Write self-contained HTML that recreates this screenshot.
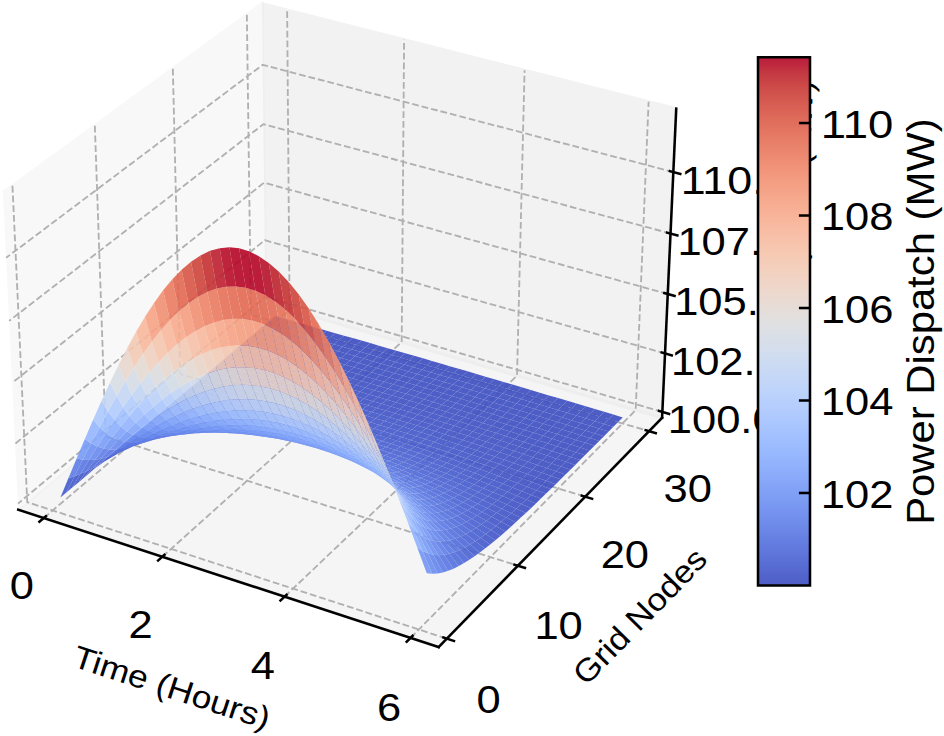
<!DOCTYPE html>
<html><head><meta charset="utf-8"><title>Power Dispatch Surface</title>
<style>html,body{margin:0;padding:0;background:#fff;overflow:hidden}svg{display:block}
text{font-family:"Liberation Sans",sans-serif;fill:#000}</style></head>
<body>
<svg width="944" height="736" viewBox="0.000 0.000 297.792 232.177">
<defs><linearGradient id="cbg" x1="0" y1="0" x2="0" y2="1"><stop offset="0.000" stop-color="#3b4cc0"/><stop offset="0.016" stop-color="#3f53c6"/><stop offset="0.031" stop-color="#445acc"/><stop offset="0.047" stop-color="#4961d2"/><stop offset="0.062" stop-color="#4e68d8"/><stop offset="0.078" stop-color="#536edd"/><stop offset="0.094" stop-color="#5875e1"/><stop offset="0.109" stop-color="#5d7ce6"/><stop offset="0.125" stop-color="#6282ea"/><stop offset="0.141" stop-color="#6788ee"/><stop offset="0.156" stop-color="#6c8ff1"/><stop offset="0.172" stop-color="#7295f4"/><stop offset="0.188" stop-color="#779af7"/><stop offset="0.203" stop-color="#7da0f9"/><stop offset="0.219" stop-color="#82a6fb"/><stop offset="0.234" stop-color="#88abfd"/><stop offset="0.250" stop-color="#8db0fe"/><stop offset="0.266" stop-color="#93b5fe"/><stop offset="0.281" stop-color="#98b9ff"/><stop offset="0.297" stop-color="#9ebeff"/><stop offset="0.312" stop-color="#a3c2fe"/><stop offset="0.328" stop-color="#a9c6fd"/><stop offset="0.344" stop-color="#aec9fc"/><stop offset="0.359" stop-color="#b3cdfb"/><stop offset="0.375" stop-color="#b9d0f9"/><stop offset="0.391" stop-color="#bed2f6"/><stop offset="0.406" stop-color="#c3d5f4"/><stop offset="0.422" stop-color="#c7d7f0"/><stop offset="0.438" stop-color="#ccd9ed"/><stop offset="0.453" stop-color="#d1dae9"/><stop offset="0.469" stop-color="#d5dbe5"/><stop offset="0.484" stop-color="#d9dce1"/><stop offset="0.500" stop-color="#dddcdc"/><stop offset="0.516" stop-color="#e1dad6"/><stop offset="0.531" stop-color="#e5d8d1"/><stop offset="0.547" stop-color="#e9d5cb"/><stop offset="0.562" stop-color="#ecd3c5"/><stop offset="0.578" stop-color="#efcfbf"/><stop offset="0.594" stop-color="#f1ccb8"/><stop offset="0.609" stop-color="#f3c8b2"/><stop offset="0.625" stop-color="#f5c4ac"/><stop offset="0.641" stop-color="#f6bfa6"/><stop offset="0.656" stop-color="#f7ba9f"/><stop offset="0.672" stop-color="#f7b599"/><stop offset="0.688" stop-color="#f7b093"/><stop offset="0.703" stop-color="#f7aa8c"/><stop offset="0.719" stop-color="#f6a586"/><stop offset="0.734" stop-color="#f59f80"/><stop offset="0.750" stop-color="#f4987a"/><stop offset="0.766" stop-color="#f29274"/><stop offset="0.781" stop-color="#f08b6e"/><stop offset="0.797" stop-color="#ee8468"/><stop offset="0.812" stop-color="#eb7d62"/><stop offset="0.828" stop-color="#e8765c"/><stop offset="0.844" stop-color="#e46e56"/><stop offset="0.859" stop-color="#e16751"/><stop offset="0.875" stop-color="#dd5f4b"/><stop offset="0.891" stop-color="#d85646"/><stop offset="0.906" stop-color="#d44e41"/><stop offset="0.922" stop-color="#cf453c"/><stop offset="0.938" stop-color="#ca3b37"/><stop offset="0.953" stop-color="#c43032"/><stop offset="0.969" stop-color="#be242e"/><stop offset="0.984" stop-color="#b8122a"/><stop offset="1.000" stop-color="#b40426"/></linearGradient>
<style type="text/css">*{stroke-linejoin: round; stroke-linecap: butt}</style>
</defs>
<g>
<g>
<path d="M 0 232.18 L 297.79 232.18 L 297.79 0 L 0 0 z" style="fill:#ffffff"/>
</g>
<g>
<path d="M -12.07 219.01 L 224.05 219.01 L 224.05 -17.11 L -12.07 -17.11 z" style="fill:#ffffff"/>
</g>
<g>
<g>
<path d="M 5.76 160.79 L 83.74 95.43 L 82.65 1.17 L 0.95 60.79" style="fill:#f2f2f2; opacity: 0.5; stroke: #f2f2f2; stroke-linejoin: miter"/>
</g>
</g>
<g>
<g>
<path d="M 83.74 95.43 L 208.86 131.79 L 213.32 34.29 L 82.65 1.17" style="fill:#e6e6e6; opacity: 0.5; stroke: #e6e6e6; stroke-linejoin: miter"/>
</g>
</g>
<g>
<g>
<path d="M 5.76 160.79 L 138.4 204.11 L 208.86 131.79 L 83.74 95.43" style="fill:#ececec; opacity: 0.5; stroke: #ececec; stroke-linejoin: miter"/>
</g>
</g>
<g>
<g>
<path d="M 13.8 163.41 L 91.35 97.64 L 90.58 3.18" style="fill:none; stroke-dasharray: 2.146,0.928; stroke-dashoffset: 0; stroke: #b0b0b0; stroke-width: 0.58"/>
<path d="M 51.2 175.63 L 126.72 107.92 L 127.48 12.53" style="fill:none; stroke-dasharray: 2.146,0.928; stroke-dashoffset: 0; stroke: #b0b0b0; stroke-width: 0.58"/>
<path d="M 89.76 188.22 L 163.1 118.5 L 165.48 22.16" style="fill:none; stroke-dasharray: 2.146,0.928; stroke-dashoffset: 0; stroke: #b0b0b0; stroke-width: 0.58"/>
<path d="M 129.53 201.21 L 200.53 129.37 L 204.61 32.08" style="fill:none; stroke-dasharray: 2.146,0.928; stroke-dashoffset: 0; stroke: #b0b0b0; stroke-width: 0.58"/>
</g>
</g>
<g>
<g>
<path d="M 3.93 58.61 L 8.6 158.41 L 140.97 201.46" style="fill:none; stroke-dasharray: 2.146,0.928; stroke-dashoffset: 0; stroke: #b0b0b0; stroke-width: 0.58"/>
<path d="M 29.92 39.65 L 33.34 137.67 L 163.39 178.45" style="fill:none; stroke-dasharray: 2.146,0.928; stroke-dashoffset: 0; stroke: #b0b0b0; stroke-width: 0.58"/>
<path d="M 54.53 21.69 L 56.83 117.98 L 184.61 156.67" style="fill:none; stroke-dasharray: 2.146,0.928; stroke-dashoffset: 0; stroke: #b0b0b0; stroke-width: 0.58"/>
<path d="M 77.87 4.66 L 79.16 99.27 L 204.74 136.02" style="fill:none; stroke-dasharray: 2.146,0.928; stroke-dashoffset: 0; stroke: #b0b0b0; stroke-width: 0.58"/>
</g>
</g>
<g>
<g>
<path d="M 208.94 129.93 L 83.72 93.62 L 5.67 158.87" style="fill:none; stroke-dasharray: 2.146,0.928; stroke-dashoffset: 0; stroke: #b0b0b0; stroke-width: 0.58"/>
<path d="M 209.79 111.49 L 83.51 75.77 L 4.76 139.99" style="fill:none; stroke-dasharray: 2.146,0.928; stroke-dashoffset: 0; stroke: #b0b0b0; stroke-width: 0.58"/>
<path d="M 210.65 92.74 L 83.3 57.63 L 3.84 120.78" style="fill:none; stroke-dasharray: 2.146,0.928; stroke-dashoffset: 0; stroke: #b0b0b0; stroke-width: 0.58"/>
<path d="M 211.52 73.67 L 83.09 39.19 L 2.89 101.22" style="fill:none; stroke-dasharray: 2.146,0.928; stroke-dashoffset: 0; stroke: #b0b0b0; stroke-width: 0.58"/>
<path d="M 212.41 54.27 L 82.87 20.45 L 1.94 81.31" style="fill:none; stroke-dasharray: 2.146,0.928; stroke-dashoffset: 0; stroke: #b0b0b0; stroke-width: 0.58"/>
</g>
</g>
<g>
<g>
<path d="M 5.76 160.79 L 138.4 204.11" style="fill:none; stroke: #000000; stroke-width: 0.8; stroke-linecap: square"/>
</g>
<g>
<g>
<path d="M 14.47 162.84 L 12.44 164.56" style="fill:none; stroke: #000000; stroke-width: 0.8; stroke-linecap: square"/>
</g>
<g>
<text x="6.89" y="188.88" font-size="12" text-anchor="middle" textLength="7.63" lengthAdjust="spacingAndGlyphs">0</text>
</g>
</g>
<g>
<g>
<path d="M 51.86 175.04 L 49.88 176.81" style="fill:none; stroke: #000000; stroke-width: 0.8; stroke-linecap: square"/>
</g>
<g>
<text x="44.34" y="201.39" font-size="12" text-anchor="middle" textLength="7.63" lengthAdjust="spacingAndGlyphs">2</text>
</g>
</g>
<g>
<g>
<path d="M 90.4 187.61 L 88.48 189.44" style="fill:none; stroke: #000000; stroke-width: 0.8; stroke-linecap: square"/>
</g>
<g>
<text x="82.95" y="214.28" font-size="12" text-anchor="middle" textLength="7.63" lengthAdjust="spacingAndGlyphs">4</text>
</g>
</g>
<g>
<g>
<path d="M 130.15 200.58 L 128.29 202.47" style="fill:none; stroke: #000000; stroke-width: 0.8; stroke-linecap: square"/>
</g>
<g>
<text x="122.78" y="227.59" font-size="12" text-anchor="middle" textLength="7.63" lengthAdjust="spacingAndGlyphs">6</text>
</g>
</g>
<g>
<text x="53.17" y="220.12" font-size="10" text-anchor="middle" textLength="64.75" lengthAdjust="spacingAndGlyphs" transform="rotate(-341.913 53.17 220.12)">Time (Hours)</text>
</g>
</g>
<g>
<g>
<path d="M 208.86 131.79 L 138.4 204.11" style="fill:none; stroke: #000000; stroke-width: 0.8; stroke-linecap: square"/>
</g>
<g>
<g>
<path d="M 139.86 201.1 L 143.21 202.19" style="fill:none; stroke: #000000; stroke-width: 0.8; stroke-linecap: square"/>
</g>
<g>
<text x="154.14" y="224.83" font-size="12" text-anchor="middle" textLength="7.63" lengthAdjust="spacingAndGlyphs">0</text>
</g>
</g>
<g>
<g>
<path d="M 162.3 178.11 L 165.58 179.14" style="fill:none; stroke: #000000; stroke-width: 0.8; stroke-linecap: square"/>
</g>
<g>
<text x="176.22" y="201.44" font-size="12" text-anchor="middle" textLength="15.27" lengthAdjust="spacingAndGlyphs">10</text>
</g>
</g>
<g>
<g>
<path d="M 183.54 156.35 L 186.77 157.33" style="fill:none; stroke: #000000; stroke-width: 0.8; stroke-linecap: square"/>
</g>
<g>
<text x="197.12" y="179.30" font-size="12" text-anchor="middle" textLength="15.27" lengthAdjust="spacingAndGlyphs">20</text>
</g>
</g>
<g>
<g>
<path d="M 203.68 135.72 L 206.85 136.64" style="fill:none; stroke: #000000; stroke-width: 0.8; stroke-linecap: square"/>
</g>
<g>
<text x="216.94" y="158.31" font-size="12" text-anchor="middle" textLength="15.27" lengthAdjust="spacingAndGlyphs">30</text>
</g>
</g>
<g>
<text x="204.31" y="196.75" font-size="10" text-anchor="middle" textLength="55.47" lengthAdjust="spacingAndGlyphs" transform="rotate(-45.742 204.31 196.75)">Grid Nodes</text>
</g>
</g>
<g>
<g>
<path d="M 208.86 131.79 L 213.32 34.29" style="fill:none; stroke: #000000; stroke-width: 0.8; stroke-linecap: square"/>
</g>
<g>
<g>
<path d="M 207.89 129.62 L 211.05 130.54" style="fill:none; stroke: #000000; stroke-width: 0.8; stroke-linecap: square"/>
</g>
<g>
<text x="227.83" y="136.60" font-size="12" text-anchor="middle" textLength="34.35" lengthAdjust="spacingAndGlyphs">100.0</text>
</g>
</g>
<g>
<g>
<path d="M 208.73 111.19 L 211.91 112.09" style="fill:none; stroke: #000000; stroke-width: 0.8; stroke-linecap: square"/>
</g>
<g>
<text x="228.83" y="118.21" font-size="12" text-anchor="middle" textLength="34.35" lengthAdjust="spacingAndGlyphs">102.5</text>
</g>
</g>
<g>
<g>
<path d="M 209.58 92.45 L 212.79 93.34" style="fill:none; stroke: #000000; stroke-width: 0.8; stroke-linecap: square"/>
</g>
<g>
<text x="229.84" y="99.50" font-size="12" text-anchor="middle" textLength="34.35" lengthAdjust="spacingAndGlyphs">105.0</text>
</g>
</g>
<g>
<g>
<path d="M 210.44 73.38 L 213.68 74.25" style="fill:none; stroke: #000000; stroke-width: 0.8; stroke-linecap: square"/>
</g>
<g>
<text x="230.87" y="80.48" font-size="12" text-anchor="middle" textLength="34.35" lengthAdjust="spacingAndGlyphs">107.5</text>
</g>
</g>
<g>
<g>
<path d="M 211.32 53.99 L 214.59 54.84" style="fill:none; stroke: #000000; stroke-width: 0.8; stroke-linecap: square"/>
</g>
<g>
<text x="231.92" y="61.12" font-size="12" text-anchor="middle" textLength="34.35" lengthAdjust="spacingAndGlyphs">110.0</text>
</g>
</g>
<g>
<text x="254.14" y="78.83" font-size="10" text-anchor="middle" textLength="106.83" lengthAdjust="spacingAndGlyphs" transform="rotate(-87.378 254.14 78.83)">Power Dispatch (MW)</text>
</g>
</g>
<g>
<g>
<path d="M 85.16 101.05 L 87.86 101.81 L 89.47 100.45 L 86.77 99.68 z" style="fill:#3b4cc0;fill-opacity:0.9"/>
<path d="M 87.86 101.81 L 90.57 102.58 L 92.18 101.22 L 89.47 100.45 z" style="fill:#3b4cc0;fill-opacity:0.9"/>
<path d="M 83.54 102.42 L 86.24 103.18 L 87.86 101.81 L 85.16 101.05 z" style="fill:#3b4cc0;fill-opacity:0.9"/>
<path d="M 90.57 102.58 L 93.28 103.35 L 94.89 101.99 L 92.18 101.22 z" style="fill:#3b4cc0;fill-opacity:0.9"/>
<path d="M 86.24 103.18 L 88.95 103.95 L 90.57 102.58 L 87.86 101.81 z" style="fill:#3b4cc0;fill-opacity:0.9"/>
<path d="M 93.28 103.35 L 96 104.13 L 97.6 102.76 L 94.89 101.99 z" style="fill:#3b4cc0;fill-opacity:0.9"/>
<path d="M 81.91 103.79 L 84.62 104.56 L 86.24 103.18 L 83.54 102.42 z" style="fill:#3b4cc0;fill-opacity:0.9"/>
<path d="M 88.95 103.95 L 91.67 104.72 L 93.28 103.35 L 90.57 102.58 z" style="fill:#3b4cc0;fill-opacity:0.9"/>
<path d="M 96 104.13 L 98.72 104.9 L 100.32 103.54 L 97.6 102.76 z" style="fill:#3b4cc0;fill-opacity:0.9"/>
<path d="M 84.62 104.56 L 87.33 105.33 L 88.95 103.95 L 86.24 103.18 z" style="fill:#3b4cc0;fill-opacity:0.9"/>
<path d="M 91.67 104.72 L 94.39 105.49 L 96 104.13 L 93.28 103.35 z" style="fill:#3b4cc0;fill-opacity:0.9"/>
<path d="M 98.72 104.9 L 101.45 105.68 L 103.05 104.32 L 100.32 103.54 z" style="fill:#3b4cc0;fill-opacity:0.9"/>
<path d="M 80.28 105.17 L 82.99 105.94 L 84.62 104.56 L 81.91 103.79 z" style="fill:#3b4cc0;fill-opacity:0.9"/>
<path d="M 87.33 105.33 L 90.05 106.09 L 91.67 104.72 L 88.95 103.95 z" style="fill:#3b4cc0;fill-opacity:0.9"/>
<path d="M 94.39 105.49 L 97.12 106.27 L 98.72 104.9 L 96 104.13 z" style="fill:#3b4cc0;fill-opacity:0.9"/>
<path d="M 101.45 105.68 L 104.19 106.46 L 105.78 105.1 L 103.05 104.32 z" style="fill:#3b4cc0;fill-opacity:0.9"/>
<path d="M 82.99 105.94 L 85.71 106.7 L 87.33 105.33 L 84.62 104.56 z" style="fill:#3b4cc0;fill-opacity:0.9"/>
<path d="M 90.05 106.09 L 92.78 106.86 L 94.39 105.49 L 91.67 104.72 z" style="fill:#3b4cc0;fill-opacity:0.9"/>
<path d="M 97.12 106.27 L 99.85 107.05 L 101.45 105.68 L 98.72 104.9 z" style="fill:#3b4cc0;fill-opacity:0.9"/>
<path d="M 78.64 106.56 L 81.36 107.32 L 82.99 105.94 L 80.28 105.17 z" style="fill:#3b4cc0;fill-opacity:0.9"/>
<path d="M 104.19 106.46 L 106.93 107.24 L 108.52 105.88 L 105.78 105.1 z" style="fill:#3b4cc0;fill-opacity:0.9"/>
<path d="M 85.71 106.7 L 88.43 107.47 L 90.05 106.09 L 87.33 105.33 z" style="fill:#3b4cc0;fill-opacity:0.9"/>
<path d="M 92.78 106.86 L 95.51 107.64 L 97.12 106.27 L 94.39 105.49 z" style="fill:#3b4cc0;fill-opacity:0.9"/>
<path d="M 99.85 107.05 L 102.59 107.83 L 104.19 106.46 L 101.45 105.68 z" style="fill:#3b4cc0;fill-opacity:0.9"/>
<path d="M 81.36 107.32 L 84.08 108.08 L 85.71 106.7 L 82.99 105.94 z" style="fill:#3b4cc0;fill-opacity:0.9"/>
<path d="M 106.93 107.24 L 109.68 108.03 L 111.27 106.66 L 108.52 105.88 z" style="fill:#3b4cc0;fill-opacity:0.9"/>
<path d="M 88.43 107.47 L 91.16 108.24 L 92.78 106.86 L 90.05 106.09 z" style="fill:#3b4cc0;fill-opacity:0.9"/>
<path d="M 95.51 107.64 L 98.25 108.41 L 99.85 107.05 L 97.12 106.27 z" style="fill:#3b4cc0;fill-opacity:0.9"/>
<path d="M 77 107.95 L 79.71 108.71 L 81.36 107.32 L 78.64 106.56 z" style="fill:#3b4cc0;fill-opacity:0.9"/>
<path d="M 102.59 107.83 L 105.34 108.61 L 106.93 107.24 L 104.19 106.46 z" style="fill:#3b4cc0;fill-opacity:0.9"/>
<path d="M 84.08 108.08 L 86.8 108.85 L 88.43 107.47 L 85.71 106.7 z" style="fill:#3b4cc0;fill-opacity:0.9"/>
<path d="M 109.68 108.03 L 112.44 108.82 L 114.02 107.45 L 111.27 106.66 z" style="fill:#3b4cc0;fill-opacity:0.9"/>
<path d="M 91.16 108.24 L 93.89 109.01 L 95.51 107.64 L 92.78 106.86 z" style="fill:#3b4cc0;fill-opacity:0.9"/>
<path d="M 98.25 108.41 L 100.99 109.19 L 102.59 107.83 L 99.85 107.05 z" style="fill:#3b4cc0;fill-opacity:0.9"/>
<path d="M 79.71 108.71 L 82.44 109.47 L 84.08 108.08 L 81.36 107.32 z" style="fill:#3b4cc0;fill-opacity:0.9"/>
<path d="M 105.34 108.61 L 108.09 109.39 L 109.68 108.03 L 106.93 107.24 z" style="fill:#3b4cc0;fill-opacity:0.9"/>
<path d="M 86.8 108.85 L 89.53 109.61 L 91.16 108.24 L 88.43 107.47 z" style="fill:#3b4cc0;fill-opacity:0.9"/>
<path d="M 112.44 108.82 L 115.2 109.61 L 116.77 108.24 L 114.02 107.45 z" style="fill:#3b4cc0;fill-opacity:0.9"/>
<path d="M 93.89 109.01 L 96.64 109.78 L 98.25 108.41 L 95.51 107.64 z" style="fill:#3b4cc0;fill-opacity:0.9"/>
<path d="M 75.35 109.35 L 78.07 110.1 L 79.71 108.71 L 77 107.95 z" style="fill:#3b4cc0;fill-opacity:0.9"/>
<path d="M 100.99 109.19 L 103.74 109.97 L 105.34 108.61 L 102.59 107.83 z" style="fill:#3b4cc0;fill-opacity:0.9"/>
<path d="M 82.44 109.47 L 85.17 110.23 L 86.8 108.85 L 84.08 108.08 z" style="fill:#3b4cc0;fill-opacity:0.9"/>
<path d="M 108.09 109.39 L 110.85 110.18 L 112.44 108.82 L 109.68 108.03 z" style="fill:#3b4cc0;fill-opacity:0.9"/>
<path d="M 89.53 109.61 L 92.27 110.38 L 93.89 109.01 L 91.16 108.24 z" style="fill:#3b4cc0;fill-opacity:0.9"/>
<path d="M 115.2 109.61 L 117.96 110.4 L 119.54 109.04 L 116.77 108.24 z" style="fill:#3b4cc0;fill-opacity:0.9"/>
<path d="M 96.64 109.78 L 99.38 110.56 L 100.99 109.19 L 98.25 108.41 z" style="fill:#3b4cc0;fill-opacity:0.9"/>
<path d="M 78.07 110.1 L 80.79 110.85 L 82.44 109.47 L 79.71 108.71 z" style="fill:#3b4cc0;fill-opacity:0.9"/>
<path d="M 103.74 109.97 L 106.5 110.76 L 108.09 109.39 L 105.34 108.61 z" style="fill:#3b4cc0;fill-opacity:0.9"/>
<path d="M 85.17 110.23 L 87.9 110.99 L 89.53 109.61 L 86.8 108.85 z" style="fill:#3b4cc0;fill-opacity:0.9"/>
<path d="M 110.85 110.18 L 113.61 110.97 L 115.2 109.61 L 112.44 108.82 z" style="fill:#3b4cc0;fill-opacity:0.9"/>
<path d="M 92.27 110.38 L 95.02 111.15 L 96.64 109.78 L 93.89 109.01 z" style="fill:#3b4cc0;fill-opacity:0.9"/>
<path d="M 117.96 110.4 L 120.74 111.2 L 122.31 109.83 L 119.54 109.04 z" style="fill:#3b4cc0;fill-opacity:0.9"/>
<path d="M 73.69 110.75 L 76.41 111.49 L 78.07 110.1 L 75.35 109.35 z" style="fill:#3b4cc0;fill-opacity:0.9"/>
<path d="M 99.38 110.56 L 102.13 111.34 L 103.74 109.97 L 100.99 109.19 z" style="fill:#3b4cc0;fill-opacity:0.9"/>
<path d="M 80.79 110.85 L 83.53 111.61 L 85.17 110.23 L 82.44 109.47 z" style="fill:#3b4cc0;fill-opacity:0.9"/>
<path d="M 106.5 110.76 L 109.26 111.55 L 110.85 110.18 L 108.09 109.39 z" style="fill:#3b4cc0;fill-opacity:0.9"/>
<path d="M 87.9 110.99 L 90.64 111.75 L 92.27 110.38 L 89.53 109.61 z" style="fill:#3b4cc0;fill-opacity:0.9"/>
<path d="M 113.61 110.97 L 116.38 111.77 L 117.96 110.4 L 115.2 109.61 z" style="fill:#3b4cc0;fill-opacity:0.9"/>
<path d="M 95.02 111.15 L 97.77 111.93 L 99.38 110.56 L 96.64 109.78 z" style="fill:#3b4cc0;fill-opacity:0.9"/>
<path d="M 120.74 111.2 L 123.51 112 L 125.08 110.63 L 122.31 109.83 z" style="fill:#3b4cc0;fill-opacity:0.9"/>
<path d="M 76.41 111.49 L 79.14 112.24 L 80.79 110.85 L 78.07 110.1 z" style="fill:#3b4cc0;fill-opacity:0.9"/>
<path d="M 102.13 111.34 L 104.89 112.12 L 106.5 110.76 L 103.74 109.97 z" style="fill:#3b4cc0;fill-opacity:0.9"/>
<path d="M 83.53 111.61 L 86.26 112.36 L 87.9 110.99 L 85.17 110.23 z" style="fill:#3b4cc0;fill-opacity:0.9"/>
<path d="M 109.26 111.55 L 112.02 112.34 L 113.61 110.97 L 110.85 110.18 z" style="fill:#3b4cc0;fill-opacity:0.9"/>
<path d="M 90.64 111.75 L 93.39 112.52 L 95.02 111.15 L 92.27 110.38 z" style="fill:#3b4cc0;fill-opacity:0.9"/>
<path d="M 116.38 111.77 L 119.16 112.57 L 120.74 111.2 L 117.96 110.4 z" style="fill:#3b4cc0;fill-opacity:0.9"/>
<path d="M 72.03 112.16 L 74.75 112.89 L 76.41 111.49 L 73.69 110.75 z" style="fill:#3b4cc0;fill-opacity:0.9"/>
<path d="M 97.77 111.93 L 100.52 112.71 L 102.13 111.34 L 99.38 110.56 z" style="fill:#3b4cc0;fill-opacity:0.9"/>
<path d="M 123.51 112 L 126.3 112.8 L 127.86 111.43 L 125.08 110.63 z" style="fill:#3b4cc0;fill-opacity:0.9"/>
<path d="M 79.14 112.24 L 81.88 112.99 L 83.53 111.61 L 80.79 110.85 z" style="fill:#3b4cc0;fill-opacity:0.9"/>
<path d="M 104.89 112.12 L 107.66 112.91 L 109.26 111.55 L 106.5 110.76 z" style="fill:#3b4cc0;fill-opacity:0.9"/>
<path d="M 86.26 112.36 L 89.01 113.12 L 90.64 111.75 L 87.9 110.99 z" style="fill:#3b4cc0;fill-opacity:0.9"/>
<path d="M 112.02 112.34 L 114.8 113.13 L 116.38 111.77 L 113.61 110.97 z" style="fill:#3b4cc0;fill-opacity:0.9"/>
<path d="M 93.39 112.52 L 96.14 113.29 L 97.77 111.93 L 95.02 111.15 z" style="fill:#3b4cc0;fill-opacity:0.9"/>
<path d="M 119.16 112.57 L 121.94 113.37 L 123.51 112 L 120.74 111.2 z" style="fill:#3b4cc0;fill-opacity:0.9"/>
<path d="M 74.75 112.89 L 77.49 113.63 L 79.14 112.24 L 76.41 111.49 z" style="fill:#3b4cc0;fill-opacity:0.9"/>
<path d="M 100.52 112.71 L 103.28 113.49 L 104.89 112.12 L 102.13 111.34 z" style="fill:#3b4cc0;fill-opacity:0.9"/>
<path d="M 126.3 112.8 L 129.09 113.61 L 130.65 112.24 L 127.86 111.43 z" style="fill:#3b4cc0;fill-opacity:0.9"/>
<path d="M 81.88 112.99 L 84.62 113.74 L 86.26 112.36 L 83.53 111.61 z" style="fill:#3b4cc0;fill-opacity:0.9"/>
<path d="M 107.66 112.91 L 110.43 113.7 L 112.02 112.34 L 109.26 111.55 z" style="fill:#3b4cc0;fill-opacity:0.9"/>
<path d="M 89.01 113.12 L 91.76 113.89 L 93.39 112.52 L 90.64 111.75 z" style="fill:#3b4cc0;fill-opacity:0.9"/>
<path d="M 114.8 113.13 L 117.58 113.93 L 119.16 112.57 L 116.38 111.77 z" style="fill:#3b4cc0;fill-opacity:0.9"/>
<path d="M 70.36 113.57 L 73.09 114.3 L 74.75 112.89 L 72.03 112.16 z" style="fill:#3b4cc0;fill-opacity:0.9"/>
<path d="M 96.14 113.29 L 98.9 114.07 L 100.52 112.71 L 97.77 111.93 z" style="fill:#3b4cc0;fill-opacity:0.9"/>
<path d="M 121.94 113.37 L 124.73 114.17 L 126.3 112.8 L 123.51 112 z" style="fill:#3b4cc0;fill-opacity:0.9"/>
<path d="M 77.49 113.63 L 80.23 114.37 L 81.88 112.99 L 79.14 112.24 z" style="fill:#3b4cc0;fill-opacity:0.9"/>
<path d="M 103.28 113.49 L 106.05 114.27 L 107.66 112.91 L 104.89 112.12 z" style="fill:#3c4ec2;fill-opacity:0.9"/>
<path d="M 129.09 113.61 L 131.89 114.42 L 133.44 113.05 L 130.65 112.24 z" style="fill:#3b4cc0;fill-opacity:0.9"/>
<path d="M 84.62 113.74 L 87.37 114.5 L 89.01 113.12 L 86.26 112.36 z" style="fill:#3b4cc0;fill-opacity:0.9"/>
<path d="M 110.43 113.7 L 113.21 114.5 L 114.8 113.13 L 112.02 112.34 z" style="fill:#3c4ec2;fill-opacity:0.9"/>
<path d="M 91.76 113.89 L 94.52 114.66 L 96.14 113.29 L 93.39 112.52 z" style="fill:#3c4ec2;fill-opacity:0.9"/>
<path d="M 117.58 113.93 L 120.36 114.74 L 121.94 113.37 L 119.16 112.57 z" style="fill:#3c4ec2;fill-opacity:0.9"/>
<path d="M 73.09 114.3 L 75.82 115.02 L 77.49 113.63 L 74.75 112.89 z" style="fill:#3b4cc0;fill-opacity:0.9"/>
<path d="M 98.9 114.07 L 101.67 114.85 L 103.28 113.49 L 100.52 112.71 z" style="fill:#3c4ec2;fill-opacity:0.9"/>
<path d="M 124.73 114.17 L 127.52 114.98 L 129.09 113.61 L 126.3 112.8 z" style="fill:#3b4cc0;fill-opacity:0.9"/>
<path d="M 80.23 114.37 L 82.97 115.12 L 84.62 113.74 L 81.88 112.99 z" style="fill:#3b4cc0;fill-opacity:0.9"/>
<path d="M 106.05 114.27 L 108.83 115.06 L 110.43 113.7 L 107.66 112.91 z" style="fill:#3c4ec2;fill-opacity:0.9"/>
<path d="M 131.89 114.42 L 134.69 115.24 L 136.24 113.86 L 133.44 113.05 z" style="fill:#3b4cc0;fill-opacity:0.9"/>
<path d="M 87.37 114.5 L 90.12 115.25 L 91.76 113.89 L 89.01 113.12 z" style="fill:#3c4ec2;fill-opacity:0.9"/>
<path d="M 68.68 114.99 L 71.41 115.7 L 73.09 114.3 L 70.36 113.57 z" style="fill:#3b4cc0;fill-opacity:0.9"/>
<path d="M 113.21 114.5 L 115.99 115.3 L 117.58 113.93 L 114.8 113.13 z" style="fill:#3c4ec2;fill-opacity:0.9"/>
<path d="M 94.52 114.66 L 97.28 115.43 L 98.9 114.07 L 96.14 113.29 z" style="fill:#3c4ec2;fill-opacity:0.9"/>
<path d="M 120.36 114.74 L 123.16 115.54 L 124.73 114.17 L 121.94 113.37 z" style="fill:#3c4ec2;fill-opacity:0.9"/>
<path d="M 75.82 115.02 L 78.57 115.76 L 80.23 114.37 L 77.49 113.63 z" style="fill:#3b4cc0;fill-opacity:0.9"/>
<path d="M 101.67 114.85 L 104.44 115.63 L 106.05 114.27 L 103.28 113.49 z" style="fill:#3c4ec2;fill-opacity:0.9"/>
<path d="M 127.52 114.98 L 130.32 115.8 L 131.89 114.42 L 129.09 113.61 z" style="fill:#3b4cc0;fill-opacity:0.9"/>
<path d="M 82.97 115.12 L 85.72 115.86 L 87.37 114.5 L 84.62 113.74 z" style="fill:#3b4cc0;fill-opacity:0.9"/>
<path d="M 108.83 115.06 L 111.61 115.86 L 113.21 114.5 L 110.43 113.7 z" style="fill:#3c4ec2;fill-opacity:0.9"/>
<path d="M 134.69 115.24 L 137.5 116.06 L 139.05 114.68 L 136.24 113.86 z" style="fill:#3b4cc0;fill-opacity:0.9"/>
<path d="M 90.12 115.25 L 92.88 116.02 L 94.52 114.66 L 91.76 113.89 z" style="fill:#3c4ec2;fill-opacity:0.9"/>
<path d="M 115.99 115.3 L 118.78 116.1 L 120.36 114.74 L 117.58 113.93 z" style="fill:#3c4ec2;fill-opacity:0.9"/>
<path d="M 71.41 115.7 L 74.15 116.42 L 75.82 115.02 L 73.09 114.3 z" style="fill:#3b4cc0;fill-opacity:0.9"/>
<path d="M 97.28 115.43 L 100.05 116.2 L 101.67 114.85 L 98.9 114.07 z" style="fill:#3c4ec2;fill-opacity:0.9"/>
<path d="M 123.16 115.54 L 125.95 116.35 L 127.52 114.98 L 124.73 114.17 z" style="fill:#3c4ec2;fill-opacity:0.9"/>
<path d="M 78.57 115.76 L 81.31 116.49 L 82.97 115.12 L 80.23 114.37 z" style="fill:#3b4cc0;fill-opacity:0.9"/>
<path d="M 104.44 115.63 L 107.22 116.42 L 108.83 115.06 L 106.05 114.27 z" style="fill:#3c4ec2;fill-opacity:0.9"/>
<path d="M 130.32 115.8 L 133.13 116.61 L 134.69 115.24 L 131.89 114.42 z" style="fill:#3b4cc0;fill-opacity:0.9"/>
<path d="M 85.72 115.86 L 88.48 116.62 L 90.12 115.25 L 87.37 114.5 z" style="fill:#3c4ec2;fill-opacity:0.9"/>
<path d="M 67 116.41 L 69.74 117.11 L 71.41 115.7 L 68.68 114.99 z" style="fill:#3b4cc0;fill-opacity:0.9"/>
<path d="M 111.61 115.86 L 114.4 116.66 L 115.99 115.3 L 113.21 114.5 z" style="fill:#3c4ec2;fill-opacity:0.9"/>
<path d="M 137.5 116.06 L 140.31 116.88 L 141.86 115.5 L 139.05 114.68 z" style="fill:#3b4cc0;fill-opacity:0.9"/>
<path d="M 92.88 116.02 L 95.65 116.78 L 97.28 115.43 L 94.52 114.66 z" style="fill:#3c4ec2;fill-opacity:0.9"/>
<path d="M 118.78 116.1 L 121.57 116.91 L 123.16 115.54 L 120.36 114.74 z" style="fill:#3c4ec2;fill-opacity:0.9"/>
<path d="M 74.15 116.42 L 76.9 117.14 L 78.57 115.76 L 75.82 115.02 z" style="fill:#3b4cc0;fill-opacity:0.9"/>
<path d="M 100.05 116.2 L 102.82 116.98 L 104.44 115.63 L 101.67 114.85 z" style="fill:#3c4ec2;fill-opacity:0.9"/>
<path d="M 125.95 116.35 L 128.76 117.17 L 130.32 115.8 L 127.52 114.98 z" style="fill:#3c4ec2;fill-opacity:0.9"/>
<path d="M 81.31 116.49 L 84.07 117.23 L 85.72 115.86 L 82.97 115.12 z" style="fill:#3c4ec2;fill-opacity:0.9"/>
<path d="M 107.22 116.42 L 110 117.21 L 111.61 115.86 L 108.83 115.06 z" style="fill:#3c4ec2;fill-opacity:0.9"/>
<path d="M 133.13 116.61 L 135.94 117.43 L 137.5 116.06 L 134.69 115.24 z" style="fill:#3b4cc0;fill-opacity:0.9"/>
<path d="M 88.48 116.62 L 91.24 117.37 L 92.88 116.02 L 90.12 115.25 z" style="fill:#3c4ec2;fill-opacity:0.9"/>
<path d="M 114.4 116.66 L 117.19 117.46 L 118.78 116.1 L 115.99 115.3 z" style="fill:#3c4ec2;fill-opacity:0.9"/>
<path d="M 140.31 116.88 L 143.13 117.7 L 144.68 116.32 L 141.86 115.5 z" style="fill:#3b4cc0;fill-opacity:0.9"/>
<path d="M 69.74 117.11 L 72.48 117.81 L 74.15 116.42 L 71.41 115.7 z" style="fill:#3b4cc0;fill-opacity:0.9"/>
<path d="M 95.65 116.78 L 98.42 117.55 L 100.05 116.2 L 97.28 115.43 z" style="fill:#3c4ec2;fill-opacity:0.9"/>
<path d="M 121.57 116.91 L 124.38 117.72 L 125.95 116.35 L 123.16 115.54 z" style="fill:#3c4ec2;fill-opacity:0.9"/>
<path d="M 76.9 117.14 L 79.65 117.86 L 81.31 116.49 L 78.57 115.76 z" style="fill:#3c4ec2;fill-opacity:0.9"/>
<path d="M 102.82 116.98 L 105.61 117.77 L 107.22 116.42 L 104.44 115.63 z" style="fill:#3c4ec2;fill-opacity:0.9"/>
<path d="M 128.76 117.17 L 131.57 117.99 L 133.13 116.61 L 130.32 115.8 z" style="fill:#3c4ec2;fill-opacity:0.9"/>
<path d="M 84.07 117.23 L 86.83 117.97 L 88.48 116.62 L 85.72 115.86 z" style="fill:#3c4ec2;fill-opacity:0.9"/>
<path d="M 65.31 117.84 L 68.05 118.52 L 69.74 117.11 L 67 116.41 z" style="fill:#3b4cc0;fill-opacity:0.9"/>
<path d="M 110 117.21 L 112.79 118.01 L 114.4 116.66 L 111.61 115.86 z" style="fill:#3c4ec2;fill-opacity:0.9"/>
<path d="M 135.94 117.43 L 138.76 118.26 L 140.31 116.88 L 137.5 116.06 z" style="fill:#3c4ec2;fill-opacity:0.9"/>
<path d="M 91.24 117.37 L 94.01 118.13 L 95.65 116.78 L 92.88 116.02 z" style="fill:#3c4ec2;fill-opacity:0.9"/>
<path d="M 143.13 117.7 L 145.96 118.53 L 147.5 117.14 L 144.68 116.32 z" style="fill:#3b4cc0;fill-opacity:0.9"/>
<path d="M 117.19 117.46 L 119.99 118.27 L 121.57 116.91 L 118.78 116.1 z" style="fill:#3c4ec2;fill-opacity:0.9"/>
<path d="M 72.48 117.81 L 75.23 118.52 L 76.9 117.14 L 74.15 116.42 z" style="fill:#3b4cc0;fill-opacity:0.9"/>
<path d="M 98.42 117.55 L 101.2 118.33 L 102.82 116.98 L 100.05 116.2 z" style="fill:#3c4ec2;fill-opacity:0.9"/>
<path d="M 124.38 117.72 L 127.18 118.53 L 128.76 117.17 L 125.95 116.35 z" style="fill:#3c4ec2;fill-opacity:0.9"/>
<path d="M 79.65 117.86 L 82.41 118.59 L 84.07 117.23 L 81.31 116.49 z" style="fill:#3c4ec2;fill-opacity:0.9"/>
<path d="M 105.61 117.77 L 108.39 118.56 L 110 117.21 L 107.22 116.42 z" style="fill:#3c4ec2;fill-opacity:0.9"/>
<path d="M 131.57 117.99 L 134.38 118.81 L 135.94 117.43 L 133.13 116.61 z" style="fill:#3c4ec2;fill-opacity:0.9"/>
<path d="M 86.83 117.97 L 89.6 118.72 L 91.24 117.37 L 88.48 116.62 z" style="fill:#3c4ec2;fill-opacity:0.9"/>
<path d="M 68.05 118.52 L 70.8 119.21 L 72.48 117.81 L 69.74 117.11 z" style="fill:#3b4cc0;fill-opacity:0.9"/>
<path d="M 138.76 118.26 L 141.59 119.09 L 143.13 117.7 L 140.31 116.88 z" style="fill:#3c4ec2;fill-opacity:0.9"/>
<path d="M 112.79 118.01 L 115.59 118.81 L 117.19 117.46 L 114.4 116.66 z" style="fill:#3c4ec2;fill-opacity:0.9"/>
<path d="M 94.01 118.13 L 96.79 118.9 L 98.42 117.55 L 95.65 116.78 z" style="fill:#3c4ec2;fill-opacity:0.9"/>
<path d="M 145.96 118.53 L 148.79 119.37 L 150.33 117.97 L 147.5 117.14 z" style="fill:#3b4cc0;fill-opacity:0.9"/>
<path d="M 119.99 118.27 L 122.79 119.08 L 124.38 117.72 L 121.57 116.91 z" style="fill:#3c4ec2;fill-opacity:0.9"/>
<path d="M 75.23 118.52 L 77.98 119.23 L 79.65 117.86 L 76.9 117.14 z" style="fill:#3c4ec2;fill-opacity:0.9"/>
<path d="M 101.2 118.33 L 103.99 119.11 L 105.61 117.77 L 102.82 116.98 z" style="fill:#3c4ec2;fill-opacity:0.9"/>
<path d="M 127.18 118.53 L 130 119.36 L 131.57 117.99 L 128.76 117.17 z" style="fill:#3c4ec2;fill-opacity:0.9"/>
<path d="M 82.41 118.59 L 85.17 119.32 L 86.83 117.97 L 84.07 117.23 z" style="fill:#3c4ec2;fill-opacity:0.9"/>
<path d="M 63.62 119.27 L 66.36 119.94 L 68.05 118.52 L 65.31 117.84 z" style="fill:#3b4cc0;fill-opacity:0.9"/>
<path d="M 134.38 118.81 L 137.21 119.64 L 138.76 118.26 L 135.94 117.43 z" style="fill:#3c4ec2;fill-opacity:0.9"/>
<path d="M 108.39 118.56 L 111.19 119.36 L 112.79 118.01 L 110 117.21 z" style="fill:#3c4ec2;fill-opacity:0.9"/>
<path d="M 89.6 118.72 L 92.37 119.47 L 94.01 118.13 L 91.24 117.37 z" style="fill:#3c4ec2;fill-opacity:0.9"/>
<path d="M 141.59 119.09 L 144.42 119.92 L 145.96 118.53 L 143.13 117.7 z" style="fill:#3c4ec2;fill-opacity:0.9"/>
<path d="M 115.59 118.81 L 118.39 119.62 L 119.99 118.27 L 117.19 117.46 z" style="fill:#3c4ec2;fill-opacity:0.9"/>
<path d="M 70.8 119.21 L 73.55 119.9 L 75.23 118.52 L 72.48 117.81 z" style="fill:#3b4cc0;fill-opacity:0.9"/>
<path d="M 148.79 119.37 L 151.63 120.2 L 153.16 118.81 L 150.33 117.97 z" style="fill:#3b4cc0;fill-opacity:0.9"/>
<path d="M 96.79 118.9 L 99.57 119.67 L 101.2 118.33 L 98.42 117.55 z" style="fill:#3c4ec2;fill-opacity:0.9"/>
<path d="M 122.79 119.08 L 125.6 119.9 L 127.18 118.53 L 124.38 117.72 z" style="fill:#3c4ec2;fill-opacity:0.9"/>
<path d="M 77.98 119.23 L 80.74 119.94 L 82.41 118.59 L 79.65 117.86 z" style="fill:#3c4ec2;fill-opacity:0.9"/>
<path d="M 130 119.36 L 132.82 120.18 L 134.38 118.81 L 131.57 117.99 z" style="fill:#3c4ec2;fill-opacity:0.9"/>
<path d="M 103.99 119.11 L 106.78 119.9 L 108.39 118.56 L 105.61 117.77 z" style="fill:#3c4ec2;fill-opacity:0.9"/>
<path d="M 85.17 119.32 L 87.94 120.06 L 89.6 118.72 L 86.83 117.97 z" style="fill:#3c4ec2;fill-opacity:0.9"/>
<path d="M 66.36 119.94 L 69.11 120.6 L 70.8 119.21 L 68.05 118.52 z" style="fill:#3b4cc0;fill-opacity:0.9"/>
<path d="M 137.21 119.64 L 140.03 120.47 L 141.59 119.09 L 138.76 118.26 z" style="fill:#3c4ec2;fill-opacity:0.9"/>
<path d="M 111.19 119.36 L 113.99 120.16 L 115.59 118.81 L 112.79 118.01 z" style="fill:#3c4ec2;fill-opacity:0.9"/>
<path d="M 92.37 119.47 L 95.15 120.23 L 96.79 118.9 L 94.01 118.13 z" style="fill:#3d50c3;fill-opacity:0.9"/>
<path d="M 144.42 119.92 L 147.26 120.76 L 148.79 119.37 L 145.96 118.53 z" style="fill:#3b4cc0;fill-opacity:0.9"/>
<path d="M 118.39 119.62 L 121.2 120.43 L 122.79 119.08 L 119.99 118.27 z" style="fill:#3c4ec2;fill-opacity:0.9"/>
<path d="M 73.55 119.9 L 76.3 120.59 L 77.98 119.23 L 75.23 118.52 z" style="fill:#3c4ec2;fill-opacity:0.9"/>
<path d="M 151.63 120.2 L 154.48 121.04 L 156.01 119.64 L 153.16 118.81 z" style="fill:#3b4cc0;fill-opacity:0.9"/>
<path d="M 125.6 119.9 L 128.42 120.72 L 130 119.36 L 127.18 118.53 z" style="fill:#3c4ec2;fill-opacity:0.9"/>
<path d="M 99.57 119.67 L 102.36 120.45 L 103.99 119.11 L 101.2 118.33 z" style="fill:#3d50c3;fill-opacity:0.9"/>
<path d="M 61.92 120.71 L 64.66 121.35 L 66.36 119.94 L 63.62 119.27 z" style="fill:#3b4cc0;fill-opacity:0.9"/>
<path d="M 80.74 119.94 L 83.51 120.66 L 85.17 119.32 L 82.41 118.59 z" style="fill:#3c4ec2;fill-opacity:0.9"/>
<path d="M 132.82 120.18 L 135.64 121.01 L 137.21 119.64 L 134.38 118.81 z" style="fill:#3c4ec2;fill-opacity:0.9"/>
<path d="M 106.78 119.9 L 109.58 120.69 L 111.19 119.36 L 108.39 118.56 z" style="fill:#3d50c3;fill-opacity:0.9"/>
<path d="M 87.94 120.06 L 90.72 120.8 L 92.37 119.47 L 89.6 118.72 z" style="fill:#3d50c3;fill-opacity:0.9"/>
<path d="M 140.03 120.47 L 142.87 121.31 L 144.42 119.92 L 141.59 119.09 z" style="fill:#3c4ec2;fill-opacity:0.9"/>
<path d="M 113.99 120.16 L 116.79 120.97 L 118.39 119.62 L 115.59 118.81 z" style="fill:#3c4ec2;fill-opacity:0.9"/>
<path d="M 69.11 120.6 L 71.86 121.27 L 73.55 119.9 L 70.8 119.21 z" style="fill:#3c4ec2;fill-opacity:0.9"/>
<path d="M 147.26 120.76 L 150.1 121.6 L 151.63 120.2 L 148.79 119.37 z" style="fill:#3b4cc0;fill-opacity:0.9"/>
<path d="M 95.15 120.23 L 97.93 121 L 99.57 119.67 L 96.79 118.9 z" style="fill:#3d50c3;fill-opacity:0.9"/>
<path d="M 121.2 120.43 L 124.02 121.25 L 125.6 119.9 L 122.79 119.08 z" style="fill:#3c4ec2;fill-opacity:0.9"/>
<path d="M 76.3 120.59 L 79.07 121.29 L 80.74 119.94 L 77.98 119.23 z" style="fill:#3c4ec2;fill-opacity:0.9"/>
<path d="M 154.48 121.04 L 157.33 121.89 L 158.85 120.48 L 156.01 119.64 z" style="fill:#3b4cc0;fill-opacity:0.9"/>
<path d="M 128.42 120.72 L 131.24 121.55 L 132.82 120.18 L 130 119.36 z" style="fill:#3c4ec2;fill-opacity:0.9"/>
<path d="M 102.36 120.45 L 105.15 121.23 L 106.78 119.9 L 103.99 119.11 z" style="fill:#3d50c3;fill-opacity:0.9"/>
<path d="M 83.51 120.66 L 86.28 121.39 L 87.94 120.06 L 85.17 119.32 z" style="fill:#3d50c3;fill-opacity:0.9"/>
<path d="M 64.66 121.35 L 67.41 121.99 L 69.11 120.6 L 66.36 119.94 z" style="fill:#3b4cc0;fill-opacity:0.9"/>
<path d="M 135.64 121.01 L 138.48 121.85 L 140.03 120.47 L 137.21 119.64 z" style="fill:#3c4ec2;fill-opacity:0.9"/>
<path d="M 109.58 120.69 L 112.38 121.49 L 113.99 120.16 L 111.19 119.36 z" style="fill:#3d50c3;fill-opacity:0.9"/>
<path d="M 142.87 121.31 L 145.71 122.15 L 147.26 120.76 L 144.42 119.92 z" style="fill:#3c4ec2;fill-opacity:0.9"/>
<path d="M 90.72 120.8 L 93.5 121.55 L 95.15 120.23 L 92.37 119.47 z" style="fill:#3d50c3;fill-opacity:0.9"/>
<path d="M 116.79 120.97 L 119.61 121.78 L 121.2 120.43 L 118.39 119.62 z" style="fill:#3d50c3;fill-opacity:0.9"/>
<path d="M 71.86 121.27 L 74.62 121.95 L 76.3 120.59 L 73.55 119.9 z" style="fill:#3c4ec2;fill-opacity:0.9"/>
<path d="M 150.1 121.6 L 152.95 122.44 L 154.48 121.04 L 151.63 120.2 z" style="fill:#3b4cc0;fill-opacity:0.9"/>
<path d="M 124.02 121.25 L 126.84 122.08 L 128.42 120.72 L 125.6 119.9 z" style="fill:#3c4ec2;fill-opacity:0.9"/>
<path d="M 97.93 121 L 100.73 121.77 L 102.36 120.45 L 99.57 119.67 z" style="fill:#3d50c3;fill-opacity:0.9"/>
<path d="M 60.21 122.16 L 62.96 122.77 L 64.66 121.35 L 61.92 120.71 z" style="fill:#3b4cc0;fill-opacity:0.9"/>
<path d="M 79.07 121.29 L 81.84 122 L 83.51 120.66 L 80.74 119.94 z" style="fill:#3d50c3;fill-opacity:0.9"/>
<path d="M 157.33 121.89 L 160.19 122.73 L 161.71 121.32 L 158.85 120.48 z" style="fill:#3b4cc0;fill-opacity:0.9"/>
<path d="M 131.24 121.55 L 134.07 122.38 L 135.64 121.01 L 132.82 120.18 z" style="fill:#3c4ec2;fill-opacity:0.9"/>
<path d="M 105.15 121.23 L 107.96 122.02 L 109.58 120.69 L 106.78 119.9 z" style="fill:#3d50c3;fill-opacity:0.9"/>
<path d="M 138.48 121.85 L 141.31 122.69 L 142.87 121.31 L 140.03 120.47 z" style="fill:#3c4ec2;fill-opacity:0.9"/>
<path d="M 86.28 121.39 L 89.06 122.12 L 90.72 120.8 L 87.94 120.06 z" style="fill:#3d50c3;fill-opacity:0.9"/>
<path d="M 112.38 121.49 L 115.19 122.3 L 116.79 120.97 L 113.99 120.16 z" style="fill:#3d50c3;fill-opacity:0.9"/>
<path d="M 67.41 121.99 L 70.17 122.64 L 71.86 121.27 L 69.11 120.6 z" style="fill:#3c4ec2;fill-opacity:0.9"/>
<path d="M 145.71 122.15 L 148.56 122.99 L 150.1 121.6 L 147.26 120.76 z" style="fill:#3c4ec2;fill-opacity:0.9"/>
<path d="M 119.61 121.78 L 122.43 122.6 L 124.02 121.25 L 121.2 120.43 z" style="fill:#3d50c3;fill-opacity:0.9"/>
<path d="M 93.5 121.55 L 96.29 122.31 L 97.93 121 L 95.15 120.23 z" style="fill:#3d50c3;fill-opacity:0.9"/>
<path d="M 74.62 121.95 L 77.39 122.63 L 79.07 121.29 L 76.3 120.59 z" style="fill:#3d50c3;fill-opacity:0.9"/>
<path d="M 152.95 122.44 L 155.8 123.29 L 157.33 121.89 L 154.48 121.04 z" style="fill:#3b4cc0;fill-opacity:0.9"/>
<path d="M 126.84 122.08 L 129.67 122.91 L 131.24 121.55 L 128.42 120.72 z" style="fill:#3c4ec2;fill-opacity:0.9"/>
<path d="M 100.73 121.77 L 103.53 122.55 L 105.15 121.23 L 102.36 120.45 z" style="fill:#3d50c3;fill-opacity:0.9"/>
<path d="M 160.19 122.73 L 163.05 123.58 L 164.57 122.17 L 161.71 121.32 z" style="fill:#3b4cc0;fill-opacity:0.9"/>
<path d="M 62.96 122.77 L 65.71 123.38 L 67.41 121.99 L 64.66 121.35 z" style="fill:#3b4cc0;fill-opacity:0.9"/>
<path d="M 81.84 122 L 84.62 122.71 L 86.28 121.39 L 83.51 120.66 z" style="fill:#3d50c3;fill-opacity:0.9"/>
<path d="M 134.07 122.38 L 136.91 123.22 L 138.48 121.85 L 135.64 121.01 z" style="fill:#3c4ec2;fill-opacity:0.9"/>
<path d="M 107.96 122.02 L 110.76 122.82 L 112.38 121.49 L 109.58 120.69 z" style="fill:#3d50c3;fill-opacity:0.9"/>
<path d="M 141.31 122.69 L 144.16 123.53 L 145.71 122.15 L 142.87 121.31 z" style="fill:#3c4ec2;fill-opacity:0.9"/>
<path d="M 89.06 122.12 L 91.85 122.86 L 93.5 121.55 L 90.72 120.8 z" style="fill:#3d50c3;fill-opacity:0.9"/>
<path d="M 115.19 122.3 L 118.01 123.11 L 119.61 121.78 L 116.79 120.97 z" style="fill:#3d50c3;fill-opacity:0.9"/>
<path d="M 70.17 122.64 L 72.93 123.29 L 74.62 121.95 L 71.86 121.27 z" style="fill:#3c4ec2;fill-opacity:0.9"/>
<path d="M 148.56 122.99 L 151.41 123.84 L 152.95 122.44 L 150.1 121.6 z" style="fill:#3c4ec2;fill-opacity:0.9"/>
<path d="M 122.43 122.6 L 125.25 123.42 L 126.84 122.08 L 124.02 121.25 z" style="fill:#3d50c3;fill-opacity:0.9"/>
<path d="M 96.29 122.31 L 99.09 123.08 L 100.73 121.77 L 97.93 121 z" style="fill:#3d50c3;fill-opacity:0.9"/>
<path d="M 58.49 123.61 L 61.24 124.19 L 62.96 122.77 L 60.21 122.16 z" style="fill:#3b4cc0;fill-opacity:0.9"/>
<path d="M 155.8 123.29 L 158.67 124.14 L 160.19 122.73 L 157.33 121.89 z" style="fill:#3b4cc0;fill-opacity:0.9"/>
<path d="M 77.39 122.63 L 80.16 123.31 L 81.84 122 L 79.07 121.29 z" style="fill:#3d50c3;fill-opacity:0.9"/>
<path d="M 129.67 122.91 L 132.5 123.74 L 134.07 122.38 L 131.24 121.55 z" style="fill:#3c4ec2;fill-opacity:0.9"/>
<path d="M 103.53 122.55 L 106.33 123.33 L 107.96 122.02 L 105.15 121.23 z" style="fill:#3d50c3;fill-opacity:0.9"/>
<path d="M 163.05 123.58 L 165.92 124.44 L 167.44 123.02 L 164.57 122.17 z" style="fill:#3b4cc0;fill-opacity:0.9"/>
<path d="M 136.91 123.22 L 139.75 124.06 L 141.31 122.69 L 138.48 121.85 z" style="fill:#3c4ec2;fill-opacity:0.9"/>
<path d="M 84.62 122.71 L 87.4 123.43 L 89.06 122.12 L 86.28 121.39 z" style="fill:#3d50c3;fill-opacity:0.9"/>
<path d="M 65.71 123.38 L 68.47 124 L 70.17 122.64 L 67.41 121.99 z" style="fill:#3c4ec2;fill-opacity:0.9"/>
<path d="M 110.76 122.82 L 113.58 123.62 L 115.19 122.3 L 112.38 121.49 z" style="fill:#3d50c3;fill-opacity:0.9"/>
<path d="M 144.16 123.53 L 147.01 124.38 L 148.56 122.99 L 145.71 122.15 z" style="fill:#3c4ec2;fill-opacity:0.9"/>
<path d="M 118.01 123.11 L 120.83 123.93 L 122.43 122.6 L 119.61 121.78 z" style="fill:#3d50c3;fill-opacity:0.9"/>
<path d="M 91.85 122.86 L 94.64 123.61 L 96.29 122.31 L 93.5 121.55 z" style="fill:#3e51c5;fill-opacity:0.9"/>
<path d="M 72.93 123.29 L 75.7 123.95 L 77.39 122.63 L 74.62 121.95 z" style="fill:#3d50c3;fill-opacity:0.9"/>
<path d="M 151.41 123.84 L 154.27 124.69 L 155.8 123.29 L 152.95 122.44 z" style="fill:#3c4ec2;fill-opacity:0.9"/>
<path d="M 125.25 123.42 L 128.08 124.25 L 129.67 122.91 L 126.84 122.08 z" style="fill:#3d50c3;fill-opacity:0.9"/>
<path d="M 99.09 123.08 L 101.89 123.85 L 103.53 122.55 L 100.73 121.77 z" style="fill:#3e51c5;fill-opacity:0.9"/>
<path d="M 158.67 124.14 L 161.53 125 L 163.05 123.58 L 160.19 122.73 z" style="fill:#3b4cc0;fill-opacity:0.9"/>
<path d="M 61.24 124.19 L 64 124.77 L 65.71 123.38 L 62.96 122.77 z" style="fill:#3c4ec2;fill-opacity:0.9"/>
<path d="M 132.5 123.74 L 135.34 124.58 L 136.91 123.22 L 134.07 122.38 z" style="fill:#3c4ec2;fill-opacity:0.9"/>
<path d="M 80.16 123.31 L 82.94 124.01 L 84.62 122.71 L 81.84 122 z" style="fill:#3d50c3;fill-opacity:0.9"/>
<path d="M 106.33 123.33 L 109.14 124.13 L 110.76 122.82 L 107.96 122.02 z" style="fill:#3d50c3;fill-opacity:0.9"/>
<path d="M 165.92 124.44 L 168.8 125.3 L 170.31 123.87 L 167.44 123.02 z" style="fill:#3b4cc0;fill-opacity:0.9"/>
<path d="M 139.75 124.06 L 142.6 124.91 L 144.16 123.53 L 141.31 122.69 z" style="fill:#3c4ec2;fill-opacity:0.9"/>
<path d="M 87.4 123.43 L 90.19 124.15 L 91.85 122.86 L 89.06 122.12 z" style="fill:#3e51c5;fill-opacity:0.9"/>
<path d="M 113.58 123.62 L 116.4 124.43 L 118.01 123.11 L 115.19 122.3 z" style="fill:#3d50c3;fill-opacity:0.9"/>
<path d="M 68.47 124 L 71.23 124.63 L 72.93 123.29 L 70.17 122.64 z" style="fill:#3d50c3;fill-opacity:0.9"/>
<path d="M 147.01 124.38 L 149.87 125.23 L 151.41 123.84 L 148.56 122.99 z" style="fill:#3c4ec2;fill-opacity:0.9"/>
<path d="M 120.83 123.93 L 123.66 124.76 L 125.25 123.42 L 122.43 122.6 z" style="fill:#3d50c3;fill-opacity:0.9"/>
<path d="M 94.64 123.61 L 97.44 124.36 L 99.09 123.08 L 96.29 122.31 z" style="fill:#3e51c5;fill-opacity:0.9"/>
<path d="M 56.77 125.06 L 59.53 125.6 L 61.24 124.19 L 58.49 123.61 z" style="fill:#3b4cc0;fill-opacity:0.9"/>
<path d="M 154.27 124.69 L 157.14 125.55 L 158.67 124.14 L 155.8 123.29 z" style="fill:#3c4ec2;fill-opacity:0.9"/>
<path d="M 75.7 123.95 L 78.48 124.62 L 80.16 123.31 L 77.39 122.63 z" style="fill:#3d50c3;fill-opacity:0.9"/>
<path d="M 128.08 124.25 L 130.92 125.09 L 132.5 123.74 L 129.67 122.91 z" style="fill:#3d50c3;fill-opacity:0.9"/>
<path d="M 101.89 123.85 L 104.7 124.63 L 106.33 123.33 L 103.53 122.55 z" style="fill:#3e51c5;fill-opacity:0.9"/>
<path d="M 161.53 125 L 164.41 125.86 L 165.92 124.44 L 163.05 123.58 z" style="fill:#3b4cc0;fill-opacity:0.9"/>
<path d="M 135.34 124.58 L 138.19 125.43 L 139.75 124.06 L 136.91 123.22 z" style="fill:#3c4ec2;fill-opacity:0.9"/>
<path d="M 64 124.77 L 66.76 125.35 L 68.47 124 L 65.71 123.38 z" style="fill:#3c4ec2;fill-opacity:0.9"/>
<path d="M 82.94 124.01 L 85.73 124.71 L 87.4 123.43 L 84.62 122.71 z" style="fill:#3e51c5;fill-opacity:0.9"/>
<path d="M 109.14 124.13 L 111.96 124.93 L 113.58 123.62 L 110.76 122.82 z" style="fill:#3e51c5;fill-opacity:0.9"/>
<path d="M 168.8 125.3 L 171.68 126.16 L 173.19 124.73 L 170.31 123.87 z" style="fill:#3b4cc0;fill-opacity:0.9"/>
<path d="M 142.6 124.91 L 145.46 125.76 L 147.01 124.38 L 144.16 123.53 z" style="fill:#3c4ec2;fill-opacity:0.9"/>
<path d="M 116.4 124.43 L 119.22 125.25 L 120.83 123.93 L 118.01 123.11 z" style="fill:#3d50c3;fill-opacity:0.9"/>
<path d="M 90.19 124.15 L 92.99 124.89 L 94.64 123.61 L 91.85 122.86 z" style="fill:#3e51c5;fill-opacity:0.9"/>
<path d="M 71.23 124.63 L 74.01 125.26 L 75.7 123.95 L 72.93 123.29 z" style="fill:#3d50c3;fill-opacity:0.9"/>
<path d="M 149.87 125.23 L 152.73 126.09 L 154.27 124.69 L 151.41 123.84 z" style="fill:#3c4ec2;fill-opacity:0.9"/>
<path d="M 123.66 124.76 L 126.49 125.59 L 128.08 124.25 L 125.25 123.42 z" style="fill:#3d50c3;fill-opacity:0.9"/>
<path d="M 97.44 124.36 L 100.25 125.13 L 101.89 123.85 L 99.09 123.08 z" style="fill:#3e51c5;fill-opacity:0.9"/>
<path d="M 157.14 125.55 L 160.01 126.41 L 161.53 125 L 158.67 124.14 z" style="fill:#3c4ec2;fill-opacity:0.9"/>
<path d="M 59.53 125.6 L 62.28 126.15 L 64 124.77 L 61.24 124.19 z" style="fill:#3c4ec2;fill-opacity:0.9"/>
<path d="M 130.92 125.09 L 133.76 125.94 L 135.34 124.58 L 132.5 123.74 z" style="fill:#3d50c3;fill-opacity:0.9"/>
<path d="M 78.48 124.62 L 81.26 125.29 L 82.94 124.01 L 80.16 123.31 z" style="fill:#3e51c5;fill-opacity:0.9"/>
<path d="M 104.7 124.63 L 107.51 125.42 L 109.14 124.13 L 106.33 123.33 z" style="fill:#3e51c5;fill-opacity:0.9"/>
<path d="M 164.41 125.86 L 167.29 126.72 L 168.8 125.3 L 165.92 124.44 z" style="fill:#3b4cc0;fill-opacity:0.9"/>
<path d="M 138.19 125.43 L 141.04 126.28 L 142.6 124.91 L 139.75 124.06 z" style="fill:#3c4ec2;fill-opacity:0.9"/>
<path d="M 111.96 124.93 L 114.78 125.74 L 116.4 124.43 L 113.58 123.62 z" style="fill:#3e51c5;fill-opacity:0.9"/>
<path d="M 85.73 124.71 L 88.52 125.42 L 90.19 124.15 L 87.4 123.43 z" style="fill:#3e51c5;fill-opacity:0.9"/>
<path d="M 66.76 125.35 L 69.53 125.95 L 71.23 124.63 L 68.47 124 z" style="fill:#3d50c3;fill-opacity:0.9"/>
<path d="M 171.68 126.16 L 174.57 127.02 L 176.07 125.58 L 173.19 124.73 z" style="fill:#3b4cc0;fill-opacity:0.9"/>
<path d="M 145.46 125.76 L 148.32 126.62 L 149.87 125.23 L 147.01 124.38 z" style="fill:#3c4ec2;fill-opacity:0.9"/>
<path d="M 55.05 126.52 L 57.8 127.02 L 59.53 125.6 L 56.77 125.06 z" style="fill:#3b4cc0;fill-opacity:0.9"/>
<path d="M 119.22 125.25 L 122.06 126.08 L 123.66 124.76 L 120.83 123.93 z" style="fill:#3d50c3;fill-opacity:0.9"/>
<path d="M 92.99 124.89 L 95.79 125.63 L 97.44 124.36 L 94.64 123.61 z" style="fill:#3e51c5;fill-opacity:0.9"/>
<path d="M 152.73 126.09 L 155.6 126.96 L 157.14 125.55 L 154.27 124.69 z" style="fill:#3c4ec2;fill-opacity:0.9"/>
<path d="M 74.01 125.26 L 76.79 125.9 L 78.48 124.62 L 75.7 123.95 z" style="fill:#3e51c5;fill-opacity:0.9"/>
<path d="M 126.49 125.59 L 129.33 126.43 L 130.92 125.09 L 128.08 124.25 z" style="fill:#3d50c3;fill-opacity:0.9"/>
<path d="M 100.25 125.13 L 103.06 125.9 L 104.7 124.63 L 101.89 123.85 z" style="fill:#3e51c5;fill-opacity:0.9"/>
<path d="M 160.01 126.41 L 162.89 127.28 L 164.41 125.86 L 161.53 125 z" style="fill:#3b4cc0;fill-opacity:0.9"/>
<path d="M 133.76 125.94 L 136.61 126.79 L 138.19 125.43 L 135.34 124.58 z" style="fill:#3d50c3;fill-opacity:0.9"/>
<path d="M 62.28 126.15 L 65.05 126.69 L 66.76 125.35 L 64 124.77 z" style="fill:#3d50c3;fill-opacity:0.9"/>
<path d="M 81.26 125.29 L 84.05 125.97 L 85.73 124.71 L 82.94 124.01 z" style="fill:#3e51c5;fill-opacity:0.9"/>
<path d="M 107.51 125.42 L 110.33 126.22 L 111.96 124.93 L 109.14 124.13 z" style="fill:#3e51c5;fill-opacity:0.9"/>
<path d="M 167.29 126.72 L 170.18 127.59 L 171.68 126.16 L 168.8 125.3 z" style="fill:#3b4cc0;fill-opacity:0.9"/>
<path d="M 141.04 126.28 L 143.9 127.14 L 145.46 125.76 L 142.6 124.91 z" style="fill:#3c4ec2;fill-opacity:0.9"/>
<path d="M 114.78 125.74 L 117.61 126.56 L 119.22 125.25 L 116.4 124.43 z" style="fill:#3e51c5;fill-opacity:0.9"/>
<path d="M 174.57 127.02 L 177.47 127.89 L 178.97 126.45 L 176.07 125.58 z" style="fill:#3b4cc0;fill-opacity:0.9"/>
<path d="M 88.52 125.42 L 91.32 126.14 L 92.99 124.89 L 90.19 124.15 z" style="fill:#3f53c6;fill-opacity:0.9"/>
<path d="M 148.32 126.62 L 151.18 127.49 L 152.73 126.09 L 149.87 125.23 z" style="fill:#3c4ec2;fill-opacity:0.9"/>
<path d="M 69.53 125.95 L 72.31 126.55 L 74.01 125.26 L 71.23 124.63 z" style="fill:#3e51c5;fill-opacity:0.9"/>
<path d="M 122.06 126.08 L 124.9 126.92 L 126.49 125.59 L 123.66 124.76 z" style="fill:#3d50c3;fill-opacity:0.9"/>
<path d="M 95.79 125.63 L 98.6 126.39 L 100.25 125.13 L 97.44 124.36 z" style="fill:#3f53c6;fill-opacity:0.9"/>
<path d="M 155.6 126.96 L 158.47 127.82 L 160.01 126.41 L 157.14 125.55 z" style="fill:#3c4ec2;fill-opacity:0.9"/>
<path d="M 57.8 127.02 L 60.56 127.51 L 62.28 126.15 L 59.53 125.6 z" style="fill:#3c4ec2;fill-opacity:0.9"/>
<path d="M 129.33 126.43 L 132.18 127.28 L 133.76 125.94 L 130.92 125.09 z" style="fill:#3d50c3;fill-opacity:0.9"/>
<path d="M 76.79 125.9 L 79.57 126.55 L 81.26 125.29 L 78.48 124.62 z" style="fill:#3e51c5;fill-opacity:0.9"/>
<path d="M 162.89 127.28 L 165.77 128.15 L 167.29 126.72 L 164.41 125.86 z" style="fill:#3b4cc0;fill-opacity:0.9"/>
<path d="M 103.06 125.9 L 105.88 126.69 L 107.51 125.42 L 104.7 124.63 z" style="fill:#3e51c5;fill-opacity:0.9"/>
<path d="M 136.61 126.79 L 139.47 127.65 L 141.04 126.28 L 138.19 125.43 z" style="fill:#3d50c3;fill-opacity:0.9"/>
<path d="M 110.33 126.22 L 113.16 127.02 L 114.78 125.74 L 111.96 124.93 z" style="fill:#3e51c5;fill-opacity:0.9"/>
<path d="M 170.18 127.59 L 173.07 128.46 L 174.57 127.02 L 171.68 126.16 z" style="fill:#3b4cc0;fill-opacity:0.9"/>
<path d="M 84.05 125.97 L 86.85 126.66 L 88.52 125.42 L 85.73 124.71 z" style="fill:#3f53c6;fill-opacity:0.9"/>
<path d="M 65.05 126.69 L 67.82 127.25 L 69.53 125.95 L 66.76 125.35 z" style="fill:#3d50c3;fill-opacity:0.9"/>
<path d="M 143.9 127.14 L 146.76 128.01 L 148.32 126.62 L 145.46 125.76 z" style="fill:#3c4ec2;fill-opacity:0.9"/>
<path d="M 53.31 127.99 L 56.07 128.43 L 57.8 127.02 L 55.05 126.52 z" style="fill:#3b4cc0;fill-opacity:0.9"/>
<path d="M 117.61 126.56 L 120.45 127.39 L 122.06 126.08 L 119.22 125.25 z" style="fill:#3e51c5;fill-opacity:0.9"/>
<path d="M 177.47 127.89 L 180.37 128.76 L 181.86 127.31 L 178.97 126.45 z" style="fill:#3b4cc0;fill-opacity:0.9"/>
<path d="M 91.32 126.14 L 94.13 126.87 L 95.79 125.63 L 92.99 124.89 z" style="fill:#3f53c6;fill-opacity:0.9"/>
<path d="M 151.18 127.49 L 154.06 128.36 L 155.6 126.96 L 152.73 126.09 z" style="fill:#3c4ec2;fill-opacity:0.9"/>
<path d="M 72.31 126.55 L 75.09 127.16 L 76.79 125.9 L 74.01 125.26 z" style="fill:#3e51c5;fill-opacity:0.9"/>
<path d="M 124.9 126.92 L 127.74 127.76 L 129.33 126.43 L 126.49 125.59 z" style="fill:#3d50c3;fill-opacity:0.9"/>
<path d="M 158.47 127.82 L 161.36 128.69 L 162.89 127.28 L 160.01 126.41 z" style="fill:#3c4ec2;fill-opacity:0.9"/>
<path d="M 98.6 126.39 L 101.41 127.15 L 103.06 125.9 L 100.25 125.13 z" style="fill:#3f53c6;fill-opacity:0.9"/>
<path d="M 132.18 127.28 L 135.03 128.14 L 136.61 126.79 L 133.76 125.94 z" style="fill:#3d50c3;fill-opacity:0.9"/>
<path d="M 60.56 127.51 L 63.33 128.02 L 65.05 126.69 L 62.28 126.15 z" style="fill:#3d50c3;fill-opacity:0.9"/>
<path d="M 165.77 128.15 L 168.66 129.02 L 170.18 127.59 L 167.29 126.72 z" style="fill:#3b4cc0;fill-opacity:0.9"/>
<path d="M 79.57 126.55 L 82.37 127.21 L 84.05 125.97 L 81.26 125.29 z" style="fill:#3f53c6;fill-opacity:0.9"/>
<path d="M 105.88 126.69 L 108.7 127.48 L 110.33 126.22 L 107.51 125.42 z" style="fill:#3f53c6;fill-opacity:0.9"/>
<path d="M 139.47 127.65 L 142.33 128.51 L 143.9 127.14 L 141.04 126.28 z" style="fill:#3d50c3;fill-opacity:0.9"/>
<path d="M 173.07 128.46 L 175.97 129.33 L 177.47 127.89 L 174.57 127.02 z" style="fill:#3b4cc0;fill-opacity:0.9"/>
<path d="M 113.16 127.02 L 116 127.84 L 117.61 126.56 L 114.78 125.74 z" style="fill:#3e51c5;fill-opacity:0.9"/>
<path d="M 146.76 128.01 L 149.63 128.88 L 151.18 127.49 L 148.32 126.62 z" style="fill:#3c4ec2;fill-opacity:0.9"/>
<path d="M 86.85 126.66 L 89.65 127.37 L 91.32 126.14 L 88.52 125.42 z" style="fill:#3f53c6;fill-opacity:0.9"/>
<path d="M 67.82 127.25 L 70.6 127.81 L 72.31 126.55 L 69.53 125.95 z" style="fill:#3e51c5;fill-opacity:0.9"/>
<path d="M 120.45 127.39 L 123.29 128.22 L 124.9 126.92 L 122.06 126.08 z" style="fill:#3e51c5;fill-opacity:0.9"/>
<path d="M 180.37 128.76 L 183.28 129.63 L 184.77 128.18 L 181.86 127.31 z" style="fill:#3b4cc0;fill-opacity:0.9"/>
<path d="M 154.06 128.36 L 156.94 129.23 L 158.47 127.82 L 155.6 126.96 z" style="fill:#3c4ec2;fill-opacity:0.9"/>
<path d="M 56.07 128.43 L 58.83 128.87 L 60.56 127.51 L 57.8 127.02 z" style="fill:#3c4ec2;fill-opacity:0.9"/>
<path d="M 94.13 126.87 L 96.94 127.62 L 98.6 126.39 L 95.79 125.63 z" style="fill:#3f53c6;fill-opacity:0.9"/>
<path d="M 127.74 127.76 L 130.59 128.61 L 132.18 127.28 L 129.33 126.43 z" style="fill:#3d50c3;fill-opacity:0.9"/>
<path d="M 161.36 128.69 L 164.25 129.57 L 165.77 128.15 L 162.89 127.28 z" style="fill:#3c4ec2;fill-opacity:0.9"/>
<path d="M 75.09 127.16 L 77.88 127.78 L 79.57 126.55 L 76.79 125.9 z" style="fill:#3f53c6;fill-opacity:0.9"/>
<path d="M 101.41 127.15 L 104.24 127.93 L 105.88 126.69 L 103.06 125.9 z" style="fill:#3f53c6;fill-opacity:0.9"/>
<path d="M 135.03 128.14 L 137.89 129 L 139.47 127.65 L 136.61 126.79 z" style="fill:#3d50c3;fill-opacity:0.9"/>
<path d="M 168.66 129.02 L 171.56 129.9 L 173.07 128.46 L 170.18 127.59 z" style="fill:#3b4cc0;fill-opacity:0.9"/>
<path d="M 108.7 127.48 L 111.54 128.28 L 113.16 127.02 L 110.33 126.22 z" style="fill:#3f53c6;fill-opacity:0.9"/>
<path d="M 63.33 128.02 L 66.1 128.53 L 67.82 127.25 L 65.05 126.69 z" style="fill:#3e51c5;fill-opacity:0.9"/>
<path d="M 82.37 127.21 L 85.17 127.88 L 86.85 126.66 L 84.05 125.97 z" style="fill:#4055c8;fill-opacity:0.9"/>
<path d="M 142.33 128.51 L 145.2 129.38 L 146.76 128.01 L 143.9 127.14 z" style="fill:#3d50c3;fill-opacity:0.9"/>
<path d="M 51.57 129.46 L 54.33 129.84 L 56.07 128.43 L 53.31 127.99 z" style="fill:#3b4cc0;fill-opacity:0.9"/>
<path d="M 175.97 129.33 L 178.87 130.21 L 180.37 128.76 L 177.47 127.89 z" style="fill:#3b4cc0;fill-opacity:0.9"/>
<path d="M 116 127.84 L 118.84 128.67 L 120.45 127.39 L 117.61 126.56 z" style="fill:#3e51c5;fill-opacity:0.9"/>
<path d="M 149.63 128.88 L 152.51 129.75 L 154.06 128.36 L 151.18 127.49 z" style="fill:#3c4ec2;fill-opacity:0.9"/>
<path d="M 89.65 127.37 L 92.46 128.08 L 94.13 126.87 L 91.32 126.14 z" style="fill:#4055c8;fill-opacity:0.9"/>
<path d="M 183.28 129.63 L 186.19 130.51 L 187.68 129.05 L 184.77 128.18 z" style="fill:#3b4cc0;fill-opacity:0.9"/>
<path d="M 123.29 128.22 L 126.14 129.07 L 127.74 127.76 L 124.9 126.92 z" style="fill:#3e51c5;fill-opacity:0.9"/>
<path d="M 70.6 127.81 L 73.38 128.39 L 75.09 127.16 L 72.31 126.55 z" style="fill:#3f53c6;fill-opacity:0.9"/>
<path d="M 156.94 129.23 L 159.82 130.11 L 161.36 128.69 L 158.47 127.82 z" style="fill:#3c4ec2;fill-opacity:0.9"/>
<path d="M 96.94 127.62 L 99.76 128.37 L 101.41 127.15 L 98.6 126.39 z" style="fill:#4055c8;fill-opacity:0.9"/>
<path d="M 130.59 128.61 L 133.45 129.47 L 135.03 128.14 L 132.18 127.28 z" style="fill:#3d50c3;fill-opacity:0.9"/>
<path d="M 58.83 128.87 L 61.6 129.32 L 63.33 128.02 L 60.56 127.51 z" style="fill:#3d50c3;fill-opacity:0.9"/>
<path d="M 164.25 129.57 L 167.14 130.45 L 168.66 129.02 L 165.77 128.15 z" style="fill:#3b4cc0;fill-opacity:0.9"/>
<path d="M 77.88 127.78 L 80.68 128.41 L 82.37 127.21 L 79.57 126.55 z" style="fill:#4055c8;fill-opacity:0.9"/>
<path d="M 104.24 127.93 L 107.07 128.72 L 108.7 127.48 L 105.88 126.69 z" style="fill:#3f53c6;fill-opacity:0.9"/>
<path d="M 137.89 129 L 140.76 129.87 L 142.33 128.51 L 139.47 127.65 z" style="fill:#3d50c3;fill-opacity:0.9"/>
<path d="M 171.56 129.9 L 174.46 130.78 L 175.97 129.33 L 173.07 128.46 z" style="fill:#3b4cc0;fill-opacity:0.9"/>
<path d="M 111.54 128.28 L 114.37 129.1 L 116 127.84 L 113.16 127.02 z" style="fill:#3f53c6;fill-opacity:0.9"/>
<path d="M 145.2 129.38 L 148.08 130.26 L 149.63 128.88 L 146.76 128.01 z" style="fill:#3c4ec2;fill-opacity:0.9"/>
<path d="M 85.17 127.88 L 87.98 128.56 L 89.65 127.37 L 86.85 126.66 z" style="fill:#4055c8;fill-opacity:0.9"/>
<path d="M 66.1 128.53 L 68.88 129.05 L 70.6 127.81 L 67.82 127.25 z" style="fill:#3f53c6;fill-opacity:0.9"/>
<path d="M 178.87 130.21 L 181.79 131.09 L 183.28 129.63 L 180.37 128.76 z" style="fill:#3b4cc0;fill-opacity:0.9"/>
<path d="M 118.84 128.67 L 121.68 129.51 L 123.29 128.22 L 120.45 127.39 z" style="fill:#3e51c5;fill-opacity:0.9"/>
<path d="M 152.51 129.75 L 155.39 130.63 L 156.94 129.23 L 154.06 128.36 z" style="fill:#3c4ec2;fill-opacity:0.9"/>
<path d="M 54.33 129.84 L 57.09 130.22 L 58.83 128.87 L 56.07 128.43 z" style="fill:#3c4ec2;fill-opacity:0.9"/>
<path d="M 92.46 128.08 L 95.28 128.81 L 96.94 127.62 L 94.13 126.87 z" style="fill:#4055c8;fill-opacity:0.9"/>
<path d="M 186.19 130.51 L 189.12 131.38 L 190.6 129.92 L 187.68 129.05 z" style="fill:#3b4cc0;fill-opacity:0.9"/>
<path d="M 126.14 129.07 L 129 129.92 L 130.59 128.61 L 127.74 127.76 z" style="fill:#3e51c5;fill-opacity:0.9"/>
<path d="M 159.82 130.11 L 162.72 130.99 L 164.25 129.57 L 161.36 128.69 z" style="fill:#3c4ec2;fill-opacity:0.9"/>
<path d="M 73.38 128.39 L 76.18 128.97 L 77.88 127.78 L 75.09 127.16 z" style="fill:#4055c8;fill-opacity:0.9"/>
<path d="M 99.76 128.37 L 102.59 129.14 L 104.24 127.93 L 101.41 127.15 z" style="fill:#4055c8;fill-opacity:0.9"/>
<path d="M 133.45 129.47 L 136.31 130.34 L 137.89 129 L 135.03 128.14 z" style="fill:#3d50c3;fill-opacity:0.9"/>
<path d="M 167.14 130.45 L 170.04 131.33 L 171.56 129.9 L 168.66 129.02 z" style="fill:#3b4cc0;fill-opacity:0.9"/>
<path d="M 140.76 129.87 L 143.63 130.74 L 145.2 129.38 L 142.33 128.51 z" style="fill:#3d50c3;fill-opacity:0.9"/>
<path d="M 61.6 129.32 L 64.38 129.78 L 66.1 128.53 L 63.33 128.02 z" style="fill:#3f53c6;fill-opacity:0.9"/>
<path d="M 107.07 128.72 L 109.9 129.52 L 111.54 128.28 L 108.7 127.48 z" style="fill:#3f53c6;fill-opacity:0.9"/>
<path d="M 49.83 130.94 L 52.58 131.24 L 54.33 129.84 L 51.57 129.46 z" style="fill:#3b4cc0;fill-opacity:0.9"/>
<path d="M 80.68 128.41 L 83.48 129.05 L 85.17 127.88 L 82.37 127.21 z" style="fill:#4055c8;fill-opacity:0.9"/>
<path d="M 174.46 130.78 L 177.37 131.66 L 178.87 130.21 L 175.97 129.33 z" style="fill:#3b4cc0;fill-opacity:0.9"/>
<path d="M 148.08 130.26 L 150.96 131.14 L 152.51 129.75 L 149.63 128.88 z" style="fill:#3c4ec2;fill-opacity:0.9"/>
<path d="M 114.37 129.1 L 117.22 129.93 L 118.84 128.67 L 116 127.84 z" style="fill:#3f53c6;fill-opacity:0.9"/>
<path d="M 181.79 131.09 L 184.7 131.97 L 186.19 130.51 L 183.28 129.63 z" style="fill:#3b4cc0;fill-opacity:0.9"/>
<path d="M 87.98 128.56 L 90.79 129.26 L 92.46 128.08 L 89.65 127.37 z" style="fill:#4257c9;fill-opacity:0.9"/>
<path d="M 121.68 129.51 L 124.54 130.35 L 126.14 129.07 L 123.29 128.22 z" style="fill:#3e51c5;fill-opacity:0.9"/>
<path d="M 155.39 130.63 L 158.28 131.52 L 159.82 130.11 L 156.94 129.23 z" style="fill:#3c4ec2;fill-opacity:0.9"/>
<path d="M 68.88 129.05 L 71.67 129.58 L 73.38 128.39 L 70.6 127.81 z" style="fill:#4055c8;fill-opacity:0.9"/>
<path d="M 189.12 131.38 L 192.04 132.27 L 193.52 130.79 L 190.6 129.92 z" style="fill:#3b4cc0;fill-opacity:0.9"/>
<path d="M 95.28 128.81 L 98.1 129.56 L 99.76 128.37 L 96.94 127.62 z" style="fill:#4055c8;fill-opacity:0.9"/>
<path d="M 129 129.92 L 131.86 130.78 L 133.45 129.47 L 130.59 128.61 z" style="fill:#3e51c5;fill-opacity:0.9"/>
<path d="M 162.72 130.99 L 165.61 131.88 L 167.14 130.45 L 164.25 129.57 z" style="fill:#3c4ec2;fill-opacity:0.9"/>
<path d="M 57.09 130.22 L 59.86 130.61 L 61.6 129.32 L 58.83 128.87 z" style="fill:#3e51c5;fill-opacity:0.9"/>
<path d="M 136.31 130.34 L 139.18 131.21 L 140.76 129.87 L 137.89 129 z" style="fill:#3d50c3;fill-opacity:0.9"/>
<path d="M 102.59 129.14 L 105.42 129.92 L 107.07 128.72 L 104.24 127.93 z" style="fill:#4055c8;fill-opacity:0.9"/>
<path d="M 76.18 128.97 L 78.98 129.57 L 80.68 128.41 L 77.88 127.78 z" style="fill:#4257c9;fill-opacity:0.9"/>
<path d="M 170.04 131.33 L 172.95 132.22 L 174.46 130.78 L 171.56 129.9 z" style="fill:#3b4cc0;fill-opacity:0.9"/>
<path d="M 143.63 130.74 L 146.51 131.63 L 148.08 130.26 L 145.2 129.38 z" style="fill:#3d50c3;fill-opacity:0.9"/>
<path d="M 109.9 129.52 L 112.74 130.33 L 114.37 129.1 L 111.54 128.28 z" style="fill:#4055c8;fill-opacity:0.9"/>
<path d="M 177.37 131.66 L 180.29 132.55 L 181.79 131.09 L 178.87 130.21 z" style="fill:#3b4cc0;fill-opacity:0.9"/>
<path d="M 83.48 129.05 L 86.29 129.71 L 87.98 128.56 L 85.17 127.88 z" style="fill:#4257c9;fill-opacity:0.9"/>
<path d="M 64.38 129.78 L 67.16 130.25 L 68.88 129.05 L 66.1 128.53 z" style="fill:#4055c8;fill-opacity:0.9"/>
<path d="M 150.96 131.14 L 153.84 132.03 L 155.39 130.63 L 152.51 129.75 z" style="fill:#3c4ec2;fill-opacity:0.9"/>
<path d="M 117.22 129.93 L 120.07 130.76 L 121.68 129.51 L 118.84 128.67 z" style="fill:#3f53c6;fill-opacity:0.9"/>
<path d="M 52.58 131.24 L 55.35 131.55 L 57.09 130.22 L 54.33 129.84 z" style="fill:#3d50c3;fill-opacity:0.9"/>
<path d="M 184.7 131.97 L 187.63 132.86 L 189.12 131.38 L 186.19 130.51 z" style="fill:#3b4cc0;fill-opacity:0.9"/>
<path d="M 90.79 129.26 L 93.61 129.97 L 95.28 128.81 L 92.46 128.08 z" style="fill:#4257c9;fill-opacity:0.9"/>
<path d="M 158.28 131.52 L 161.18 132.41 L 162.72 130.99 L 159.82 130.11 z" style="fill:#3c4ec2;fill-opacity:0.9"/>
<path d="M 124.54 130.35 L 127.4 131.21 L 129 129.92 L 126.14 129.07 z" style="fill:#3e51c5;fill-opacity:0.9"/>
<path d="M 192.04 132.27 L 194.98 133.15 L 196.45 131.67 L 193.52 130.79 z" style="fill:#3b4cc0;fill-opacity:0.9"/>
<path d="M 71.67 129.58 L 74.47 130.13 L 76.18 128.97 L 73.38 128.39 z" style="fill:#4257c9;fill-opacity:0.9"/>
<path d="M 131.86 130.78 L 134.73 131.66 L 136.31 130.34 L 133.45 129.47 z" style="fill:#3e51c5;fill-opacity:0.9"/>
<path d="M 165.61 131.88 L 168.52 132.77 L 170.04 131.33 L 167.14 130.45 z" style="fill:#3c4ec2;fill-opacity:0.9"/>
<path d="M 98.1 129.56 L 100.93 130.31 L 102.59 129.14 L 99.76 128.37 z" style="fill:#4257c9;fill-opacity:0.9"/>
<path d="M 48.07 132.42 L 50.83 132.64 L 52.58 131.24 L 49.83 130.94 z" style="fill:#3b4cc0;fill-opacity:0.9"/>
<path d="M 139.18 131.21 L 142.06 132.09 L 143.63 130.74 L 140.76 129.87 z" style="fill:#3d50c3;fill-opacity:0.9"/>
<path d="M 59.86 130.61 L 62.64 131.01 L 64.38 129.78 L 61.6 129.32 z" style="fill:#3f53c6;fill-opacity:0.9"/>
<path d="M 105.42 129.92 L 108.26 130.71 L 109.9 129.52 L 107.07 128.72 z" style="fill:#4055c8;fill-opacity:0.9"/>
<path d="M 172.95 132.22 L 175.86 133.11 L 177.37 131.66 L 174.46 130.78 z" style="fill:#3b4cc0;fill-opacity:0.9"/>
<path d="M 78.98 129.57 L 81.78 130.18 L 83.48 129.05 L 80.68 128.41 z" style="fill:#4257c9;fill-opacity:0.9"/>
<path d="M 146.51 131.63 L 149.4 132.52 L 150.96 131.14 L 148.08 130.26 z" style="fill:#3d50c3;fill-opacity:0.9"/>
<path d="M 112.74 130.33 L 115.59 131.15 L 117.22 129.93 L 114.37 129.1 z" style="fill:#4055c8;fill-opacity:0.9"/>
<path d="M 180.29 132.55 L 183.21 133.44 L 184.7 131.97 L 181.79 131.09 z" style="fill:#3b4cc0;fill-opacity:0.9"/>
<path d="M 153.84 132.03 L 156.74 132.92 L 158.28 131.52 L 155.39 130.63 z" style="fill:#3c4ec2;fill-opacity:0.9"/>
<path d="M 86.29 129.71 L 89.11 130.39 L 90.79 129.26 L 87.98 128.56 z" style="fill:#4257c9;fill-opacity:0.9"/>
<path d="M 120.07 130.76 L 122.93 131.61 L 124.54 130.35 L 121.68 129.51 z" style="fill:#3f53c6;fill-opacity:0.9"/>
<path d="M 67.16 130.25 L 69.95 130.74 L 71.67 129.58 L 68.88 129.05 z" style="fill:#4257c9;fill-opacity:0.9"/>
<path d="M 187.63 132.86 L 190.56 133.74 L 192.04 132.27 L 189.12 131.38 z" style="fill:#3b4cc0;fill-opacity:0.9"/>
<path d="M 161.18 132.41 L 164.08 133.3 L 165.61 131.88 L 162.72 130.99 z" style="fill:#3c4ec2;fill-opacity:0.9"/>
<path d="M 127.4 131.21 L 130.26 132.08 L 131.86 130.78 L 129 129.92 z" style="fill:#3e51c5;fill-opacity:0.9"/>
<path d="M 55.35 131.55 L 58.12 131.87 L 59.86 130.61 L 57.09 130.22 z" style="fill:#3e51c5;fill-opacity:0.9"/>
<path d="M 93.61 129.97 L 96.44 130.7 L 98.1 129.56 L 95.28 128.81 z" style="fill:#4257c9;fill-opacity:0.9"/>
<path d="M 134.73 131.66 L 137.6 132.54 L 139.18 131.21 L 136.31 130.34 z" style="fill:#3e51c5;fill-opacity:0.9"/>
<path d="M 168.52 132.77 L 171.43 133.67 L 172.95 132.22 L 170.04 131.33 z" style="fill:#3b4cc0;fill-opacity:0.9"/>
<path d="M 100.93 130.31 L 103.77 131.08 L 105.42 129.92 L 102.59 129.14 z" style="fill:#4257c9;fill-opacity:0.9"/>
<path d="M 74.47 130.13 L 77.27 130.69 L 78.98 129.57 L 76.18 128.97 z" style="fill:#4358cb;fill-opacity:0.9"/>
<path d="M 142.06 132.09 L 144.94 132.98 L 146.51 131.63 L 143.63 130.74 z" style="fill:#3d50c3;fill-opacity:0.9"/>
<path d="M 175.86 133.11 L 178.78 134.01 L 180.29 132.55 L 177.37 131.66 z" style="fill:#3b4cc0;fill-opacity:0.9"/>
<path d="M 108.26 130.71 L 111.11 131.52 L 112.74 130.33 L 109.9 129.52 z" style="fill:#4055c8;fill-opacity:0.9"/>
<path d="M 149.4 132.52 L 152.29 133.41 L 153.84 132.03 L 150.96 131.14 z" style="fill:#3d50c3;fill-opacity:0.9"/>
<path d="M 62.64 131.01 L 65.43 131.42 L 67.16 130.25 L 64.38 129.78 z" style="fill:#4055c8;fill-opacity:0.9"/>
<path d="M 81.78 130.18 L 84.6 130.81 L 86.29 129.71 L 83.48 129.05 z" style="fill:#4358cb;fill-opacity:0.9"/>
<path d="M 50.83 132.64 L 53.59 132.86 L 55.35 131.55 L 52.58 131.24 z" style="fill:#3d50c3;fill-opacity:0.9"/>
<path d="M 115.59 131.15 L 118.45 131.99 L 120.07 130.76 L 117.22 129.93 z" style="fill:#4055c8;fill-opacity:0.9"/>
<path d="M 183.21 133.44 L 186.14 134.33 L 187.63 132.86 L 184.7 131.97 z" style="fill:#3b4cc0;fill-opacity:0.9"/>
<path d="M 156.74 132.92 L 159.64 133.82 L 161.18 132.41 L 158.28 131.52 z" style="fill:#3c4ec2;fill-opacity:0.9"/>
<path d="M 122.93 131.61 L 125.79 132.47 L 127.4 131.21 L 124.54 130.35 z" style="fill:#3f53c6;fill-opacity:0.9"/>
<path d="M 89.11 130.39 L 91.93 131.08 L 93.61 129.97 L 90.79 129.26 z" style="fill:#4358cb;fill-opacity:0.9"/>
<path d="M 190.56 133.74 L 193.5 134.63 L 194.98 133.15 L 192.04 132.27 z" style="fill:#3b4cc0;fill-opacity:0.9"/>
<path d="M 164.08 133.3 L 166.99 134.2 L 168.52 132.77 L 165.61 131.88 z" style="fill:#3c4ec2;fill-opacity:0.9"/>
<path d="M 130.26 132.08 L 133.13 132.96 L 134.73 131.66 L 131.86 130.78 z" style="fill:#3e51c5;fill-opacity:0.9"/>
<path d="M 69.95 130.74 L 72.75 131.23 L 74.47 130.13 L 71.67 129.58 z" style="fill:#4358cb;fill-opacity:0.9"/>
<path d="M 96.44 130.7 L 99.27 131.44 L 100.93 130.31 L 98.1 129.56 z" style="fill:#4358cb;fill-opacity:0.9"/>
<path d="M 46.31 133.91 L 49.07 134.03 L 50.83 132.64 L 48.07 132.42 z" style="fill:#3c4ec2;fill-opacity:0.9"/>
<path d="M 137.6 132.54 L 140.48 133.43 L 142.06 132.09 L 139.18 131.21 z" style="fill:#3e51c5;fill-opacity:0.9"/>
<path d="M 171.43 133.67 L 174.35 134.57 L 175.86 133.11 L 172.95 132.22 z" style="fill:#3b4cc0;fill-opacity:0.9"/>
<path d="M 58.12 131.87 L 60.9 132.19 L 62.64 131.01 L 59.86 130.61 z" style="fill:#4055c8;fill-opacity:0.9"/>
<path d="M 103.77 131.08 L 106.61 131.87 L 108.26 130.71 L 105.42 129.92 z" style="fill:#4257c9;fill-opacity:0.9"/>
<path d="M 144.94 132.98 L 147.83 133.88 L 149.4 132.52 L 146.51 131.63 z" style="fill:#3d50c3;fill-opacity:0.9"/>
<path d="M 77.27 130.69 L 80.08 131.26 L 81.78 130.18 L 78.98 129.57 z" style="fill:#4358cb;fill-opacity:0.9"/>
<path d="M 178.78 134.01 L 181.71 134.91 L 183.21 133.44 L 180.29 132.55 z" style="fill:#3b4cc0;fill-opacity:0.9"/>
<path d="M 111.11 131.52 L 113.96 132.35 L 115.59 131.15 L 112.74 130.33 z" style="fill:#4257c9;fill-opacity:0.9"/>
<path d="M 152.29 133.41 L 155.19 134.32 L 156.74 132.92 L 153.84 132.03 z" style="fill:#3d50c3;fill-opacity:0.9"/>
<path d="M 186.14 134.33 L 189.07 135.23 L 190.56 133.74 L 187.63 132.86 z" style="fill:#3b4cc0;fill-opacity:0.9"/>
<path d="M 118.45 131.99 L 121.31 132.84 L 122.93 131.61 L 120.07 130.76 z" style="fill:#4055c8;fill-opacity:0.9"/>
<path d="M 84.6 130.81 L 87.42 131.46 L 89.11 130.39 L 86.29 129.71 z" style="fill:#445acc;fill-opacity:0.9"/>
<path d="M 159.64 133.82 L 162.54 134.72 L 164.08 133.3 L 161.18 132.41 z" style="fill:#3c4ec2;fill-opacity:0.9"/>
<path d="M 65.43 131.42 L 68.22 131.84 L 69.95 130.74 L 67.16 130.25 z" style="fill:#4358cb;fill-opacity:0.9"/>
<path d="M 125.79 132.47 L 128.66 133.35 L 130.26 132.08 L 127.4 131.21 z" style="fill:#3f53c6;fill-opacity:0.9"/>
<path d="M 53.59 132.86 L 56.37 133.1 L 58.12 131.87 L 55.35 131.55 z" style="fill:#3f53c6;fill-opacity:0.9"/>
<path d="M 91.93 131.08 L 94.76 131.79 L 96.44 130.7 L 93.61 129.97 z" style="fill:#4358cb;fill-opacity:0.9"/>
<path d="M 166.99 134.2 L 169.9 135.11 L 171.43 133.67 L 168.52 132.77 z" style="fill:#3c4ec2;fill-opacity:0.9"/>
<path d="M 133.13 132.96 L 136.01 133.84 L 137.6 132.54 L 134.73 131.66 z" style="fill:#3e51c5;fill-opacity:0.9"/>
<path d="M 99.27 131.44 L 102.11 132.2 L 103.77 131.08 L 100.93 130.31 z" style="fill:#4358cb;fill-opacity:0.9"/>
<path d="M 140.48 133.43 L 143.37 134.33 L 144.94 132.98 L 142.06 132.09 z" style="fill:#3e51c5;fill-opacity:0.9"/>
<path d="M 72.75 131.23 L 75.56 131.75 L 77.27 130.69 L 74.47 130.13 z" style="fill:#445acc;fill-opacity:0.9"/>
<path d="M 174.35 134.57 L 177.27 135.47 L 178.78 134.01 L 175.86 133.11 z" style="fill:#3b4cc0;fill-opacity:0.9"/>
<path d="M 106.61 131.87 L 109.46 132.68 L 111.11 131.52 L 108.26 130.71 z" style="fill:#4257c9;fill-opacity:0.9"/>
<path d="M 147.83 133.88 L 150.73 134.79 L 152.29 133.41 L 149.4 132.52 z" style="fill:#3d50c3;fill-opacity:0.9"/>
<path d="M 181.71 134.91 L 184.64 135.81 L 186.14 134.33 L 183.21 133.44 z" style="fill:#3b4cc0;fill-opacity:0.9"/>
<path d="M 49.07 134.03 L 51.83 134.15 L 53.59 132.86 L 50.83 132.64 z" style="fill:#3e51c5;fill-opacity:0.9"/>
<path d="M 60.9 132.19 L 63.69 132.54 L 65.43 131.42 L 62.64 131.01 z" style="fill:#4257c9;fill-opacity:0.9"/>
<path d="M 113.96 132.35 L 116.82 133.18 L 118.45 131.99 L 115.59 131.15 z" style="fill:#4257c9;fill-opacity:0.9"/>
<path d="M 80.08 131.26 L 82.9 131.86 L 84.6 130.81 L 81.78 130.18 z" style="fill:#445acc;fill-opacity:0.9"/>
<path d="M 155.19 134.32 L 158.09 135.22 L 159.64 133.82 L 156.74 132.92 z" style="fill:#3c4ec2;fill-opacity:0.9"/>
<path d="M 189.07 135.23 L 192.02 136.12 L 193.5 134.63 L 190.56 133.74 z" style="fill:#3b4cc0;fill-opacity:0.9"/>
<path d="M 121.31 132.84 L 124.18 133.71 L 125.79 132.47 L 122.93 131.61 z" style="fill:#4055c8;fill-opacity:0.9"/>
<path d="M 162.54 134.72 L 165.46 135.63 L 166.99 134.2 L 164.08 133.3 z" style="fill:#3c4ec2;fill-opacity:0.9"/>
<path d="M 87.42 131.46 L 90.25 132.13 L 91.93 131.08 L 89.11 130.39 z" style="fill:#445acc;fill-opacity:0.9"/>
<path d="M 128.66 133.35 L 131.53 134.23 L 133.13 132.96 L 130.26 132.08 z" style="fill:#3f53c6;fill-opacity:0.9"/>
<path d="M 44.54 135.41 L 47.3 135.41 L 49.07 134.03 L 46.31 133.91 z" style="fill:#3c4ec2;fill-opacity:0.9"/>
<path d="M 68.22 131.84 L 71.02 132.28 L 72.75 131.23 L 69.95 130.74 z" style="fill:#445acc;fill-opacity:0.9"/>
<path d="M 169.9 135.11 L 172.83 136.02 L 174.35 134.57 L 171.43 133.67 z" style="fill:#3b4cc0;fill-opacity:0.9"/>
<path d="M 136.01 133.84 L 138.9 134.74 L 140.48 133.43 L 137.6 132.54 z" style="fill:#3e51c5;fill-opacity:0.9"/>
<path d="M 94.76 131.79 L 97.6 132.52 L 99.27 131.44 L 96.44 130.7 z" style="fill:#445acc;fill-opacity:0.9"/>
<path d="M 56.37 133.1 L 59.15 133.34 L 60.9 132.19 L 58.12 131.87 z" style="fill:#4257c9;fill-opacity:0.9"/>
<path d="M 143.37 134.33 L 146.26 135.23 L 147.83 133.88 L 144.94 132.98 z" style="fill:#3e51c5;fill-opacity:0.9"/>
<path d="M 177.27 135.47 L 180.2 136.38 L 181.71 134.91 L 178.78 134.01 z" style="fill:#3b4cc0;fill-opacity:0.9"/>
<path d="M 102.11 132.2 L 104.96 132.98 L 106.61 131.87 L 103.77 131.08 z" style="fill:#4358cb;fill-opacity:0.9"/>
<path d="M 75.56 131.75 L 78.37 132.28 L 80.08 131.26 L 77.27 130.69 z" style="fill:#455cce;fill-opacity:0.9"/>
<path d="M 150.73 134.79 L 153.63 135.7 L 155.19 134.32 L 152.29 133.41 z" style="fill:#3d50c3;fill-opacity:0.9"/>
<path d="M 109.46 132.68 L 112.32 133.49 L 113.96 132.35 L 111.11 131.52 z" style="fill:#4257c9;fill-opacity:0.9"/>
<path d="M 184.64 135.81 L 187.58 136.71 L 189.07 135.23 L 186.14 134.33 z" style="fill:#3b4cc0;fill-opacity:0.9"/>
<path d="M 116.82 133.18 L 119.68 134.04 L 121.31 132.84 L 118.45 131.99 z" style="fill:#4257c9;fill-opacity:0.9"/>
<path d="M 158.09 135.22 L 161 136.14 L 162.54 134.72 L 159.64 133.82 z" style="fill:#3c4ec2;fill-opacity:0.9"/>
<path d="M 82.9 131.86 L 85.72 132.48 L 87.42 131.46 L 84.6 130.81 z" style="fill:#455cce;fill-opacity:0.9"/>
<path d="M 124.18 133.71 L 127.05 134.58 L 128.66 133.35 L 125.79 132.47 z" style="fill:#4055c8;fill-opacity:0.9"/>
<path d="M 63.69 132.54 L 66.48 132.89 L 68.22 131.84 L 65.43 131.42 z" style="fill:#445acc;fill-opacity:0.9"/>
<path d="M 51.83 134.15 L 54.61 134.29 L 56.37 133.1 L 53.59 132.86 z" style="fill:#4055c8;fill-opacity:0.9"/>
<path d="M 165.46 135.63 L 168.37 136.55 L 169.9 135.11 L 166.99 134.2 z" style="fill:#3c4ec2;fill-opacity:0.9"/>
<path d="M 131.53 134.23 L 134.42 135.13 L 136.01 133.84 L 133.13 132.96 z" style="fill:#3f53c6;fill-opacity:0.9"/>
<path d="M 90.25 132.13 L 93.08 132.82 L 94.76 131.79 L 91.93 131.08 z" style="fill:#455cce;fill-opacity:0.9"/>
<path d="M 172.83 136.02 L 175.75 136.93 L 177.27 135.47 L 174.35 134.57 z" style="fill:#3b4cc0;fill-opacity:0.9"/>
<path d="M 138.9 134.74 L 141.79 135.65 L 143.37 134.33 L 140.48 133.43 z" style="fill:#3e51c5;fill-opacity:0.9"/>
<path d="M 97.6 132.52 L 100.45 133.26 L 102.11 132.2 L 99.27 131.44 z" style="fill:#445acc;fill-opacity:0.9"/>
<path d="M 71.02 132.28 L 73.83 132.75 L 75.56 131.75 L 72.75 131.23 z" style="fill:#455cce;fill-opacity:0.9"/>
<path d="M 146.26 135.23 L 149.16 136.15 L 150.73 134.79 L 147.83 133.88 z" style="fill:#3d50c3;fill-opacity:0.9"/>
<path d="M 180.2 136.38 L 183.14 137.29 L 184.64 135.81 L 181.71 134.91 z" style="fill:#3b4cc0;fill-opacity:0.9"/>
<path d="M 104.96 132.98 L 107.81 133.78 L 109.46 132.68 L 106.61 131.87 z" style="fill:#4358cb;fill-opacity:0.9"/>
<path d="M 47.3 135.41 L 50.07 135.42 L 51.83 134.15 L 49.07 134.03 z" style="fill:#3e51c5;fill-opacity:0.9"/>
<path d="M 153.63 135.7 L 156.54 136.62 L 158.09 135.22 L 155.19 134.32 z" style="fill:#3d50c3;fill-opacity:0.9"/>
<path d="M 59.15 133.34 L 61.94 133.6 L 63.69 132.54 L 60.9 132.19 z" style="fill:#445acc;fill-opacity:0.9"/>
<path d="M 112.32 133.49 L 115.18 134.33 L 116.82 133.18 L 113.96 132.35 z" style="fill:#4358cb;fill-opacity:0.9"/>
<path d="M 187.58 136.71 L 190.53 137.62 L 192.02 136.12 L 189.07 135.23 z" style="fill:#3b4cc0;fill-opacity:0.9"/>
<path d="M 78.37 132.28 L 81.19 132.84 L 82.9 131.86 L 80.08 131.26 z" style="fill:#465ecf;fill-opacity:0.9"/>
<path d="M 161 136.14 L 163.92 137.06 L 165.46 135.63 L 162.54 134.72 z" style="fill:#3c4ec2;fill-opacity:0.9"/>
<path d="M 119.68 134.04 L 122.56 134.9 L 124.18 133.71 L 121.31 132.84 z" style="fill:#4257c9;fill-opacity:0.9"/>
<path d="M 42.77 136.91 L 45.52 136.77 L 47.3 135.41 L 44.54 135.41 z" style="fill:#3c4ec2;fill-opacity:0.9"/>
<path d="M 127.05 134.58 L 129.93 135.47 L 131.53 134.23 L 128.66 133.35 z" style="fill:#4055c8;fill-opacity:0.9"/>
<path d="M 85.72 132.48 L 88.56 133.12 L 90.25 132.13 L 87.42 131.46 z" style="fill:#465ecf;fill-opacity:0.9"/>
<path d="M 168.37 136.55 L 171.3 137.47 L 172.83 136.02 L 169.9 135.11 z" style="fill:#3c4ec2;fill-opacity:0.9"/>
<path d="M 134.42 135.13 L 137.31 136.03 L 138.9 134.74 L 136.01 133.84 z" style="fill:#3f53c6;fill-opacity:0.9"/>
<path d="M 66.48 132.89 L 69.29 133.27 L 71.02 132.28 L 68.22 131.84 z" style="fill:#455cce;fill-opacity:0.9"/>
<path d="M 93.08 132.82 L 95.93 133.53 L 97.6 132.52 L 94.76 131.79 z" style="fill:#455cce;fill-opacity:0.9"/>
<path d="M 175.75 136.93 L 178.69 137.85 L 180.2 136.38 L 177.27 135.47 z" style="fill:#3b4cc0;fill-opacity:0.9"/>
<path d="M 141.79 135.65 L 144.68 136.57 L 146.26 135.23 L 143.37 134.33 z" style="fill:#3e51c5;fill-opacity:0.9"/>
<path d="M 54.61 134.29 L 57.39 134.43 L 59.15 133.34 L 56.37 133.1 z" style="fill:#4358cb;fill-opacity:0.9"/>
<path d="M 100.45 133.26 L 103.3 134.03 L 104.96 132.98 L 102.11 132.2 z" style="fill:#445acc;fill-opacity:0.9"/>
<path d="M 149.16 136.15 L 152.07 137.07 L 153.63 135.7 L 150.73 134.79 z" style="fill:#3d50c3;fill-opacity:0.9"/>
<path d="M 183.14 137.29 L 186.08 138.2 L 187.58 136.71 L 184.64 135.81 z" style="fill:#3b4cc0;fill-opacity:0.9"/>
<path d="M 107.81 133.78 L 110.67 134.59 L 112.32 133.49 L 109.46 132.68 z" style="fill:#445acc;fill-opacity:0.9"/>
<path d="M 73.83 132.75 L 76.65 133.23 L 78.37 132.28 L 75.56 131.75 z" style="fill:#465ecf;fill-opacity:0.9"/>
<path d="M 156.54 136.62 L 159.45 137.55 L 161 136.14 L 158.09 135.22 z" style="fill:#3d50c3;fill-opacity:0.9"/>
<path d="M 115.18 134.33 L 118.05 135.19 L 119.68 134.04 L 116.82 133.18 z" style="fill:#4358cb;fill-opacity:0.9"/>
<path d="M 163.92 137.06 L 166.84 137.99 L 168.37 136.55 L 165.46 135.63 z" style="fill:#3c4ec2;fill-opacity:0.9"/>
<path d="M 122.56 134.9 L 125.43 135.79 L 127.05 134.58 L 124.18 133.71 z" style="fill:#4257c9;fill-opacity:0.9"/>
<path d="M 81.19 132.84 L 84.02 133.42 L 85.72 132.48 L 82.9 131.86 z" style="fill:#465ecf;fill-opacity:0.9"/>
<path d="M 50.07 135.42 L 52.84 135.43 L 54.61 134.29 L 51.83 134.15 z" style="fill:#4257c9;fill-opacity:0.9"/>
<path d="M 61.94 133.6 L 64.74 133.88 L 66.48 132.89 L 63.69 132.54 z" style="fill:#455cce;fill-opacity:0.9"/>
<path d="M 129.93 135.47 L 132.82 136.38 L 134.42 135.13 L 131.53 134.23 z" style="fill:#4055c8;fill-opacity:0.9"/>
<path d="M 171.3 137.47 L 174.23 138.39 L 175.75 136.93 L 172.83 136.02 z" style="fill:#3b4cc0;fill-opacity:0.9"/>
<path d="M 88.56 133.12 L 91.39 133.78 L 93.08 132.82 L 90.25 132.13 z" style="fill:#465ecf;fill-opacity:0.9"/>
<path d="M 137.31 136.03 L 140.2 136.95 L 141.79 135.65 L 138.9 134.74 z" style="fill:#3f53c6;fill-opacity:0.9"/>
<path d="M 178.69 137.85 L 181.63 138.77 L 183.14 137.29 L 180.2 136.38 z" style="fill:#3b4cc0;fill-opacity:0.9"/>
<path d="M 144.68 136.57 L 147.59 137.49 L 149.16 136.15 L 146.26 135.23 z" style="fill:#3e51c5;fill-opacity:0.9"/>
<path d="M 95.93 133.53 L 98.77 134.26 L 100.45 133.26 L 97.6 132.52 z" style="fill:#465ecf;fill-opacity:0.9"/>
<path d="M 45.52 136.77 L 48.29 136.64 L 50.07 135.42 L 47.3 135.41 z" style="fill:#3f53c6;fill-opacity:0.9"/>
<path d="M 69.29 133.27 L 72.1 133.67 L 73.83 132.75 L 71.02 132.28 z" style="fill:#485fd1;fill-opacity:0.9"/>
<path d="M 152.07 137.07 L 154.98 138 L 156.54 136.62 L 153.63 135.7 z" style="fill:#3d50c3;fill-opacity:0.9"/>
<path d="M 103.3 134.03 L 106.16 134.82 L 107.81 133.78 L 104.96 132.98 z" style="fill:#455cce;fill-opacity:0.9"/>
<path d="M 186.08 138.2 L 189.03 139.12 L 190.53 137.62 L 187.58 136.71 z" style="fill:#3b4cc0;fill-opacity:0.9"/>
<path d="M 57.39 134.43 L 60.18 134.59 L 61.94 133.6 L 59.15 133.34 z" style="fill:#455cce;fill-opacity:0.9"/>
<path d="M 110.67 134.59 L 113.54 135.43 L 115.18 134.33 L 112.32 133.49 z" style="fill:#445acc;fill-opacity:0.9"/>
<path d="M 159.45 137.55 L 162.37 138.48 L 163.92 137.06 L 161 136.14 z" style="fill:#3c4ec2;fill-opacity:0.9"/>
<path d="M 118.05 135.19 L 120.93 136.06 L 122.56 134.9 L 119.68 134.04 z" style="fill:#4358cb;fill-opacity:0.9"/>
<path d="M 76.65 133.23 L 79.47 133.74 L 81.19 132.84 L 78.37 132.28 z" style="fill:#485fd1;fill-opacity:0.9"/>
<path d="M 40.99 138.42 L 43.74 138.12 L 45.52 136.77 L 42.77 136.91 z" style="fill:#3c4ec2;fill-opacity:0.9"/>
<path d="M 166.84 137.99 L 169.77 138.92 L 171.3 137.47 L 168.37 136.55 z" style="fill:#3c4ec2;fill-opacity:0.9"/>
<path d="M 125.43 135.79 L 128.32 136.68 L 129.93 135.47 L 127.05 134.58 z" style="fill:#4257c9;fill-opacity:0.9"/>
<path d="M 132.82 136.38 L 135.71 137.29 L 137.31 136.03 L 134.42 135.13 z" style="fill:#4055c8;fill-opacity:0.9"/>
<path d="M 84.02 133.42 L 86.85 134.03 L 88.56 133.12 L 85.72 132.48 z" style="fill:#485fd1;fill-opacity:0.9"/>
<path d="M 174.23 138.39 L 177.17 139.32 L 178.69 137.85 L 175.75 136.93 z" style="fill:#3b4cc0;fill-opacity:0.9"/>
<path d="M 140.2 136.95 L 143.1 137.88 L 144.68 136.57 L 141.79 135.65 z" style="fill:#3f53c6;fill-opacity:0.9"/>
<path d="M 64.74 133.88 L 67.54 134.18 L 69.29 133.27 L 66.48 132.89 z" style="fill:#485fd1;fill-opacity:0.9"/>
<path d="M 91.39 133.78 L 94.24 134.47 L 95.93 133.53 L 93.08 132.82 z" style="fill:#485fd1;fill-opacity:0.9"/>
<path d="M 52.84 135.43 L 55.62 135.46 L 57.39 134.43 L 54.61 134.29 z" style="fill:#445acc;fill-opacity:0.9"/>
<path d="M 181.63 138.77 L 184.58 139.69 L 186.08 138.2 L 183.14 137.29 z" style="fill:#3b4cc0;fill-opacity:0.9"/>
<path d="M 147.59 137.49 L 150.5 138.43 L 152.07 137.07 L 149.16 136.15 z" style="fill:#3e51c5;fill-opacity:0.9"/>
<path d="M 98.77 134.26 L 101.63 135.02 L 103.3 134.03 L 100.45 133.26 z" style="fill:#465ecf;fill-opacity:0.9"/>
<path d="M 154.98 138 L 157.9 138.94 L 159.45 137.55 L 156.54 136.62 z" style="fill:#3d50c3;fill-opacity:0.9"/>
<path d="M 106.16 134.82 L 109.02 135.63 L 110.67 134.59 L 107.81 133.78 z" style="fill:#455cce;fill-opacity:0.9"/>
<path d="M 72.1 133.67 L 74.92 134.1 L 76.65 133.23 L 73.83 132.75 z" style="fill:#4961d2;fill-opacity:0.9"/>
<path d="M 162.37 138.48 L 165.3 139.42 L 166.84 137.99 L 163.92 137.06 z" style="fill:#3c4ec2;fill-opacity:0.9"/>
<path d="M 113.54 135.43 L 116.42 136.28 L 118.05 135.19 L 115.18 134.33 z" style="fill:#445acc;fill-opacity:0.9"/>
<path d="M 120.93 136.06 L 123.81 136.94 L 125.43 135.79 L 122.56 134.9 z" style="fill:#4358cb;fill-opacity:0.9"/>
<path d="M 48.29 136.64 L 51.06 136.52 L 52.84 135.43 L 50.07 135.42 z" style="fill:#4358cb;fill-opacity:0.9"/>
<path d="M 169.77 138.92 L 172.7 139.85 L 174.23 138.39 L 171.3 137.47 z" style="fill:#3c4ec2;fill-opacity:0.9"/>
<path d="M 128.32 136.68 L 131.21 137.59 L 132.82 136.38 L 129.93 135.47 z" style="fill:#4257c9;fill-opacity:0.9"/>
<path d="M 79.47 133.74 L 82.3 134.28 L 84.02 133.42 L 81.19 132.84 z" style="fill:#4961d2;fill-opacity:0.9"/>
<path d="M 60.18 134.59 L 62.98 134.78 L 64.74 133.88 L 61.94 133.6 z" style="fill:#485fd1;fill-opacity:0.9"/>
<path d="M 135.71 137.29 L 138.61 138.22 L 140.2 136.95 L 137.31 136.03 z" style="fill:#3f53c6;fill-opacity:0.9"/>
<path d="M 177.17 139.32 L 180.11 140.25 L 181.63 138.77 L 178.69 137.85 z" style="fill:#3b4cc0;fill-opacity:0.9"/>
<path d="M 143.1 137.88 L 146.01 138.82 L 147.59 137.49 L 144.68 136.57 z" style="fill:#3e51c5;fill-opacity:0.9"/>
<path d="M 86.85 134.03 L 89.7 134.66 L 91.39 133.78 L 88.56 133.12 z" style="fill:#4961d2;fill-opacity:0.9"/>
<path d="M 43.74 138.12 L 46.5 137.83 L 48.29 136.64 L 45.52 136.77 z" style="fill:#3f53c6;fill-opacity:0.9"/>
<path d="M 184.58 139.69 L 187.53 140.62 L 189.03 139.12 L 186.08 138.2 z" style="fill:#3b4cc0;fill-opacity:0.9"/>
<path d="M 150.5 138.43 L 153.41 139.37 L 154.98 138 L 152.07 137.07 z" style="fill:#3e51c5;fill-opacity:0.9"/>
<path d="M 94.24 134.47 L 97.09 135.18 L 98.77 134.26 L 95.93 133.53 z" style="fill:#485fd1;fill-opacity:0.9"/>
<path d="M 67.54 134.18 L 70.36 134.5 L 72.1 133.67 L 69.29 133.27 z" style="fill:#4961d2;fill-opacity:0.9"/>
<path d="M 157.9 138.94 L 160.82 139.89 L 162.37 138.48 L 159.45 137.55 z" style="fill:#3d50c3;fill-opacity:0.9"/>
<path d="M 101.63 135.02 L 104.49 135.79 L 106.16 134.82 L 103.3 134.03 z" style="fill:#465ecf;fill-opacity:0.9"/>
<path d="M 109.02 135.63 L 111.89 136.46 L 113.54 135.43 L 110.67 134.59 z" style="fill:#455cce;fill-opacity:0.9"/>
<path d="M 39.2 139.93 L 41.95 139.45 L 43.74 138.12 L 40.99 138.42 z" style="fill:#3c4ec2;fill-opacity:0.9"/>
<path d="M 55.62 135.46 L 58.41 135.51 L 60.18 134.59 L 57.39 134.43 z" style="fill:#465ecf;fill-opacity:0.9"/>
<path d="M 165.3 139.42 L 168.23 140.36 L 169.77 138.92 L 166.84 137.99 z" style="fill:#3c4ec2;fill-opacity:0.9"/>
<path d="M 116.42 136.28 L 119.3 137.16 L 120.93 136.06 L 118.05 135.19 z" style="fill:#445acc;fill-opacity:0.9"/>
<path d="M 123.81 136.94 L 126.7 137.85 L 128.32 136.68 L 125.43 135.79 z" style="fill:#4358cb;fill-opacity:0.9"/>
<path d="M 74.92 134.1 L 77.75 134.55 L 79.47 133.74 L 76.65 133.23 z" style="fill:#4a63d3;fill-opacity:0.9"/>
<path d="M 172.7 139.85 L 175.65 140.79 L 177.17 139.32 L 174.23 138.39 z" style="fill:#3b4cc0;fill-opacity:0.9"/>
<path d="M 131.21 137.59 L 134.1 138.52 L 135.71 137.29 L 132.82 136.38 z" style="fill:#4055c8;fill-opacity:0.9"/>
<path d="M 138.61 138.22 L 141.51 139.16 L 143.1 137.88 L 140.2 136.95 z" style="fill:#3f53c6;fill-opacity:0.9"/>
<path d="M 180.11 140.25 L 183.06 141.19 L 184.58 139.69 L 181.63 138.77 z" style="fill:#3b4cc0;fill-opacity:0.9"/>
<path d="M 82.3 134.28 L 85.14 134.84 L 86.85 134.03 L 84.02 133.42 z" style="fill:#4a63d3;fill-opacity:0.9"/>
<path d="M 146.01 138.82 L 148.92 139.77 L 150.5 138.43 L 147.59 137.49 z" style="fill:#3e51c5;fill-opacity:0.9"/>
<path d="M 62.98 134.78 L 65.79 134.99 L 67.54 134.18 L 64.74 133.88 z" style="fill:#4a63d3;fill-opacity:0.9"/>
<path d="M 51.06 136.52 L 53.85 136.42 L 55.62 135.46 L 52.84 135.43 z" style="fill:#455cce;fill-opacity:0.9"/>
<path d="M 89.7 134.66 L 92.55 135.32 L 94.24 134.47 L 91.39 133.78 z" style="fill:#4a63d3;fill-opacity:0.9"/>
<path d="M 153.41 139.37 L 156.33 140.32 L 157.9 138.94 L 154.98 138 z" style="fill:#3d50c3;fill-opacity:0.9"/>
<path d="M 97.09 135.18 L 99.95 135.92 L 101.63 135.02 L 98.77 134.26 z" style="fill:#4961d2;fill-opacity:0.9"/>
<path d="M 160.82 139.89 L 163.75 140.84 L 165.3 139.42 L 162.37 138.48 z" style="fill:#3d50c3;fill-opacity:0.9"/>
<path d="M 104.49 135.79 L 107.36 136.6 L 109.02 135.63 L 106.16 134.82 z" style="fill:#465ecf;fill-opacity:0.9"/>
<path d="M 111.89 136.46 L 114.77 137.32 L 116.42 136.28 L 113.54 135.43 z" style="fill:#455cce;fill-opacity:0.9"/>
<path d="M 168.23 140.36 L 171.17 141.31 L 172.7 139.85 L 169.77 138.92 z" style="fill:#3c4ec2;fill-opacity:0.9"/>
<path d="M 70.36 134.5 L 73.18 134.86 L 74.92 134.1 L 72.1 133.67 z" style="fill:#4b64d5;fill-opacity:0.9"/>
<path d="M 119.3 137.16 L 122.18 138.05 L 123.81 136.94 L 120.93 136.06 z" style="fill:#445acc;fill-opacity:0.9"/>
<path d="M 46.5 137.83 L 49.28 137.56 L 51.06 136.52 L 48.29 136.64 z" style="fill:#445acc;fill-opacity:0.9"/>
<path d="M 126.7 137.85 L 129.59 138.77 L 131.21 137.59 L 128.32 136.68 z" style="fill:#4257c9;fill-opacity:0.9"/>
<path d="M 175.65 140.79 L 178.59 141.74 L 180.11 140.25 L 177.17 139.32 z" style="fill:#3b4cc0;fill-opacity:0.9"/>
<path d="M 134.1 138.52 L 137.01 139.46 L 138.61 138.22 L 135.71 137.29 z" style="fill:#4055c8;fill-opacity:0.9"/>
<path d="M 58.41 135.51 L 61.22 135.59 L 62.98 134.78 L 60.18 134.59 z" style="fill:#4a63d3;fill-opacity:0.9"/>
<path d="M 77.75 134.55 L 80.58 135.04 L 82.3 134.28 L 79.47 133.74 z" style="fill:#4b64d5;fill-opacity:0.9"/>
<path d="M 141.51 139.16 L 144.42 140.12 L 146.01 138.82 L 143.1 137.88 z" style="fill:#3f53c6;fill-opacity:0.9"/>
<path d="M 183.06 141.19 L 186.02 142.13 L 187.53 140.62 L 184.58 139.69 z" style="fill:#3b4cc0;fill-opacity:0.9"/>
<path d="M 148.92 139.77 L 151.84 140.72 L 153.41 139.37 L 150.5 138.43 z" style="fill:#3e51c5;fill-opacity:0.9"/>
<path d="M 41.95 139.45 L 44.71 138.97 L 46.5 137.83 L 43.74 138.12 z" style="fill:#4055c8;fill-opacity:0.9"/>
<path d="M 85.14 134.84 L 87.99 135.44 L 89.7 134.66 L 86.85 134.03 z" style="fill:#4b64d5;fill-opacity:0.9"/>
<path d="M 156.33 140.32 L 159.26 141.28 L 160.82 139.89 L 157.9 138.94 z" style="fill:#3d50c3;fill-opacity:0.9"/>
<path d="M 92.55 135.32 L 95.4 136.01 L 97.09 135.18 L 94.24 134.47 z" style="fill:#4a63d3;fill-opacity:0.9"/>
<path d="M 37.4 141.45 L 40.15 140.75 L 41.95 139.45 L 39.2 139.93 z" style="fill:#3d50c3;fill-opacity:0.9"/>
<path d="M 163.75 140.84 L 166.69 141.8 L 168.23 140.36 L 165.3 139.42 z" style="fill:#3c4ec2;fill-opacity:0.9"/>
<path d="M 99.95 135.92 L 102.82 136.69 L 104.49 135.79 L 101.63 135.02 z" style="fill:#4961d2;fill-opacity:0.9"/>
<path d="M 65.79 134.99 L 68.61 135.23 L 70.36 134.5 L 67.54 134.18 z" style="fill:#4b64d5;fill-opacity:0.9"/>
<path d="M 107.36 136.6 L 110.24 137.43 L 111.89 136.46 L 109.02 135.63 z" style="fill:#485fd1;fill-opacity:0.9"/>
<path d="M 53.85 136.42 L 56.64 136.34 L 58.41 135.51 L 55.62 135.46 z" style="fill:#4961d2;fill-opacity:0.9"/>
<path d="M 171.17 141.31 L 174.12 142.26 L 175.65 140.79 L 172.7 139.85 z" style="fill:#3c4ec2;fill-opacity:0.9"/>
<path d="M 114.77 137.32 L 117.66 138.2 L 119.3 137.16 L 116.42 136.28 z" style="fill:#455cce;fill-opacity:0.9"/>
<path d="M 122.18 138.05 L 125.08 138.96 L 126.7 137.85 L 123.81 136.94 z" style="fill:#445acc;fill-opacity:0.9"/>
<path d="M 129.59 138.77 L 132.5 139.71 L 134.1 138.52 L 131.21 137.59 z" style="fill:#4257c9;fill-opacity:0.9"/>
<path d="M 178.59 141.74 L 181.55 142.68 L 183.06 141.19 L 180.11 140.25 z" style="fill:#3b4cc0;fill-opacity:0.9"/>
<path d="M 73.18 134.86 L 76.01 135.25 L 77.75 134.55 L 74.92 134.1 z" style="fill:#4c66d6;fill-opacity:0.9"/>
<path d="M 137.01 139.46 L 139.92 140.42 L 141.51 139.16 L 138.61 138.22 z" style="fill:#4055c8;fill-opacity:0.9"/>
<path d="M 144.42 140.12 L 147.34 141.08 L 148.92 139.77 L 146.01 138.82 z" style="fill:#3f53c6;fill-opacity:0.9"/>
<path d="M 151.84 140.72 L 154.77 141.69 L 156.33 140.32 L 153.41 139.37 z" style="fill:#3e51c5;fill-opacity:0.9"/>
<path d="M 80.58 135.04 L 83.43 135.55 L 85.14 134.84 L 82.3 134.28 z" style="fill:#4c66d6;fill-opacity:0.9"/>
<path d="M 49.28 137.56 L 52.06 137.3 L 53.85 136.42 L 51.06 136.52 z" style="fill:#485fd1;fill-opacity:0.9"/>
<path d="M 61.22 135.59 L 64.03 135.7 L 65.79 134.99 L 62.98 134.78 z" style="fill:#4c66d6;fill-opacity:0.9"/>
<path d="M 159.26 141.28 L 162.2 142.25 L 163.75 140.84 L 160.82 139.89 z" style="fill:#3d50c3;fill-opacity:0.9"/>
<path d="M 87.99 135.44 L 90.85 136.07 L 92.55 135.32 L 89.7 134.66 z" style="fill:#4c66d6;fill-opacity:0.9"/>
<path d="M 166.69 141.8 L 169.63 142.76 L 171.17 141.31 L 168.23 140.36 z" style="fill:#3c4ec2;fill-opacity:0.9"/>
<path d="M 95.4 136.01 L 98.27 136.73 L 99.95 135.92 L 97.09 135.18 z" style="fill:#4b64d5;fill-opacity:0.9"/>
<path d="M 102.82 136.69 L 105.69 137.48 L 107.36 136.6 L 104.49 135.79 z" style="fill:#4961d2;fill-opacity:0.9"/>
<path d="M 110.24 137.43 L 113.12 138.28 L 114.77 137.32 L 111.89 136.46 z" style="fill:#485fd1;fill-opacity:0.9"/>
<path d="M 174.12 142.26 L 177.07 143.22 L 178.59 141.74 L 175.65 140.79 z" style="fill:#3b4cc0;fill-opacity:0.9"/>
<path d="M 117.66 138.2 L 120.55 139.1 L 122.18 138.05 L 119.3 137.16 z" style="fill:#455cce;fill-opacity:0.9"/>
<path d="M 44.71 138.97 L 47.48 138.51 L 49.28 137.56 L 46.5 137.83 z" style="fill:#455cce;fill-opacity:0.9"/>
<path d="M 125.08 138.96 L 127.97 139.89 L 129.59 138.77 L 126.7 137.85 z" style="fill:#445acc;fill-opacity:0.9"/>
<path d="M 68.61 135.23 L 71.43 135.51 L 73.18 134.86 L 70.36 134.5 z" style="fill:#4e68d8;fill-opacity:0.9"/>
<path d="M 132.5 139.71 L 135.4 140.66 L 137.01 139.46 L 134.1 138.52 z" style="fill:#4257c9;fill-opacity:0.9"/>
<path d="M 181.55 142.68 L 184.51 143.64 L 186.02 142.13 L 183.06 141.19 z" style="fill:#3b4cc0;fill-opacity:0.9"/>
<path d="M 139.92 140.42 L 142.83 141.38 L 144.42 140.12 L 141.51 139.16 z" style="fill:#4055c8;fill-opacity:0.9"/>
<path d="M 147.34 141.08 L 150.26 142.05 L 151.84 140.72 L 148.92 139.77 z" style="fill:#3f53c6;fill-opacity:0.9"/>
<path d="M 56.64 136.34 L 59.44 136.3 L 61.22 135.59 L 58.41 135.51 z" style="fill:#4c66d6;fill-opacity:0.9"/>
<path d="M 40.15 140.75 L 42.91 140.06 L 44.71 138.97 L 41.95 139.45 z" style="fill:#4257c9;fill-opacity:0.9"/>
<path d="M 76.01 135.25 L 78.85 135.68 L 80.58 135.04 L 77.75 134.55 z" style="fill:#4f69d9;fill-opacity:0.9"/>
<path d="M 154.77 141.69 L 157.7 142.67 L 159.26 141.28 L 156.33 140.32 z" style="fill:#3e51c5;fill-opacity:0.9"/>
<path d="M 35.6 142.97 L 38.34 142.02 L 40.15 140.75 L 37.4 141.45 z" style="fill:#3d50c3;fill-opacity:0.9"/>
<path d="M 162.2 142.25 L 165.14 143.23 L 166.69 141.8 L 163.75 140.84 z" style="fill:#3d50c3;fill-opacity:0.9"/>
<path d="M 83.43 135.55 L 86.28 136.11 L 87.99 135.44 L 85.14 134.84 z" style="fill:#4e68d8;fill-opacity:0.9"/>
<path d="M 169.63 142.76 L 172.58 143.73 L 174.12 142.26 L 171.17 141.31 z" style="fill:#3c4ec2;fill-opacity:0.9"/>
<path d="M 90.85 136.07 L 93.71 136.73 L 95.4 136.01 L 92.55 135.32 z" style="fill:#4c66d6;fill-opacity:0.9"/>
<path d="M 98.27 136.73 L 101.14 137.48 L 102.82 136.69 L 99.95 135.92 z" style="fill:#4b64d5;fill-opacity:0.9"/>
<path d="M 64.03 135.7 L 66.84 135.84 L 68.61 135.23 L 65.79 134.99 z" style="fill:#4f69d9;fill-opacity:0.9"/>
<path d="M 105.69 137.48 L 108.57 138.31 L 110.24 137.43 L 107.36 136.6 z" style="fill:#4961d2;fill-opacity:0.9"/>
<path d="M 177.07 143.22 L 180.03 144.18 L 181.55 142.68 L 178.59 141.74 z" style="fill:#3b4cc0;fill-opacity:0.9"/>
<path d="M 113.12 138.28 L 116.01 139.16 L 117.66 138.2 L 114.77 137.32 z" style="fill:#485fd1;fill-opacity:0.9"/>
<path d="M 52.06 137.3 L 54.85 137.07 L 56.64 136.34 L 53.85 136.42 z" style="fill:#4b64d5;fill-opacity:0.9"/>
<path d="M 120.55 139.1 L 123.44 140.02 L 125.08 138.96 L 122.18 138.05 z" style="fill:#455cce;fill-opacity:0.9"/>
<path d="M 127.97 139.89 L 130.88 140.85 L 132.5 139.71 L 129.59 138.77 z" style="fill:#4358cb;fill-opacity:0.9"/>
<path d="M 135.4 140.66 L 138.32 141.63 L 139.92 140.42 L 137.01 139.46 z" style="fill:#4257c9;fill-opacity:0.9"/>
<path d="M 142.83 141.38 L 145.75 142.37 L 147.34 141.08 L 144.42 140.12 z" style="fill:#4055c8;fill-opacity:0.9"/>
<path d="M 150.26 142.05 L 153.19 143.04 L 154.77 141.69 L 151.84 140.72 z" style="fill:#3e51c5;fill-opacity:0.9"/>
<path d="M 71.43 135.51 L 74.27 135.82 L 76.01 135.25 L 73.18 134.86 z" style="fill:#506bda;fill-opacity:0.9"/>
<path d="M 157.7 142.67 L 160.64 143.65 L 162.2 142.25 L 159.26 141.28 z" style="fill:#3d50c3;fill-opacity:0.9"/>
<path d="M 47.48 138.51 L 50.26 138.08 L 52.06 137.3 L 49.28 137.56 z" style="fill:#4a63d3;fill-opacity:0.9"/>
<path d="M 165.14 143.23 L 168.08 144.21 L 169.63 142.76 L 166.69 141.8 z" style="fill:#3c4ec2;fill-opacity:0.9"/>
<path d="M 78.85 135.68 L 81.7 136.14 L 83.43 135.55 L 80.58 135.04 z" style="fill:#506bda;fill-opacity:0.9"/>
<path d="M 59.44 136.3 L 62.25 136.28 L 64.03 135.7 L 61.22 135.59 z" style="fill:#4f69d9;fill-opacity:0.9"/>
<path d="M 172.58 143.73 L 175.53 144.7 L 177.07 143.22 L 174.12 142.26 z" style="fill:#3c4ec2;fill-opacity:0.9"/>
<path d="M 86.28 136.11 L 89.14 136.7 L 90.85 136.07 L 87.99 135.44 z" style="fill:#4f69d9;fill-opacity:0.9"/>
<path d="M 93.71 136.73 L 96.58 137.43 L 98.27 136.73 L 95.4 136.01 z" style="fill:#4e68d8;fill-opacity:0.9"/>
<path d="M 101.14 137.48 L 104.02 138.27 L 105.69 137.48 L 102.82 136.69 z" style="fill:#4b64d5;fill-opacity:0.9"/>
<path d="M 180.03 144.18 L 182.99 145.15 L 184.51 143.64 L 181.55 142.68 z" style="fill:#3b4cc0;fill-opacity:0.9"/>
<path d="M 108.57 138.31 L 111.46 139.16 L 113.12 138.28 L 110.24 137.43 z" style="fill:#4a63d3;fill-opacity:0.9"/>
<path d="M 116.01 139.16 L 118.9 140.07 L 120.55 139.1 L 117.66 138.2 z" style="fill:#485fd1;fill-opacity:0.9"/>
<path d="M 123.44 140.02 L 126.35 140.96 L 127.97 139.89 L 125.08 138.96 z" style="fill:#455cce;fill-opacity:0.9"/>
<path d="M 42.91 140.06 L 45.67 139.39 L 47.48 138.51 L 44.71 138.97 z" style="fill:#485fd1;fill-opacity:0.9"/>
<path d="M 130.88 140.85 L 133.79 141.82 L 135.4 140.66 L 132.5 139.71 z" style="fill:#4358cb;fill-opacity:0.9"/>
<path d="M 138.32 141.63 L 141.24 142.62 L 142.83 141.38 L 139.92 140.42 z" style="fill:#4257c9;fill-opacity:0.9"/>
<path d="M 145.75 142.37 L 148.68 143.36 L 150.26 142.05 L 147.34 141.08 z" style="fill:#3f53c6;fill-opacity:0.9"/>
<path d="M 66.84 135.84 L 69.67 136.02 L 71.43 135.51 L 68.61 135.23 z" style="fill:#516ddb;fill-opacity:0.9"/>
<path d="M 153.19 143.04 L 156.13 144.04 L 157.7 142.67 L 154.77 141.69 z" style="fill:#3e51c5;fill-opacity:0.9"/>
<path d="M 38.34 142.02 L 41.09 141.08 L 42.91 140.06 L 40.15 140.75 z" style="fill:#4358cb;fill-opacity:0.9"/>
<path d="M 33.79 144.5 L 36.52 143.26 L 38.34 142.02 L 35.6 142.97 z" style="fill:#3d50c3;fill-opacity:0.9"/>
<path d="M 160.64 143.65 L 163.58 144.65 L 165.14 143.23 L 162.2 142.25 z" style="fill:#3d50c3;fill-opacity:0.9"/>
<path d="M 54.85 137.07 L 57.65 136.87 L 59.44 136.3 L 56.64 136.34 z" style="fill:#4f69d9;fill-opacity:0.9"/>
<path d="M 74.27 135.82 L 77.11 136.18 L 78.85 135.68 L 76.01 135.25 z" style="fill:#516ddb;fill-opacity:0.9"/>
<path d="M 168.08 144.21 L 171.04 145.19 L 172.58 143.73 L 169.63 142.76 z" style="fill:#3c4ec2;fill-opacity:0.9"/>
<path d="M 175.53 144.7 L 178.5 145.68 L 180.03 144.18 L 177.07 143.22 z" style="fill:#3b4cc0;fill-opacity:0.9"/>
<path d="M 81.7 136.14 L 84.55 136.65 L 86.28 136.11 L 83.43 135.55 z" style="fill:#516ddb;fill-opacity:0.9"/>
<path d="M 89.14 136.7 L 92 137.33 L 93.71 136.73 L 90.85 136.07 z" style="fill:#506bda;fill-opacity:0.9"/>
<path d="M 96.58 137.43 L 99.45 138.17 L 101.14 137.48 L 98.27 136.73 z" style="fill:#4e68d8;fill-opacity:0.9"/>
<path d="M 104.02 138.27 L 106.9 139.09 L 108.57 138.31 L 105.69 137.48 z" style="fill:#4b64d5;fill-opacity:0.9"/>
<path d="M 111.46 139.16 L 114.36 140.05 L 116.01 139.16 L 113.12 138.28 z" style="fill:#4a63d3;fill-opacity:0.9"/>
<path d="M 118.9 140.07 L 121.81 141 L 123.44 140.02 L 120.55 139.1 z" style="fill:#485fd1;fill-opacity:0.9"/>
<path d="M 126.35 140.96 L 129.26 141.93 L 130.88 140.85 L 127.97 139.89 z" style="fill:#455cce;fill-opacity:0.9"/>
<path d="M 133.79 141.82 L 136.71 142.8 L 138.32 141.63 L 135.4 140.66 z" style="fill:#4358cb;fill-opacity:0.9"/>
<path d="M 62.25 136.28 L 65.07 136.31 L 66.84 135.84 L 64.03 135.7 z" style="fill:#536edd;fill-opacity:0.9"/>
<path d="M 141.24 142.62 L 144.16 143.62 L 145.75 142.37 L 142.83 141.38 z" style="fill:#4055c8;fill-opacity:0.9"/>
<path d="M 50.26 138.08 L 53.05 137.67 L 54.85 137.07 L 52.06 137.3 z" style="fill:#4e68d8;fill-opacity:0.9"/>
<path d="M 148.68 143.36 L 151.62 144.36 L 153.19 143.04 L 150.26 142.05 z" style="fill:#3f53c6;fill-opacity:0.9"/>
<path d="M 156.13 144.04 L 159.07 145.04 L 160.64 143.65 L 157.7 142.67 z" style="fill:#3e51c5;fill-opacity:0.9"/>
<path d="M 163.58 144.65 L 166.53 145.65 L 168.08 144.21 L 165.14 143.23 z" style="fill:#3d50c3;fill-opacity:0.9"/>
<path d="M 69.67 136.02 L 72.51 136.25 L 74.27 135.82 L 71.43 135.51 z" style="fill:#5470de;fill-opacity:0.9"/>
<path d="M 171.04 145.19 L 174 146.19 L 175.53 144.7 L 172.58 143.73 z" style="fill:#3c4ec2;fill-opacity:0.9"/>
<path d="M 45.67 139.39 L 48.45 138.74 L 50.26 138.08 L 47.48 138.51 z" style="fill:#4c66d6;fill-opacity:0.9"/>
<path d="M 178.5 145.68 L 181.47 146.66 L 182.99 145.15 L 180.03 144.18 z" style="fill:#3b4cc0;fill-opacity:0.9"/>
<path d="M 77.11 136.18 L 79.96 136.58 L 81.7 136.14 L 78.85 135.68 z" style="fill:#5470de;fill-opacity:0.9"/>
<path d="M 57.65 136.87 L 60.46 136.71 L 62.25 136.28 L 59.44 136.3 z" style="fill:#536edd;fill-opacity:0.9"/>
<path d="M 84.55 136.65 L 87.42 137.19 L 89.14 136.7 L 86.28 136.11 z" style="fill:#536edd;fill-opacity:0.9"/>
<path d="M 121.81 141 L 124.71 141.96 L 126.35 140.96 L 123.44 140.02 z" style="fill:#465ecf;fill-opacity:0.9"/>
<path d="M 129.26 141.93 L 132.17 142.91 L 133.79 141.82 L 130.88 140.85 z" style="fill:#445acc;fill-opacity:0.9"/>
<path d="M 114.36 140.05 L 117.26 140.96 L 118.9 140.07 L 116.01 139.16 z" style="fill:#4961d2;fill-opacity:0.9"/>
<path d="M 92 137.33 L 94.88 138.01 L 96.58 137.43 L 93.71 136.73 z" style="fill:#506bda;fill-opacity:0.9"/>
<path d="M 136.71 142.8 L 139.63 143.81 L 141.24 142.62 L 138.32 141.63 z" style="fill:#4358cb;fill-opacity:0.9"/>
<path d="M 106.9 139.09 L 109.8 139.94 L 111.46 139.16 L 108.57 138.31 z" style="fill:#4c66d6;fill-opacity:0.9"/>
<path d="M 99.45 138.17 L 102.34 138.94 L 104.02 138.27 L 101.14 137.48 z" style="fill:#4f69d9;fill-opacity:0.9"/>
<path d="M 41.09 141.08 L 43.85 140.16 L 45.67 139.39 L 42.91 140.06 z" style="fill:#4961d2;fill-opacity:0.9"/>
<path d="M 144.16 143.62 L 147.09 144.63 L 148.68 143.36 L 145.75 142.37 z" style="fill:#4055c8;fill-opacity:0.9"/>
<path d="M 151.62 144.36 L 154.56 145.38 L 156.13 144.04 L 153.19 143.04 z" style="fill:#3f53c6;fill-opacity:0.9"/>
<path d="M 31.98 146.04 L 34.7 144.46 L 36.52 143.26 L 33.79 144.5 z" style="fill:#3e51c5;fill-opacity:0.9"/>
<path d="M 159.07 145.04 L 162.02 146.05 L 163.58 144.65 L 160.64 143.65 z" style="fill:#3d50c3;fill-opacity:0.9"/>
<path d="M 36.52 143.26 L 39.27 142.03 L 41.09 141.08 L 38.34 142.02 z" style="fill:#445acc;fill-opacity:0.9"/>
<path d="M 166.53 145.65 L 169.49 146.65 L 171.04 145.19 L 168.08 144.21 z" style="fill:#3c4ec2;fill-opacity:0.9"/>
<path d="M 65.07 136.31 L 67.9 136.38 L 69.67 136.02 L 66.84 135.84 z" style="fill:#5572df;fill-opacity:0.9"/>
<path d="M 174 146.19 L 176.96 147.18 L 178.5 145.68 L 175.53 144.7 z" style="fill:#3b4cc0;fill-opacity:0.9"/>
<path d="M 53.05 137.67 L 55.85 137.3 L 57.65 136.87 L 54.85 137.07 z" style="fill:#536edd;fill-opacity:0.9"/>
<path d="M 72.51 136.25 L 75.35 136.52 L 77.11 136.18 L 74.27 135.82 z" style="fill:#5673e0;fill-opacity:0.9"/>
<path d="M 132.17 142.91 L 135.1 143.92 L 136.71 142.8 L 133.79 141.82 z" style="fill:#445acc;fill-opacity:0.9"/>
<path d="M 79.96 136.58 L 82.82 137.03 L 84.55 136.65 L 81.7 136.14 z" style="fill:#5572df;fill-opacity:0.9"/>
<path d="M 124.71 141.96 L 127.63 142.94 L 129.26 141.93 L 126.35 140.96 z" style="fill:#465ecf;fill-opacity:0.9"/>
<path d="M 139.63 143.81 L 142.56 144.83 L 144.16 143.62 L 141.24 142.62 z" style="fill:#4257c9;fill-opacity:0.9"/>
<path d="M 117.26 140.96 L 120.16 141.9 L 121.81 141 L 118.9 140.07 z" style="fill:#4961d2;fill-opacity:0.9"/>
<path d="M 147.09 144.63 L 150.03 145.66 L 151.62 144.36 L 148.68 143.36 z" style="fill:#4055c8;fill-opacity:0.9"/>
<path d="M 109.8 139.94 L 112.69 140.83 L 114.36 140.05 L 111.46 139.16 z" style="fill:#4c66d6;fill-opacity:0.9"/>
<path d="M 87.42 137.19 L 90.29 137.79 L 92 137.33 L 89.14 136.7 z" style="fill:#5470de;fill-opacity:0.9"/>
<path d="M 102.34 138.94 L 105.23 139.75 L 106.9 139.09 L 104.02 138.27 z" style="fill:#4f69d9;fill-opacity:0.9"/>
<path d="M 94.88 138.01 L 97.76 138.72 L 99.45 138.17 L 96.58 137.43 z" style="fill:#516ddb;fill-opacity:0.9"/>
<path d="M 154.56 145.38 L 157.5 146.41 L 159.07 145.04 L 156.13 144.04 z" style="fill:#3e51c5;fill-opacity:0.9"/>
<path d="M 162.02 146.05 L 164.98 147.07 L 166.53 145.65 L 163.58 144.65 z" style="fill:#3d50c3;fill-opacity:0.9"/>
<path d="M 48.45 138.74 L 51.24 138.12 L 53.05 137.67 L 50.26 138.08 z" style="fill:#516ddb;fill-opacity:0.9"/>
<path d="M 60.46 136.71 L 63.29 136.6 L 65.07 136.31 L 62.25 136.28 z" style="fill:#5673e0;fill-opacity:0.9"/>
<path d="M 169.49 146.65 L 172.45 147.66 L 174 146.19 L 171.04 145.19 z" style="fill:#3c4ec2;fill-opacity:0.9"/>
<path d="M 176.96 147.18 L 179.94 148.18 L 181.47 146.66 L 178.5 145.68 z" style="fill:#3b4cc0;fill-opacity:0.9"/>
<path d="M 67.9 136.38 L 70.74 136.5 L 72.51 136.25 L 69.67 136.02 z" style="fill:#5875e1;fill-opacity:0.9"/>
<path d="M 43.85 140.16 L 46.63 139.26 L 48.45 138.74 L 45.67 139.39 z" style="fill:#4f69d9;fill-opacity:0.9"/>
<path d="M 135.1 143.92 L 138.02 144.95 L 139.63 143.81 L 136.71 142.8 z" style="fill:#445acc;fill-opacity:0.9"/>
<path d="M 142.56 144.83 L 145.5 145.87 L 147.09 144.63 L 144.16 143.62 z" style="fill:#4257c9;fill-opacity:0.9"/>
<path d="M 127.63 142.94 L 130.55 143.95 L 132.17 142.91 L 129.26 141.93 z" style="fill:#465ecf;fill-opacity:0.9"/>
<path d="M 150.03 145.66 L 152.97 146.7 L 154.56 145.38 L 151.62 144.36 z" style="fill:#3f53c6;fill-opacity:0.9"/>
<path d="M 120.16 141.9 L 123.08 142.87 L 124.71 141.96 L 121.81 141 z" style="fill:#4961d2;fill-opacity:0.9"/>
<path d="M 75.35 136.52 L 78.21 136.85 L 79.96 136.58 L 77.11 136.18 z" style="fill:#5875e1;fill-opacity:0.9"/>
<path d="M 112.69 140.83 L 115.6 141.75 L 117.26 140.96 L 114.36 140.05 z" style="fill:#4c66d6;fill-opacity:0.9"/>
<path d="M 157.5 146.41 L 160.45 147.44 L 162.02 146.05 L 159.07 145.04 z" style="fill:#3e51c5;fill-opacity:0.9"/>
<path d="M 30.15 147.58 L 32.86 145.6 L 34.7 144.46 L 31.98 146.04 z" style="fill:#3e51c5;fill-opacity:0.9"/>
<path d="M 39.27 142.03 L 42.02 140.81 L 43.85 140.16 L 41.09 141.08 z" style="fill:#4b64d5;fill-opacity:0.9"/>
<path d="M 55.85 137.3 L 58.66 136.98 L 60.46 136.71 L 57.65 136.87 z" style="fill:#5673e0;fill-opacity:0.9"/>
<path d="M 105.23 139.75 L 108.12 140.61 L 109.8 139.94 L 106.9 139.09 z" style="fill:#4f69d9;fill-opacity:0.9"/>
<path d="M 82.82 137.03 L 85.68 137.52 L 87.42 137.19 L 84.55 136.65 z" style="fill:#5673e0;fill-opacity:0.9"/>
<path d="M 97.76 138.72 L 100.64 139.48 L 102.34 138.94 L 99.45 138.17 z" style="fill:#516ddb;fill-opacity:0.9"/>
<path d="M 164.98 147.07 L 167.94 148.1 L 169.49 146.65 L 166.53 145.65 z" style="fill:#3d50c3;fill-opacity:0.9"/>
<path d="M 90.29 137.79 L 93.16 138.43 L 94.88 138.01 L 92 137.33 z" style="fill:#5470de;fill-opacity:0.9"/>
<path d="M 34.7 144.46 L 37.43 142.88 L 39.27 142.03 L 36.52 143.26 z" style="fill:#465ecf;fill-opacity:0.9"/>
<path d="M 172.45 147.66 L 175.42 148.68 L 176.96 147.18 L 174 146.19 z" style="fill:#3c4ec2;fill-opacity:0.9"/>
<path d="M 63.29 136.6 L 66.12 136.55 L 67.9 136.38 L 65.07 136.31 z" style="fill:#5a78e4;fill-opacity:0.9"/>
<path d="M 51.24 138.12 L 54.04 137.55 L 55.85 137.3 L 53.05 137.67 z" style="fill:#5673e0;fill-opacity:0.9"/>
<path d="M 138.02 144.95 L 140.96 146 L 142.56 144.83 L 139.63 143.81 z" style="fill:#4358cb;fill-opacity:0.9"/>
<path d="M 145.5 145.87 L 148.44 146.92 L 150.03 145.66 L 147.09 144.63 z" style="fill:#4055c8;fill-opacity:0.9"/>
<path d="M 130.55 143.95 L 133.48 144.98 L 135.1 143.92 L 132.17 142.91 z" style="fill:#465ecf;fill-opacity:0.9"/>
<path d="M 152.97 146.7 L 155.92 147.75 L 157.5 146.41 L 154.56 145.38 z" style="fill:#3f53c6;fill-opacity:0.9"/>
<path d="M 123.08 142.87 L 125.99 143.87 L 127.63 142.94 L 124.71 141.96 z" style="fill:#4961d2;fill-opacity:0.9"/>
<path d="M 160.45 147.44 L 163.41 148.49 L 164.98 147.07 L 162.02 146.05 z" style="fill:#3d50c3;fill-opacity:0.9"/>
<path d="M 70.74 136.5 L 73.59 136.67 L 75.35 136.52 L 72.51 136.25 z" style="fill:#5a78e4;fill-opacity:0.9"/>
<path d="M 115.6 141.75 L 118.51 142.71 L 120.16 141.9 L 117.26 140.96 z" style="fill:#4b64d5;fill-opacity:0.9"/>
<path d="M 108.12 140.61 L 111.03 141.5 L 112.69 140.83 L 109.8 139.94 z" style="fill:#4f69d9;fill-opacity:0.9"/>
<path d="M 167.94 148.1 L 170.9 149.14 L 172.45 147.66 L 169.49 146.65 z" style="fill:#3c4ec2;fill-opacity:0.9"/>
<path d="M 100.64 139.48 L 103.54 140.28 L 105.23 139.75 L 102.34 138.94 z" style="fill:#536edd;fill-opacity:0.9"/>
<path d="M 78.21 136.85 L 81.07 137.22 L 82.82 137.03 L 79.96 136.58 z" style="fill:#5a78e4;fill-opacity:0.9"/>
<path d="M 93.16 138.43 L 96.05 139.12 L 97.76 138.72 L 94.88 138.01 z" style="fill:#5572df;fill-opacity:0.9"/>
<path d="M 175.42 148.68 L 178.4 149.7 L 179.94 148.18 L 176.96 147.18 z" style="fill:#3b4cc0;fill-opacity:0.9"/>
<path d="M 85.68 137.52 L 88.56 138.07 L 90.29 137.79 L 87.42 137.19 z" style="fill:#5875e1;fill-opacity:0.9"/>
<path d="M 46.63 139.26 L 49.41 138.41 L 51.24 138.12 L 48.45 138.74 z" style="fill:#5572df;fill-opacity:0.9"/>
<path d="M 58.66 136.98 L 61.49 136.71 L 63.29 136.6 L 60.46 136.71 z" style="fill:#5b7ae5;fill-opacity:0.9"/>
<path d="M 140.96 146 L 143.9 147.06 L 145.5 145.87 L 142.56 144.83 z" style="fill:#4358cb;fill-opacity:0.9"/>
<path d="M 148.44 146.92 L 151.39 147.99 L 152.97 146.7 L 150.03 145.66 z" style="fill:#4055c8;fill-opacity:0.9"/>
<path d="M 133.48 144.98 L 136.41 146.03 L 138.02 144.95 L 135.1 143.92 z" style="fill:#455cce;fill-opacity:0.9"/>
<path d="M 42.02 140.81 L 44.79 139.63 L 46.63 139.26 L 43.85 140.16 z" style="fill:#536edd;fill-opacity:0.9"/>
<path d="M 155.92 147.75 L 158.88 148.82 L 160.45 147.44 L 157.5 146.41 z" style="fill:#3e51c5;fill-opacity:0.9"/>
<path d="M 28.32 149.13 L 31.01 146.69 L 32.86 145.6 L 30.15 147.58 z" style="fill:#3f53c6;fill-opacity:0.9"/>
<path d="M 125.99 143.87 L 128.92 144.9 L 130.55 143.95 L 127.63 142.94 z" style="fill:#4961d2;fill-opacity:0.9"/>
<path d="M 163.41 148.49 L 166.38 149.54 L 167.94 148.1 L 164.98 147.07 z" style="fill:#3d50c3;fill-opacity:0.9"/>
<path d="M 118.51 142.71 L 121.43 143.69 L 123.08 142.87 L 120.16 141.9 z" style="fill:#4b64d5;fill-opacity:0.9"/>
<path d="M 66.12 136.55 L 68.96 136.54 L 70.74 136.5 L 67.9 136.38 z" style="fill:#5d7ce6;fill-opacity:0.9"/>
<path d="M 170.9 149.14 L 173.88 150.18 L 175.42 148.68 L 172.45 147.66 z" style="fill:#3c4ec2;fill-opacity:0.9"/>
<path d="M 111.03 141.5 L 113.94 142.43 L 115.6 141.75 L 112.69 140.83 z" style="fill:#4f69d9;fill-opacity:0.9"/>
<path d="M 37.43 142.88 L 40.18 141.33 L 42.02 140.81 L 39.27 142.03 z" style="fill:#4f69d9;fill-opacity:0.9"/>
<path d="M 32.86 145.6 L 35.58 143.63 L 37.43 142.88 L 34.7 144.46 z" style="fill:#4961d2;fill-opacity:0.9"/>
<path d="M 103.54 140.28 L 106.44 141.13 L 108.12 140.61 L 105.23 139.75 z" style="fill:#536edd;fill-opacity:0.9"/>
<path d="M 73.59 136.67 L 76.45 136.91 L 78.21 136.85 L 75.35 136.52 z" style="fill:#5d7ce6;fill-opacity:0.9"/>
<path d="M 96.05 139.12 L 98.94 139.86 L 100.64 139.48 L 97.76 138.72 z" style="fill:#5673e0;fill-opacity:0.9"/>
<path d="M 54.04 137.55 L 56.85 137.03 L 58.66 136.98 L 55.85 137.3 z" style="fill:#5b7ae5;fill-opacity:0.9"/>
<path d="M 81.07 137.22 L 83.94 137.66 L 85.68 137.52 L 82.82 137.03 z" style="fill:#5b7ae5;fill-opacity:0.9"/>
<path d="M 88.56 138.07 L 91.44 138.68 L 93.16 138.43 L 90.29 137.79 z" style="fill:#5977e3;fill-opacity:0.9"/>
<path d="M 143.9 147.06 L 146.84 148.15 L 148.44 146.92 L 145.5 145.87 z" style="fill:#4257c9;fill-opacity:0.9"/>
<path d="M 151.39 147.99 L 154.34 149.07 L 155.92 147.75 L 152.97 146.7 z" style="fill:#3f53c6;fill-opacity:0.9"/>
<path d="M 136.41 146.03 L 139.35 147.11 L 140.96 146 L 138.02 144.95 z" style="fill:#455cce;fill-opacity:0.9"/>
<path d="M 158.88 148.82 L 161.84 149.89 L 163.41 148.49 L 160.45 147.44 z" style="fill:#3e51c5;fill-opacity:0.9"/>
<path d="M 128.92 144.9 L 131.85 145.96 L 133.48 144.98 L 130.55 143.95 z" style="fill:#485fd1;fill-opacity:0.9"/>
<path d="M 166.38 149.54 L 169.35 150.6 L 170.9 149.14 L 167.94 148.1 z" style="fill:#3d50c3;fill-opacity:0.9"/>
<path d="M 121.43 143.69 L 124.35 144.72 L 125.99 143.87 L 123.08 142.87 z" style="fill:#4b64d5;fill-opacity:0.9"/>
<path d="M 61.49 136.71 L 64.32 136.5 L 66.12 136.55 L 63.29 136.6 z" style="fill:#5f7fe8;fill-opacity:0.9"/>
<path d="M 173.88 150.18 L 176.86 151.22 L 178.4 149.7 L 175.42 148.68 z" style="fill:#3b4cc0;fill-opacity:0.9"/>
<path d="M 49.41 138.41 L 52.21 137.6 L 54.04 137.55 L 51.24 138.12 z" style="fill:#5b7ae5;fill-opacity:0.9"/>
<path d="M 113.94 142.43 L 116.85 143.39 L 118.51 142.71 L 115.6 141.75 z" style="fill:#4f69d9;fill-opacity:0.9"/>
<path d="M 106.44 141.13 L 109.35 142.03 L 111.03 141.5 L 108.12 140.61 z" style="fill:#536edd;fill-opacity:0.9"/>
<path d="M 68.96 136.54 L 71.81 136.61 L 73.59 136.67 L 70.74 136.5 z" style="fill:#6180e9;fill-opacity:0.9"/>
<path d="M 98.94 139.86 L 101.84 140.65 L 103.54 140.28 L 100.64 139.48 z" style="fill:#5673e0;fill-opacity:0.9"/>
<path d="M 91.44 138.68 L 94.33 139.34 L 96.05 139.12 L 93.16 138.43 z" style="fill:#5a78e4;fill-opacity:0.9"/>
<path d="M 76.45 136.91 L 79.31 137.21 L 81.07 137.22 L 78.21 136.85 z" style="fill:#5f7fe8;fill-opacity:0.9"/>
<path d="M 83.94 137.66 L 86.82 138.16 L 88.56 138.07 L 85.68 137.52 z" style="fill:#5d7ce6;fill-opacity:0.9"/>
<path d="M 44.79 139.63 L 47.57 138.49 L 49.41 138.41 L 46.63 139.26 z" style="fill:#5a78e4;fill-opacity:0.9"/>
<path d="M 146.84 148.15 L 149.8 149.24 L 151.39 147.99 L 148.44 146.92 z" style="fill:#4257c9;fill-opacity:0.9"/>
<path d="M 154.34 149.07 L 157.3 150.17 L 158.88 148.82 L 155.92 147.75 z" style="fill:#3f53c6;fill-opacity:0.9"/>
<path d="M 139.35 147.11 L 142.29 148.2 L 143.9 147.06 L 140.96 146 z" style="fill:#445acc;fill-opacity:0.9"/>
<path d="M 26.49 150.69 L 29.16 147.7 L 31.01 146.69 L 28.32 149.13 z" style="fill:#4055c8;fill-opacity:0.9"/>
<path d="M 161.84 149.89 L 164.81 150.97 L 166.38 149.54 L 163.41 148.49 z" style="fill:#3d50c3;fill-opacity:0.9"/>
<path d="M 131.85 145.96 L 134.79 147.04 L 136.41 146.03 L 133.48 144.98 z" style="fill:#485fd1;fill-opacity:0.9"/>
<path d="M 169.35 150.6 L 172.32 151.67 L 173.88 150.18 L 170.9 149.14 z" style="fill:#3c4ec2;fill-opacity:0.9"/>
<path d="M 56.85 137.03 L 59.67 136.58 L 61.49 136.71 L 58.66 136.98 z" style="fill:#6180e9;fill-opacity:0.9"/>
<path d="M 124.35 144.72 L 127.28 145.77 L 128.92 144.9 L 125.99 143.87 z" style="fill:#4a63d3;fill-opacity:0.9"/>
<path d="M 40.18 141.33 L 42.94 139.81 L 44.79 139.63 L 42.02 140.81 z" style="fill:#5875e1;fill-opacity:0.9"/>
<path d="M 116.85 143.39 L 119.77 144.4 L 121.43 143.69 L 118.51 142.71 z" style="fill:#4f69d9;fill-opacity:0.9"/>
<path d="M 31.01 146.69 L 33.72 144.25 L 35.58 143.63 L 32.86 145.6 z" style="fill:#4a63d3;fill-opacity:0.9"/>
<path d="M 109.35 142.03 L 112.26 142.96 L 113.94 142.43 L 111.03 141.5 z" style="fill:#536edd;fill-opacity:0.9"/>
<path d="M 35.58 143.63 L 38.32 141.68 L 40.18 141.33 L 37.43 142.88 z" style="fill:#536edd;fill-opacity:0.9"/>
<path d="M 64.32 136.5 L 67.16 136.35 L 68.96 136.54 L 66.12 136.55 z" style="fill:#6384eb;fill-opacity:0.9"/>
<path d="M 101.84 140.65 L 104.75 141.5 L 106.44 141.13 L 103.54 140.28 z" style="fill:#5673e0;fill-opacity:0.9"/>
<path d="M 94.33 139.34 L 97.23 140.06 L 98.94 139.86 L 96.05 139.12 z" style="fill:#5a78e4;fill-opacity:0.9"/>
<path d="M 149.8 149.24 L 152.75 150.36 L 154.34 149.07 L 151.39 147.99 z" style="fill:#4055c8;fill-opacity:0.9"/>
<path d="M 157.3 150.17 L 160.27 151.27 L 161.84 149.89 L 158.88 148.82 z" style="fill:#3e51c5;fill-opacity:0.9"/>
<path d="M 71.81 136.61 L 74.67 136.74 L 76.45 136.91 L 73.59 136.67 z" style="fill:#6384eb;fill-opacity:0.9"/>
<path d="M 142.29 148.2 L 145.24 149.32 L 146.84 148.15 L 143.9 147.06 z" style="fill:#445acc;fill-opacity:0.9"/>
<path d="M 164.81 150.97 L 167.79 152.06 L 169.35 150.6 L 166.38 149.54 z" style="fill:#3d50c3;fill-opacity:0.9"/>
<path d="M 86.82 138.16 L 89.71 138.72 L 91.44 138.68 L 88.56 138.07 z" style="fill:#5e7de7;fill-opacity:0.9"/>
<path d="M 52.21 137.6 L 55.02 136.86 L 56.85 137.03 L 54.04 137.55 z" style="fill:#6282ea;fill-opacity:0.9"/>
<path d="M 79.31 137.21 L 82.19 137.58 L 83.94 137.66 L 81.07 137.22 z" style="fill:#6180e9;fill-opacity:0.9"/>
<path d="M 134.79 147.04 L 137.73 148.15 L 139.35 147.11 L 136.41 146.03 z" style="fill:#465ecf;fill-opacity:0.9"/>
<path d="M 172.32 151.67 L 175.31 152.74 L 176.86 151.22 L 173.88 150.18 z" style="fill:#3c4ec2;fill-opacity:0.9"/>
<path d="M 127.28 145.77 L 130.22 146.86 L 131.85 145.96 L 128.92 144.9 z" style="fill:#4a63d3;fill-opacity:0.9"/>
<path d="M 119.77 144.4 L 122.7 145.45 L 124.35 144.72 L 121.43 143.69 z" style="fill:#4e68d8;fill-opacity:0.9"/>
<path d="M 112.26 142.96 L 115.19 143.95 L 116.85 143.39 L 113.94 142.43 z" style="fill:#536edd;fill-opacity:0.9"/>
<path d="M 59.67 136.58 L 62.51 136.19 L 64.32 136.5 L 61.49 136.71 z" style="fill:#6687ed;fill-opacity:0.9"/>
<path d="M 47.57 138.49 L 50.36 137.41 L 52.21 137.6 L 49.41 138.41 z" style="fill:#6180e9;fill-opacity:0.9"/>
<path d="M 104.75 141.5 L 107.66 142.4 L 109.35 142.03 L 106.44 141.13 z" style="fill:#5673e0;fill-opacity:0.9"/>
<path d="M 152.75 150.36 L 155.72 151.49 L 157.3 150.17 L 154.34 149.07 z" style="fill:#4055c8;fill-opacity:0.9"/>
<path d="M 160.27 151.27 L 163.24 152.39 L 164.81 150.97 L 161.84 149.89 z" style="fill:#3e51c5;fill-opacity:0.9"/>
<path d="M 145.24 149.32 L 148.2 150.45 L 149.8 149.24 L 146.84 148.15 z" style="fill:#4358cb;fill-opacity:0.9"/>
<path d="M 24.64 152.25 L 27.29 148.64 L 29.16 147.7 L 26.49 150.69 z" style="fill:#4257c9;fill-opacity:0.9"/>
<path d="M 167.79 152.06 L 170.77 153.16 L 172.32 151.67 L 169.35 150.6 z" style="fill:#3c4ec2;fill-opacity:0.9"/>
<path d="M 97.23 140.06 L 100.14 140.84 L 101.84 140.65 L 98.94 139.86 z" style="fill:#5b7ae5;fill-opacity:0.9"/>
<path d="M 137.73 148.15 L 140.68 149.28 L 142.29 148.2 L 139.35 147.11 z" style="fill:#455cce;fill-opacity:0.9"/>
<path d="M 67.16 136.35 L 70.02 136.28 L 71.81 136.61 L 68.96 136.54 z" style="fill:#6788ee;fill-opacity:0.9"/>
<path d="M 130.22 146.86 L 133.16 147.97 L 134.79 147.04 L 131.85 145.96 z" style="fill:#4961d2;fill-opacity:0.9"/>
<path d="M 89.71 138.72 L 92.61 139.35 L 94.33 139.34 L 91.44 138.68 z" style="fill:#5f7fe8;fill-opacity:0.9"/>
<path d="M 74.67 136.74 L 77.54 136.95 L 79.31 137.21 L 76.45 136.91 z" style="fill:#6687ed;fill-opacity:0.9"/>
<path d="M 82.19 137.58 L 85.08 138.01 L 86.82 138.16 L 83.94 137.66 z" style="fill:#6384eb;fill-opacity:0.9"/>
<path d="M 42.94 139.81 L 45.71 138.34 L 47.57 138.49 L 44.79 139.63 z" style="fill:#5f7fe8;fill-opacity:0.9"/>
<path d="M 122.7 145.45 L 125.64 146.53 L 127.28 145.77 L 124.35 144.72 z" style="fill:#4e68d8;fill-opacity:0.9"/>
<path d="M 115.19 143.95 L 118.11 144.98 L 119.77 144.4 L 116.85 143.39 z" style="fill:#516ddb;fill-opacity:0.9"/>
<path d="M 29.16 147.7 L 31.85 144.73 L 33.72 144.25 L 31.01 146.69 z" style="fill:#4e68d8;fill-opacity:0.9"/>
<path d="M 55.02 136.86 L 57.84 136.18 L 59.67 136.58 L 56.85 137.03 z" style="fill:#6788ee;fill-opacity:0.9"/>
<path d="M 38.32 141.68 L 41.07 139.77 L 42.94 139.81 L 40.18 141.33 z" style="fill:#5b7ae5;fill-opacity:0.9"/>
<path d="M 107.66 142.4 L 110.59 143.35 L 112.26 142.96 L 109.35 142.03 z" style="fill:#5673e0;fill-opacity:0.9"/>
<path d="M 33.72 144.25 L 36.44 141.84 L 38.32 141.68 L 35.58 143.63 z" style="fill:#5673e0;fill-opacity:0.9"/>
<path d="M 155.72 151.49 L 158.69 152.63 L 160.27 151.27 L 157.3 150.17 z" style="fill:#3f53c6;fill-opacity:0.9"/>
<path d="M 163.24 152.39 L 166.22 153.51 L 167.79 152.06 L 164.81 150.97 z" style="fill:#3d50c3;fill-opacity:0.9"/>
<path d="M 148.2 150.45 L 151.16 151.61 L 152.75 150.36 L 149.8 149.24 z" style="fill:#4257c9;fill-opacity:0.9"/>
<path d="M 170.77 153.16 L 173.75 154.26 L 175.31 152.74 L 172.32 151.67 z" style="fill:#3c4ec2;fill-opacity:0.9"/>
<path d="M 140.68 149.28 L 143.63 150.44 L 145.24 149.32 L 142.29 148.2 z" style="fill:#455cce;fill-opacity:0.9"/>
<path d="M 100.14 140.84 L 103.05 141.68 L 104.75 141.5 L 101.84 140.65 z" style="fill:#5b7ae5;fill-opacity:0.9"/>
<path d="M 133.16 147.97 L 136.11 149.12 L 137.73 148.15 L 134.79 147.04 z" style="fill:#4961d2;fill-opacity:0.9"/>
<path d="M 62.51 136.19 L 65.35 135.88 L 67.16 136.35 L 64.32 136.5 z" style="fill:#6a8bef;fill-opacity:0.9"/>
<path d="M 125.64 146.53 L 128.58 147.65 L 130.22 146.86 L 127.28 145.77 z" style="fill:#4c66d6;fill-opacity:0.9"/>
<path d="M 92.61 139.35 L 95.51 140.04 L 97.23 140.06 L 94.33 139.34 z" style="fill:#6180e9;fill-opacity:0.9"/>
<path d="M 85.08 138.01 L 87.97 138.52 L 89.71 138.72 L 86.82 138.16 z" style="fill:#6485ec;fill-opacity:0.9"/>
<path d="M 70.02 136.28 L 72.88 136.29 L 74.67 136.74 L 71.81 136.61 z" style="fill:#6a8bef;fill-opacity:0.9"/>
<path d="M 118.11 144.98 L 121.05 146.05 L 122.7 145.45 L 119.77 144.4 z" style="fill:#516ddb;fill-opacity:0.9"/>
<path d="M 50.36 137.41 L 53.17 136.4 L 55.02 136.86 L 52.21 137.6 z" style="fill:#688aef;fill-opacity:0.9"/>
<path d="M 77.54 136.95 L 80.42 137.23 L 82.19 137.58 L 79.31 137.21 z" style="fill:#6788ee;fill-opacity:0.9"/>
<path d="M 158.69 152.63 L 161.66 153.78 L 163.24 152.39 L 160.27 151.27 z" style="fill:#3e51c5;fill-opacity:0.9"/>
<path d="M 151.16 151.61 L 154.13 152.78 L 155.72 151.49 L 152.75 150.36 z" style="fill:#4055c8;fill-opacity:0.9"/>
<path d="M 110.59 143.35 L 113.51 144.35 L 115.19 143.95 L 112.26 142.96 z" style="fill:#5673e0;fill-opacity:0.9"/>
<path d="M 166.22 153.51 L 169.2 154.64 L 170.77 153.16 L 167.79 152.06 z" style="fill:#3d50c3;fill-opacity:0.9"/>
<path d="M 143.63 150.44 L 146.59 151.61 L 148.2 150.45 L 145.24 149.32 z" style="fill:#445acc;fill-opacity:0.9"/>
<path d="M 22.79 153.81 L 25.41 149.48 L 27.29 148.64 L 24.64 152.25 z" style="fill:#4358cb;fill-opacity:0.9"/>
<path d="M 136.11 149.12 L 139.06 150.29 L 140.68 149.28 L 137.73 148.15 z" style="fill:#485fd1;fill-opacity:0.9"/>
<path d="M 103.05 141.68 L 105.97 142.58 L 107.66 142.4 L 104.75 141.5 z" style="fill:#5b7ae5;fill-opacity:0.9"/>
<path d="M 128.58 147.65 L 131.53 148.8 L 133.16 147.97 L 130.22 146.86 z" style="fill:#4c66d6;fill-opacity:0.9"/>
<path d="M 45.71 138.34 L 48.5 136.94 L 50.36 137.41 L 47.57 138.49 z" style="fill:#688aef;fill-opacity:0.9"/>
<path d="M 57.84 136.18 L 60.68 135.59 L 62.51 136.19 L 59.67 136.58 z" style="fill:#6c8ff1;fill-opacity:0.9"/>
<path d="M 95.51 140.04 L 98.42 140.81 L 100.14 140.84 L 97.23 140.06 z" style="fill:#6180e9;fill-opacity:0.9"/>
<path d="M 121.05 146.05 L 123.99 147.17 L 125.64 146.53 L 122.7 145.45 z" style="fill:#506bda;fill-opacity:0.9"/>
<path d="M 87.97 138.52 L 90.87 139.11 L 92.61 139.35 L 89.71 138.72 z" style="fill:#6687ed;fill-opacity:0.9"/>
<path d="M 161.66 153.78 L 164.65 154.94 L 166.22 153.51 L 163.24 152.39 z" style="fill:#3e51c5;fill-opacity:0.9"/>
<path d="M 65.35 135.88 L 68.21 135.66 L 70.02 136.28 L 67.16 136.35 z" style="fill:#6e90f2;fill-opacity:0.9"/>
<path d="M 154.13 152.78 L 157.1 153.96 L 158.69 152.63 L 155.72 151.49 z" style="fill:#4055c8;fill-opacity:0.9"/>
<path d="M 27.29 148.64 L 29.95 145.04 L 31.85 144.73 L 29.16 147.7 z" style="fill:#506bda;fill-opacity:0.9"/>
<path d="M 169.2 154.64 L 172.19 155.78 L 173.75 154.26 L 170.77 153.16 z" style="fill:#3c4ec2;fill-opacity:0.9"/>
<path d="M 113.51 144.35 L 116.45 145.4 L 118.11 144.98 L 115.19 143.95 z" style="fill:#5673e0;fill-opacity:0.9"/>
<path d="M 41.07 139.77 L 43.84 137.92 L 45.71 138.34 L 42.94 139.81 z" style="fill:#6687ed;fill-opacity:0.9"/>
<path d="M 146.59 151.61 L 149.56 152.81 L 151.16 151.61 L 148.2 150.45 z" style="fill:#4358cb;fill-opacity:0.9"/>
<path d="M 80.42 137.23 L 83.31 137.59 L 85.08 138.01 L 82.19 137.58 z" style="fill:#6a8bef;fill-opacity:0.9"/>
<path d="M 72.88 136.29 L 75.76 136.39 L 77.54 136.95 L 74.67 136.74 z" style="fill:#6c8ff1;fill-opacity:0.9"/>
<path d="M 139.06 150.29 L 142.02 151.49 L 143.63 150.44 L 140.68 149.28 z" style="fill:#465ecf;fill-opacity:0.9"/>
<path d="M 36.44 141.84 L 39.18 139.48 L 41.07 139.77 L 38.32 141.68 z" style="fill:#6282ea;fill-opacity:0.9"/>
<path d="M 31.85 144.73 L 34.55 141.78 L 36.44 141.84 L 33.72 144.25 z" style="fill:#5a78e4;fill-opacity:0.9"/>
<path d="M 105.97 142.58 L 108.9 143.54 L 110.59 143.35 L 107.66 142.4 z" style="fill:#5b7ae5;fill-opacity:0.9"/>
<path d="M 131.53 148.8 L 134.48 149.99 L 136.11 149.12 L 133.16 147.97 z" style="fill:#4b64d5;fill-opacity:0.9"/>
<path d="M 53.17 136.4 L 55.99 135.47 L 57.84 136.18 L 55.02 136.86 z" style="fill:#6f92f3;fill-opacity:0.9"/>
<path d="M 123.99 147.17 L 126.93 148.32 L 128.58 147.65 L 125.64 146.53 z" style="fill:#506bda;fill-opacity:0.9"/>
<path d="M 98.42 140.81 L 101.34 141.64 L 103.05 141.68 L 100.14 140.84 z" style="fill:#6180e9;fill-opacity:0.9"/>
<path d="M 164.65 154.94 L 167.63 156.12 L 169.2 154.64 L 166.22 153.51 z" style="fill:#3d50c3;fill-opacity:0.9"/>
<path d="M 157.1 153.96 L 160.08 155.16 L 161.66 153.78 L 158.69 152.63 z" style="fill:#3f53c6;fill-opacity:0.9"/>
<path d="M 149.56 152.81 L 152.53 154.03 L 154.13 152.78 L 151.16 151.61 z" style="fill:#4257c9;fill-opacity:0.9"/>
<path d="M 116.45 145.4 L 119.39 146.5 L 121.05 146.05 L 118.11 144.98 z" style="fill:#5572df;fill-opacity:0.9"/>
<path d="M 90.87 139.11 L 93.78 139.77 L 95.51 140.04 L 92.61 139.35 z" style="fill:#6788ee;fill-opacity:0.9"/>
<path d="M 20.93 155.39 L 23.51 150.21 L 25.41 149.48 L 22.79 153.81 z" style="fill:#445acc;fill-opacity:0.9"/>
<path d="M 142.02 151.49 L 144.98 152.71 L 146.59 151.61 L 143.63 150.44 z" style="fill:#455cce;fill-opacity:0.9"/>
<path d="M 60.68 135.59 L 63.52 135.09 L 65.35 135.88 L 62.51 136.19 z" style="fill:#7295f4;fill-opacity:0.9"/>
<path d="M 83.31 137.59 L 86.21 138.04 L 87.97 138.52 L 85.08 138.01 z" style="fill:#6b8df0;fill-opacity:0.9"/>
<path d="M 134.48 149.99 L 137.44 151.21 L 139.06 150.29 L 136.11 149.12 z" style="fill:#4a63d3;fill-opacity:0.9"/>
<path d="M 108.9 143.54 L 111.83 144.56 L 113.51 144.35 L 110.59 143.35 z" style="fill:#5b7ae5;fill-opacity:0.9"/>
<path d="M 68.21 135.66 L 71.08 135.53 L 72.88 136.29 L 70.02 136.28 z" style="fill:#7295f4;fill-opacity:0.9"/>
<path d="M 48.5 136.94 L 51.31 135.62 L 53.17 136.4 L 50.36 137.41 z" style="fill:#7093f3;fill-opacity:0.9"/>
<path d="M 75.76 136.39 L 78.64 136.58 L 80.42 137.23 L 77.54 136.95 z" style="fill:#6f92f3;fill-opacity:0.9"/>
<path d="M 126.93 148.32 L 129.89 149.52 L 131.53 148.8 L 128.58 147.65 z" style="fill:#4f69d9;fill-opacity:0.9"/>
<path d="M 101.34 141.64 L 104.27 142.54 L 105.97 142.58 L 103.05 141.68 z" style="fill:#6180e9;fill-opacity:0.9"/>
<path d="M 160.08 155.16 L 163.07 156.36 L 164.65 154.94 L 161.66 153.78 z" style="fill:#3e51c5;fill-opacity:0.9"/>
<path d="M 167.63 156.12 L 170.63 157.29 L 172.19 155.78 L 169.2 154.64 z" style="fill:#3c4ec2;fill-opacity:0.9"/>
<path d="M 152.53 154.03 L 155.51 155.26 L 157.1 153.96 L 154.13 152.78 z" style="fill:#4257c9;fill-opacity:0.9"/>
<path d="M 119.39 146.5 L 122.33 147.66 L 123.99 147.17 L 121.05 146.05 z" style="fill:#5470de;fill-opacity:0.9"/>
<path d="M 144.98 152.71 L 147.95 153.96 L 149.56 152.81 L 146.59 151.61 z" style="fill:#455cce;fill-opacity:0.9"/>
<path d="M 43.84 137.92 L 46.62 136.15 L 48.5 136.94 L 45.71 138.34 z" style="fill:#7093f3;fill-opacity:0.9"/>
<path d="M 93.78 139.77 L 96.7 140.52 L 98.42 140.81 L 95.51 140.04 z" style="fill:#6788ee;fill-opacity:0.9"/>
<path d="M 25.41 149.48 L 28.05 145.14 L 29.95 145.04 L 27.29 148.64 z" style="fill:#5470de;fill-opacity:0.9"/>
<path d="M 137.44 151.21 L 140.4 152.46 L 142.02 151.49 L 139.06 150.29 z" style="fill:#4961d2;fill-opacity:0.9"/>
<path d="M 55.99 135.47 L 58.83 134.64 L 60.68 135.59 L 57.84 136.18 z" style="fill:#7699f6;fill-opacity:0.9"/>
<path d="M 111.83 144.56 L 114.77 145.64 L 116.45 145.4 L 113.51 144.35 z" style="fill:#5a78e4;fill-opacity:0.9"/>
<path d="M 86.21 138.04 L 89.12 138.58 L 90.87 139.11 L 87.97 138.52 z" style="fill:#6e90f2;fill-opacity:0.9"/>
<path d="M 129.89 149.52 L 132.84 150.76 L 134.48 149.99 L 131.53 148.8 z" style="fill:#4e68d8;fill-opacity:0.9"/>
<path d="M 39.18 139.48 L 41.94 137.18 L 43.84 137.92 L 41.07 139.77 z" style="fill:#6e90f2;fill-opacity:0.9"/>
<path d="M 63.52 135.09 L 66.38 134.68 L 68.21 135.66 L 65.35 135.88 z" style="fill:#779af7;fill-opacity:0.9"/>
<path d="M 78.64 136.58 L 81.54 136.86 L 83.31 137.59 L 80.42 137.23 z" style="fill:#7295f4;fill-opacity:0.9"/>
<path d="M 163.07 156.36 L 166.06 157.58 L 167.63 156.12 L 164.65 154.94 z" style="fill:#3d50c3;fill-opacity:0.9"/>
<path d="M 29.95 145.04 L 32.64 141.46 L 34.55 141.78 L 31.85 144.73 z" style="fill:#6180e9;fill-opacity:0.9"/>
<path d="M 104.27 142.54 L 107.2 143.52 L 108.9 143.54 L 105.97 142.58 z" style="fill:#6180e9;fill-opacity:0.9"/>
<path d="M 155.51 155.26 L 158.49 156.5 L 160.08 155.16 L 157.1 153.96 z" style="fill:#4055c8;fill-opacity:0.9"/>
<path d="M 71.08 135.53 L 73.96 135.49 L 75.76 136.39 L 72.88 136.29 z" style="fill:#7699f6;fill-opacity:0.9"/>
<path d="M 122.33 147.66 L 125.28 148.86 L 126.93 148.32 L 123.99 147.17 z" style="fill:#5470de;fill-opacity:0.9"/>
<path d="M 34.55 141.78 L 37.28 138.89 L 39.18 139.48 L 36.44 141.84 z" style="fill:#688aef;fill-opacity:0.9"/>
<path d="M 147.95 153.96 L 150.93 155.23 L 152.53 154.03 L 149.56 152.81 z" style="fill:#445acc;fill-opacity:0.9"/>
<path d="M 19.06 156.97 L 21.6 150.8 L 23.51 150.21 L 20.93 155.39 z" style="fill:#455cce;fill-opacity:0.9"/>
<path d="M 140.4 152.46 L 143.37 153.74 L 144.98 152.71 L 142.02 151.49 z" style="fill:#485fd1;fill-opacity:0.9"/>
<path d="M 96.7 140.52 L 99.62 141.34 L 101.34 141.64 L 98.42 140.81 z" style="fill:#6788ee;fill-opacity:0.9"/>
<path d="M 51.31 135.62 L 54.12 134.4 L 55.99 135.47 L 53.17 136.4 z" style="fill:#799cf8;fill-opacity:0.9"/>
<path d="M 114.77 145.64 L 117.71 146.78 L 119.39 146.5 L 116.45 145.4 z" style="fill:#5a78e4;fill-opacity:0.9"/>
<path d="M 132.84 150.76 L 135.81 152.03 L 137.44 151.21 L 134.48 149.99 z" style="fill:#4c66d6;fill-opacity:0.9"/>
<path d="M 89.12 138.58 L 92.04 139.21 L 93.78 139.77 L 90.87 139.11 z" style="fill:#6e90f2;fill-opacity:0.9"/>
<path d="M 166.06 157.58 L 169.05 158.8 L 170.63 157.29 L 167.63 156.12 z" style="fill:#3c4ec2;fill-opacity:0.9"/>
<path d="M 158.49 156.5 L 161.48 157.76 L 163.07 156.36 L 160.08 155.16 z" style="fill:#3f53c6;fill-opacity:0.9"/>
<path d="M 107.2 143.52 L 110.14 144.56 L 111.83 144.56 L 108.9 143.54 z" style="fill:#6180e9;fill-opacity:0.9"/>
<path d="M 125.28 148.86 L 128.24 150.11 L 129.89 149.52 L 126.93 148.32 z" style="fill:#536edd;fill-opacity:0.9"/>
<path d="M 150.93 155.23 L 153.91 156.51 L 155.51 155.26 L 152.53 154.03 z" style="fill:#4358cb;fill-opacity:0.9"/>
<path d="M 58.83 134.64 L 61.68 133.91 L 63.52 135.09 L 60.68 135.59 z" style="fill:#7b9ff9;fill-opacity:0.9"/>
<path d="M 81.54 136.86 L 84.44 137.24 L 86.21 138.04 L 83.31 137.59 z" style="fill:#7597f6;fill-opacity:0.9"/>
<path d="M 143.37 153.74 L 146.34 155.04 L 147.95 153.96 L 144.98 152.71 z" style="fill:#465ecf;fill-opacity:0.9"/>
<path d="M 46.62 136.15 L 49.42 134.47 L 51.31 135.62 L 48.5 136.94 z" style="fill:#7a9df8;fill-opacity:0.9"/>
<path d="M 73.96 135.49 L 76.85 135.56 L 78.64 136.58 L 75.76 136.39 z" style="fill:#799cf8;fill-opacity:0.9"/>
<path d="M 66.38 134.68 L 69.25 134.38 L 71.08 135.53 L 68.21 135.66 z" style="fill:#7b9ff9;fill-opacity:0.9"/>
<path d="M 117.71 146.78 L 120.67 147.98 L 122.33 147.66 L 119.39 146.5 z" style="fill:#5977e3;fill-opacity:0.9"/>
<path d="M 99.62 141.34 L 102.55 142.25 L 104.27 142.54 L 101.34 141.64 z" style="fill:#688aef;fill-opacity:0.9"/>
<path d="M 135.81 152.03 L 138.77 153.34 L 140.4 152.46 L 137.44 151.21 z" style="fill:#4b64d5;fill-opacity:0.9"/>
<path d="M 23.51 150.21 L 26.12 145.02 L 28.05 145.14 L 25.41 149.48 z" style="fill:#5977e3;fill-opacity:0.9"/>
<path d="M 161.48 157.76 L 164.48 159.03 L 166.06 157.58 L 163.07 156.36 z" style="fill:#3e51c5;fill-opacity:0.9"/>
<path d="M 128.24 150.11 L 131.2 151.4 L 132.84 150.76 L 129.89 149.52 z" style="fill:#516ddb;fill-opacity:0.9"/>
<path d="M 153.91 156.51 L 156.9 157.82 L 158.49 156.5 L 155.51 155.26 z" style="fill:#4257c9;fill-opacity:0.9"/>
<path d="M 110.14 144.56 L 113.08 145.67 L 114.77 145.64 L 111.83 144.56 z" style="fill:#5f7fe8;fill-opacity:0.9"/>
<path d="M 92.04 139.21 L 94.96 139.93 L 96.7 140.52 L 93.78 139.77 z" style="fill:#6f92f3;fill-opacity:0.9"/>
<path d="M 41.94 137.18 L 44.71 134.97 L 46.62 136.15 L 43.84 137.92 z" style="fill:#799cf8;fill-opacity:0.9"/>
<path d="M 146.34 155.04 L 149.32 156.37 L 150.93 155.23 L 147.95 153.96 z" style="fill:#455cce;fill-opacity:0.9"/>
<path d="M 54.12 134.4 L 56.96 133.28 L 58.83 134.64 L 55.99 135.47 z" style="fill:#80a3fa;fill-opacity:0.9"/>
<path d="M 120.67 147.98 L 123.62 149.23 L 125.28 148.86 L 122.33 147.66 z" style="fill:#5875e1;fill-opacity:0.9"/>
<path d="M 138.77 153.34 L 141.75 154.68 L 143.37 153.74 L 140.4 152.46 z" style="fill:#4a63d3;fill-opacity:0.9"/>
<path d="M 84.44 137.24 L 87.36 137.72 L 89.12 138.58 L 86.21 138.04 z" style="fill:#7699f6;fill-opacity:0.9"/>
<path d="M 28.05 145.14 L 30.71 140.84 L 32.64 141.46 L 29.95 145.04 z" style="fill:#6788ee;fill-opacity:0.9"/>
<path d="M 102.55 142.25 L 105.49 143.24 L 107.2 143.52 L 104.27 142.54 z" style="fill:#6788ee;fill-opacity:0.9"/>
<path d="M 37.28 138.89 L 40.02 136.07 L 41.94 137.18 L 39.18 139.48 z" style="fill:#7699f6;fill-opacity:0.9"/>
<path d="M 164.48 159.03 L 167.48 160.31 L 169.05 158.8 L 166.06 157.58 z" style="fill:#3d50c3;fill-opacity:0.9"/>
<path d="M 32.64 141.46 L 35.35 137.95 L 37.28 138.89 L 34.55 141.78 z" style="fill:#7093f3;fill-opacity:0.9"/>
<path d="M 76.85 135.56 L 79.75 135.75 L 81.54 136.86 L 78.64 136.58 z" style="fill:#7b9ff9;fill-opacity:0.9"/>
<path d="M 131.2 151.4 L 134.17 152.74 L 135.81 152.03 L 132.84 150.76 z" style="fill:#506bda;fill-opacity:0.9"/>
<path d="M 61.68 133.91 L 64.54 133.29 L 66.38 134.68 L 63.52 135.09 z" style="fill:#82a6fb;fill-opacity:0.9"/>
<path d="M 156.9 157.82 L 159.89 159.13 L 161.48 157.76 L 158.49 156.5 z" style="fill:#3f53c6;fill-opacity:0.9"/>
<path d="M 69.25 134.38 L 72.14 134.2 L 73.96 135.49 L 71.08 135.53 z" style="fill:#81a4fb;fill-opacity:0.9"/>
<path d="M 113.08 145.67 L 116.04 146.85 L 117.71 146.78 L 114.77 145.64 z" style="fill:#5f7fe8;fill-opacity:0.9"/>
<path d="M 149.32 156.37 L 152.31 157.72 L 153.91 156.51 L 150.93 155.23 z" style="fill:#445acc;fill-opacity:0.9"/>
<path d="M 94.96 139.93 L 97.89 140.75 L 99.62 141.34 L 96.7 140.52 z" style="fill:#6f92f3;fill-opacity:0.9"/>
<path d="M 123.62 149.23 L 126.58 150.54 L 128.24 150.11 L 125.28 148.86 z" style="fill:#5673e0;fill-opacity:0.9"/>
<path d="M 141.75 154.68 L 144.72 156.06 L 146.34 155.04 L 143.37 153.74 z" style="fill:#4961d2;fill-opacity:0.9"/>
<path d="M 49.42 134.47 L 52.23 132.89 L 54.12 134.4 L 51.31 135.62 z" style="fill:#84a7fc;fill-opacity:0.9"/>
<path d="M 105.49 143.24 L 108.44 144.31 L 110.14 144.56 L 107.2 143.52 z" style="fill:#6788ee;fill-opacity:0.9"/>
<path d="M 87.36 137.72 L 90.28 138.3 L 92.04 139.21 L 89.12 138.58 z" style="fill:#779af7;fill-opacity:0.9"/>
<path d="M 134.17 152.74 L 137.14 154.12 L 138.77 153.34 L 135.81 152.03 z" style="fill:#4e68d8;fill-opacity:0.9"/>
<path d="M 159.89 159.13 L 162.89 160.46 L 164.48 159.03 L 161.48 157.76 z" style="fill:#3e51c5;fill-opacity:0.9"/>
<path d="M 116.04 146.85 L 118.99 148.1 L 120.67 147.98 L 117.71 146.78 z" style="fill:#5e7de7;fill-opacity:0.9"/>
<path d="M 152.31 157.72 L 155.3 159.09 L 156.9 157.82 L 153.91 156.51 z" style="fill:#4257c9;fill-opacity:0.9"/>
<path d="M 79.75 135.75 L 82.66 136.04 L 84.44 137.24 L 81.54 136.86 z" style="fill:#7ea1fa;fill-opacity:0.9"/>
<path d="M 21.6 150.8 L 24.17 144.62 L 26.12 145.02 L 23.51 150.21 z" style="fill:#5e7de7;fill-opacity:0.9"/>
<path d="M 97.89 140.75 L 100.83 141.66 L 102.55 142.25 L 99.62 141.34 z" style="fill:#6f92f3;fill-opacity:0.9"/>
<path d="M 56.96 133.28 L 59.81 132.28 L 61.68 133.91 L 58.83 134.64 z" style="fill:#88abfd;fill-opacity:0.9"/>
<path d="M 144.72 156.06 L 147.71 157.45 L 149.32 156.37 L 146.34 155.04 z" style="fill:#465ecf;fill-opacity:0.9"/>
<path d="M 126.58 150.54 L 129.55 151.9 L 131.2 151.4 L 128.24 150.11 z" style="fill:#5572df;fill-opacity:0.9"/>
<path d="M 44.71 134.97 L 47.51 132.87 L 49.42 134.47 L 46.62 136.15 z" style="fill:#85a8fc;fill-opacity:0.9"/>
<path d="M 72.14 134.2 L 75.03 134.14 L 76.85 135.56 L 73.96 135.49 z" style="fill:#84a7fc;fill-opacity:0.9"/>
<path d="M 64.54 133.29 L 67.41 132.8 L 69.25 134.38 L 66.38 134.68 z" style="fill:#88abfd;fill-opacity:0.9"/>
<path d="M 108.44 144.31 L 111.39 145.46 L 113.08 145.67 L 110.14 144.56 z" style="fill:#6687ed;fill-opacity:0.9"/>
<path d="M 137.14 154.12 L 140.12 155.53 L 141.75 154.68 L 138.77 153.34 z" style="fill:#4c66d6;fill-opacity:0.9"/>
<path d="M 162.89 160.46 L 165.89 161.8 L 167.48 160.31 L 164.48 159.03 z" style="fill:#3d50c3;fill-opacity:0.9"/>
<path d="M 118.99 148.1 L 121.96 149.41 L 123.62 149.23 L 120.67 147.98 z" style="fill:#5d7ce6;fill-opacity:0.9"/>
<path d="M 155.3 159.09 L 158.29 160.48 L 159.89 159.13 L 156.9 157.82 z" style="fill:#4055c8;fill-opacity:0.9"/>
<path d="M 90.28 138.3 L 93.21 139 L 94.96 139.93 L 92.04 139.21 z" style="fill:#799cf8;fill-opacity:0.9"/>
<path d="M 147.71 157.45 L 150.7 158.88 L 152.31 157.72 L 149.32 156.37 z" style="fill:#455cce;fill-opacity:0.9"/>
<path d="M 129.55 151.9 L 132.52 153.31 L 134.17 152.74 L 131.2 151.4 z" style="fill:#5470de;fill-opacity:0.9"/>
<path d="M 40.02 136.07 L 42.78 133.35 L 44.71 134.97 L 41.94 137.18 z" style="fill:#84a7fc;fill-opacity:0.9"/>
<path d="M 26.12 145.02 L 28.75 139.86 L 30.71 140.84 L 28.05 145.14 z" style="fill:#6f92f3;fill-opacity:0.9"/>
<path d="M 100.83 141.66 L 103.78 142.66 L 105.49 143.24 L 102.55 142.25 z" style="fill:#6f92f3;fill-opacity:0.9"/>
<path d="M 82.66 136.04 L 85.58 136.46 L 87.36 137.72 L 84.44 137.24 z" style="fill:#81a4fb;fill-opacity:0.9"/>
<path d="M 140.12 155.53 L 143.1 156.98 L 144.72 156.06 L 141.75 154.68 z" style="fill:#4b64d5;fill-opacity:0.9"/>
<path d="M 52.23 132.89 L 55.06 131.44 L 56.96 133.28 L 54.12 134.4 z" style="fill:#8caffe;fill-opacity:0.9"/>
<path d="M 111.39 145.46 L 114.35 146.68 L 116.04 146.85 L 113.08 145.67 z" style="fill:#6687ed;fill-opacity:0.9"/>
<path d="M 35.35 137.95 L 38.07 134.52 L 40.02 136.07 L 37.28 138.89 z" style="fill:#81a4fb;fill-opacity:0.9"/>
<path d="M 30.71 140.84 L 33.39 136.6 L 35.35 137.95 L 32.64 141.46 z" style="fill:#7a9df8;fill-opacity:0.9"/>
<path d="M 158.29 160.48 L 161.29 161.88 L 162.89 160.46 L 159.89 159.13 z" style="fill:#3f53c6;fill-opacity:0.9"/>
<path d="M 121.96 149.41 L 124.92 150.79 L 126.58 150.54 L 123.62 149.23 z" style="fill:#5b7ae5;fill-opacity:0.9"/>
<path d="M 75.03 134.14 L 77.94 134.2 L 79.75 135.75 L 76.85 135.56 z" style="fill:#88abfd;fill-opacity:0.9"/>
<path d="M 150.7 158.88 L 153.69 160.32 L 155.3 159.09 L 152.31 157.72 z" style="fill:#445acc;fill-opacity:0.9"/>
<path d="M 93.21 139 L 96.15 139.8 L 97.89 140.75 L 94.96 139.93 z" style="fill:#799cf8;fill-opacity:0.9"/>
<path d="M 132.52 153.31 L 135.5 154.76 L 137.14 154.12 L 134.17 152.74 z" style="fill:#516ddb;fill-opacity:0.9"/>
<path d="M 59.81 132.28 L 62.67 131.42 L 64.54 133.29 L 61.68 133.91 z" style="fill:#8fb1fe;fill-opacity:0.9"/>
<path d="M 67.41 132.8 L 70.3 132.44 L 72.14 134.2 L 69.25 134.38 z" style="fill:#8caffe;fill-opacity:0.9"/>
<path d="M 103.78 142.66 L 106.73 143.76 L 108.44 144.31 L 105.49 143.24 z" style="fill:#6f92f3;fill-opacity:0.9"/>
<path d="M 143.1 156.98 L 146.09 158.46 L 147.71 157.45 L 144.72 156.06 z" style="fill:#4961d2;fill-opacity:0.9"/>
<path d="M 114.35 146.68 L 117.31 147.99 L 118.99 148.1 L 116.04 146.85 z" style="fill:#6485ec;fill-opacity:0.9"/>
<path d="M 161.29 161.88 L 164.3 163.28 L 165.89 161.8 L 162.89 160.46 z" style="fill:#3e51c5;fill-opacity:0.9"/>
<path d="M 124.92 150.79 L 127.9 152.22 L 129.55 151.9 L 126.58 150.54 z" style="fill:#5977e3;fill-opacity:0.9"/>
<path d="M 85.58 136.46 L 88.51 136.99 L 90.28 138.3 L 87.36 137.72 z" style="fill:#82a6fb;fill-opacity:0.9"/>
<path d="M 47.51 132.87 L 50.31 130.89 L 52.23 132.89 L 49.42 134.47 z" style="fill:#90b2fe;fill-opacity:0.9"/>
<path d="M 153.69 160.32 L 156.69 161.78 L 158.29 160.48 L 155.3 159.09 z" style="fill:#4257c9;fill-opacity:0.9"/>
<path d="M 135.5 154.76 L 138.48 156.26 L 140.12 155.53 L 137.14 154.12 z" style="fill:#506bda;fill-opacity:0.9"/>
<path d="M 96.15 139.8 L 99.09 140.71 L 100.83 141.66 L 97.89 140.75 z" style="fill:#799cf8;fill-opacity:0.9"/>
<path d="M 146.09 158.46 L 149.08 159.96 L 150.7 158.88 L 147.71 157.45 z" style="fill:#485fd1;fill-opacity:0.9"/>
<path d="M 77.94 134.2 L 80.85 134.4 L 82.66 136.04 L 79.75 135.75 z" style="fill:#8badfd;fill-opacity:0.9"/>
<path d="M 106.73 143.76 L 109.69 144.95 L 111.39 145.46 L 108.44 144.31 z" style="fill:#6e90f2;fill-opacity:0.9"/>
<path d="M 117.31 147.99 L 120.28 149.37 L 121.96 149.41 L 118.99 148.1 z" style="fill:#6384eb;fill-opacity:0.9"/>
<path d="M 127.9 152.22 L 130.87 153.71 L 132.52 153.31 L 129.55 151.9 z" style="fill:#5875e1;fill-opacity:0.9"/>
<path d="M 55.06 131.44 L 57.91 130.13 L 59.81 132.28 L 56.96 133.28 z" style="fill:#94b6ff;fill-opacity:0.9"/>
<path d="M 70.3 132.44 L 73.2 132.22 L 75.03 134.14 L 72.14 134.2 z" style="fill:#92b4fe;fill-opacity:0.9"/>
<path d="M 42.78 133.35 L 45.56 130.75 L 47.51 132.87 L 44.71 134.97 z" style="fill:#92b4fe;fill-opacity:0.9"/>
<path d="M 138.48 156.26 L 141.47 157.8 L 143.1 156.98 L 140.12 155.53 z" style="fill:#4e68d8;fill-opacity:0.9"/>
<path d="M 156.69 161.78 L 159.69 163.26 L 161.29 161.88 L 158.29 160.48 z" style="fill:#4055c8;fill-opacity:0.9"/>
<path d="M 62.67 131.42 L 65.55 130.69 L 67.41 132.8 L 64.54 133.29 z" style="fill:#94b6ff;fill-opacity:0.9"/>
<path d="M 88.51 136.99 L 91.44 137.66 L 93.21 139 L 90.28 138.3 z" style="fill:#84a7fc;fill-opacity:0.9"/>
<path d="M 149.08 159.96 L 152.08 161.5 L 153.69 160.32 L 150.7 158.88 z" style="fill:#455cce;fill-opacity:0.9"/>
<path d="M 24.17 144.62 L 26.76 138.47 L 28.75 139.86 L 26.12 145.02 z" style="fill:#779af7;fill-opacity:0.9"/>
<path d="M 99.09 140.71 L 102.05 141.74 L 103.78 142.66 L 100.83 141.66 z" style="fill:#799cf8;fill-opacity:0.9"/>
<path d="M 109.69 144.95 L 112.65 146.23 L 114.35 146.68 L 111.39 145.46 z" style="fill:#6c8ff1;fill-opacity:0.9"/>
<path d="M 120.28 149.37 L 123.26 150.82 L 124.92 150.79 L 121.96 149.41 z" style="fill:#6180e9;fill-opacity:0.9"/>
<path d="M 130.87 153.71 L 133.86 155.26 L 135.5 154.76 L 132.52 153.31 z" style="fill:#5572df;fill-opacity:0.9"/>
<path d="M 38.07 134.52 L 40.82 131.2 L 42.78 133.35 L 40.02 136.07 z" style="fill:#92b4fe;fill-opacity:0.9"/>
<path d="M 141.47 157.8 L 144.46 159.37 L 146.09 158.46 L 143.1 156.98 z" style="fill:#4b64d5;fill-opacity:0.9"/>
<path d="M 159.69 163.26 L 162.7 164.75 L 164.3 163.28 L 161.29 161.88 z" style="fill:#3e51c5;fill-opacity:0.9"/>
<path d="M 80.85 134.4 L 83.78 134.74 L 85.58 136.46 L 82.66 136.04 z" style="fill:#8db0fe;fill-opacity:0.9"/>
<path d="M 28.75 139.86 L 31.4 134.77 L 33.39 136.6 L 30.71 140.84 z" style="fill:#85a8fc;fill-opacity:0.9"/>
<path d="M 33.39 136.6 L 36.1 132.45 L 38.07 134.52 L 35.35 137.95 z" style="fill:#8db0fe;fill-opacity:0.9"/>
<path d="M 152.08 161.5 L 155.08 163.05 L 156.69 161.78 L 153.69 160.32 z" style="fill:#4358cb;fill-opacity:0.9"/>
<path d="M 50.31 130.89 L 53.14 129.05 L 55.06 131.44 L 52.23 132.89 z" style="fill:#9bbcff;fill-opacity:0.9"/>
<path d="M 91.44 137.66 L 94.39 138.44 L 96.15 139.8 L 93.21 139 z" style="fill:#84a7fc;fill-opacity:0.9"/>
<path d="M 123.26 150.82 L 126.23 152.34 L 127.9 152.22 L 124.92 150.79 z" style="fill:#5f7fe8;fill-opacity:0.9"/>
<path d="M 112.65 146.23 L 115.62 147.6 L 117.31 147.99 L 114.35 146.68 z" style="fill:#6b8df0;fill-opacity:0.9"/>
<path d="M 133.86 155.26 L 136.84 156.85 L 138.48 156.26 L 135.5 154.76 z" style="fill:#536edd;fill-opacity:0.9"/>
<path d="M 73.2 132.22 L 76.11 132.14 L 77.94 134.2 L 75.03 134.14 z" style="fill:#94b6ff;fill-opacity:0.9"/>
<path d="M 102.05 141.74 L 105.01 142.87 L 106.73 143.76 L 103.78 142.66 z" style="fill:#799cf8;fill-opacity:0.9"/>
<path d="M 144.46 159.37 L 147.46 160.97 L 149.08 159.96 L 146.09 158.46 z" style="fill:#4961d2;fill-opacity:0.9"/>
<path d="M 57.91 130.13 L 60.77 128.98 L 62.67 131.42 L 59.81 132.28 z" style="fill:#9dbdff;fill-opacity:0.9"/>
<path d="M 65.55 130.69 L 68.44 130.13 L 70.3 132.44 L 67.41 132.8 z" style="fill:#9bbcff;fill-opacity:0.9"/>
<path d="M 155.08 163.05 L 158.09 164.62 L 159.69 163.26 L 156.69 161.78 z" style="fill:#4055c8;fill-opacity:0.9"/>
<path d="M 83.78 134.74 L 86.72 135.21 L 88.51 136.99 L 85.58 136.46 z" style="fill:#8fb1fe;fill-opacity:0.9"/>
<path d="M 126.23 152.34 L 129.22 153.93 L 130.87 153.71 L 127.9 152.22 z" style="fill:#5d7ce6;fill-opacity:0.9"/>
<path d="M 136.84 156.85 L 139.84 158.49 L 141.47 157.8 L 138.48 156.26 z" style="fill:#516ddb;fill-opacity:0.9"/>
<path d="M 115.62 147.6 L 118.6 149.06 L 120.28 149.37 L 117.31 147.99 z" style="fill:#6a8bef;fill-opacity:0.9"/>
<path d="M 45.56 130.75 L 48.37 128.29 L 50.31 130.89 L 47.51 132.87 z" style="fill:#9fbfff;fill-opacity:0.9"/>
<path d="M 105.01 142.87 L 107.97 144.11 L 109.69 144.95 L 106.73 143.76 z" style="fill:#779af7;fill-opacity:0.9"/>
<path d="M 94.39 138.44 L 97.34 139.36 L 99.09 140.71 L 96.15 139.8 z" style="fill:#84a7fc;fill-opacity:0.9"/>
<path d="M 147.46 160.97 L 150.46 162.61 L 152.08 161.5 L 149.08 159.96 z" style="fill:#465ecf;fill-opacity:0.9"/>
<path d="M 158.09 164.62 L 161.1 166.21 L 162.7 164.75 L 159.69 163.26 z" style="fill:#3f53c6;fill-opacity:0.9"/>
<path d="M 76.11 132.14 L 79.03 132.23 L 80.85 134.4 L 77.94 134.2 z" style="fill:#98b9ff;fill-opacity:0.9"/>
<path d="M 129.22 153.93 L 132.21 155.58 L 133.86 155.26 L 130.87 153.71 z" style="fill:#5a78e4;fill-opacity:0.9"/>
<path d="M 139.84 158.49 L 142.83 160.17 L 144.46 159.37 L 141.47 157.8 z" style="fill:#4f69d9;fill-opacity:0.9"/>
<path d="M 118.6 149.06 L 121.58 150.61 L 123.26 150.82 L 120.28 149.37 z" style="fill:#6788ee;fill-opacity:0.9"/>
<path d="M 150.46 162.61 L 153.47 164.27 L 155.08 163.05 L 152.08 161.5 z" style="fill:#445acc;fill-opacity:0.9"/>
<path d="M 53.14 129.05 L 55.99 127.37 L 57.91 130.13 L 55.06 131.44 z" style="fill:#a5c3fe;fill-opacity:0.9"/>
<path d="M 107.97 144.11 L 110.95 145.45 L 112.65 146.23 L 109.69 144.95 z" style="fill:#7699f6;fill-opacity:0.9"/>
<path d="M 86.72 135.21 L 89.66 135.84 L 91.44 137.66 L 88.51 136.99 z" style="fill:#90b2fe;fill-opacity:0.9"/>
<path d="M 68.44 130.13 L 71.34 129.72 L 73.2 132.22 L 70.3 132.44 z" style="fill:#9fbfff;fill-opacity:0.9"/>
<path d="M 40.82 131.2 L 43.59 128.02 L 45.56 130.75 L 42.78 133.35 z" style="fill:#a1c0ff;fill-opacity:0.9"/>
<path d="M 97.34 139.36 L 100.31 140.4 L 102.05 141.74 L 99.09 140.71 z" style="fill:#84a7fc;fill-opacity:0.9"/>
<path d="M 60.77 128.98 L 63.65 127.99 L 65.55 130.69 L 62.67 131.42 z" style="fill:#a5c3fe;fill-opacity:0.9"/>
<path d="M 142.83 160.17 L 145.83 161.89 L 147.46 160.97 L 144.46 159.37 z" style="fill:#4b64d5;fill-opacity:0.9"/>
<path d="M 132.21 155.58 L 135.2 157.29 L 136.84 156.85 L 133.86 155.26 z" style="fill:#5875e1;fill-opacity:0.9"/>
<path d="M 121.58 150.61 L 124.56 152.23 L 126.23 152.34 L 123.26 150.82 z" style="fill:#6485ec;fill-opacity:0.9"/>
<path d="M 153.47 164.27 L 156.48 165.95 L 158.09 164.62 L 155.08 163.05 z" style="fill:#4257c9;fill-opacity:0.9"/>
<path d="M 36.1 132.45 L 38.83 128.44 L 40.82 131.2 L 38.07 134.52 z" style="fill:#a1c0ff;fill-opacity:0.9"/>
<path d="M 110.95 145.45 L 113.92 146.9 L 115.62 147.6 L 112.65 146.23 z" style="fill:#7597f6;fill-opacity:0.9"/>
<path d="M 79.03 132.23 L 81.97 132.47 L 83.78 134.74 L 80.85 134.4 z" style="fill:#9bbcff;fill-opacity:0.9"/>
<path d="M 26.76 138.47 L 29.38 132.39 L 31.4 134.77 L 28.75 139.86 z" style="fill:#93b5fe;fill-opacity:0.9"/>
<path d="M 31.4 134.77 L 34.08 129.79 L 36.1 132.45 L 33.39 136.6 z" style="fill:#9bbcff;fill-opacity:0.9"/>
<path d="M 100.31 140.4 L 103.27 141.57 L 105.01 142.87 L 102.05 141.74 z" style="fill:#84a7fc;fill-opacity:0.9"/>
<path d="M 89.66 135.84 L 92.62 136.61 L 94.39 138.44 L 91.44 137.66 z" style="fill:#90b2fe;fill-opacity:0.9"/>
<path d="M 145.83 161.89 L 148.84 163.64 L 150.46 162.61 L 147.46 160.97 z" style="fill:#4961d2;fill-opacity:0.9"/>
<path d="M 135.2 157.29 L 138.2 159.05 L 139.84 158.49 L 136.84 156.85 z" style="fill:#5572df;fill-opacity:0.9"/>
<path d="M 124.56 152.23 L 127.55 153.93 L 129.22 153.93 L 126.23 152.34 z" style="fill:#6282ea;fill-opacity:0.9"/>
<path d="M 48.37 128.29 L 51.19 126 L 53.14 129.05 L 50.31 130.89 z" style="fill:#aac7fd;fill-opacity:0.9"/>
<path d="M 156.48 165.95 L 159.49 167.64 L 161.1 166.21 L 158.09 164.62 z" style="fill:#3f53c6;fill-opacity:0.9"/>
<path d="M 71.34 129.72 L 74.26 129.49 L 76.11 132.14 L 73.2 132.22 z" style="fill:#a5c3fe;fill-opacity:0.9"/>
<path d="M 113.92 146.9 L 116.91 148.45 L 118.6 149.06 L 115.62 147.6 z" style="fill:#7295f4;fill-opacity:0.9"/>
<path d="M 138.2 159.05 L 141.2 160.85 L 142.83 160.17 L 139.84 158.49 z" style="fill:#516ddb;fill-opacity:0.9"/>
<path d="M 148.84 163.64 L 151.85 165.42 L 153.47 164.27 L 150.46 162.61 z" style="fill:#465ecf;fill-opacity:0.9"/>
<path d="M 55.99 127.37 L 58.85 125.87 L 60.77 128.98 L 57.91 130.13 z" style="fill:#adc9fd;fill-opacity:0.9"/>
<path d="M 63.65 127.99 L 66.55 127.17 L 68.44 130.13 L 65.55 130.69 z" style="fill:#aac7fd;fill-opacity:0.9"/>
<path d="M 103.27 141.57 L 106.25 142.87 L 107.97 144.11 L 105.01 142.87 z" style="fill:#82a6fb;fill-opacity:0.9"/>
<path d="M 127.55 153.93 L 130.55 155.7 L 132.21 155.58 L 129.22 153.93 z" style="fill:#5f7fe8;fill-opacity:0.9"/>
<path d="M 81.97 132.47 L 84.91 132.88 L 86.72 135.21 L 83.78 134.74 z" style="fill:#9dbdff;fill-opacity:0.9"/>
<path d="M 92.62 136.61 L 95.58 137.52 L 97.34 139.36 L 94.39 138.44 z" style="fill:#92b4fe;fill-opacity:0.9"/>
<path d="M 116.91 148.45 L 119.9 150.1 L 121.58 150.61 L 118.6 149.06 z" style="fill:#6f92f3;fill-opacity:0.9"/>
<path d="M 141.2 160.85 L 144.2 162.7 L 145.83 161.89 L 142.83 160.17 z" style="fill:#4f69d9;fill-opacity:0.9"/>
<path d="M 151.85 165.42 L 154.86 167.23 L 156.48 165.95 L 153.47 164.27 z" style="fill:#445acc;fill-opacity:0.9"/>
<path d="M 43.59 128.02 L 46.38 125 L 48.37 128.29 L 45.56 130.75 z" style="fill:#afcafc;fill-opacity:0.9"/>
<path d="M 130.55 155.7 L 133.55 157.54 L 135.2 157.29 L 132.21 155.58 z" style="fill:#5d7ce6;fill-opacity:0.9"/>
<path d="M 106.25 142.87 L 109.23 144.29 L 110.95 145.45 L 107.97 144.11 z" style="fill:#81a4fb;fill-opacity:0.9"/>
<path d="M 74.26 129.49 L 77.19 129.44 L 79.03 132.23 L 76.11 132.14 z" style="fill:#a7c5fe;fill-opacity:0.9"/>
<path d="M 119.9 150.1 L 122.89 151.84 L 124.56 152.23 L 121.58 150.61 z" style="fill:#6c8ff1;fill-opacity:0.9"/>
<path d="M 95.58 137.52 L 98.55 138.59 L 100.31 140.4 L 97.34 139.36 z" style="fill:#90b2fe;fill-opacity:0.9"/>
<path d="M 144.2 162.7 L 147.21 164.59 L 148.84 163.64 L 145.83 161.89 z" style="fill:#4b64d5;fill-opacity:0.9"/>
<path d="M 154.86 167.23 L 157.88 169.05 L 159.49 167.64 L 156.48 165.95 z" style="fill:#4055c8;fill-opacity:0.9"/>
<path d="M 84.91 132.88 L 87.86 133.46 L 89.66 135.84 L 86.72 135.21 z" style="fill:#9fbfff;fill-opacity:0.9"/>
<path d="M 133.55 157.54 L 136.55 159.43 L 138.2 159.05 L 135.2 157.29 z" style="fill:#5977e3;fill-opacity:0.9"/>
<path d="M 51.19 126 L 54.03 123.89 L 55.99 127.37 L 53.14 129.05 z" style="fill:#b6cefa;fill-opacity:0.9"/>
<path d="M 66.55 127.17 L 69.46 126.55 L 71.34 129.72 L 68.44 130.13 z" style="fill:#b1cbfc;fill-opacity:0.9"/>
<path d="M 38.83 128.44 L 41.58 124.58 L 43.59 128.02 L 40.82 131.2 z" style="fill:#b2ccfb;fill-opacity:0.9"/>
<path d="M 109.23 144.29 L 112.22 145.82 L 113.92 146.9 L 110.95 145.45 z" style="fill:#7ea1fa;fill-opacity:0.9"/>
<path d="M 58.85 125.87 L 61.73 124.57 L 63.65 127.99 L 60.77 128.98 z" style="fill:#b6cefa;fill-opacity:0.9"/>
<path d="M 122.89 151.84 L 125.88 153.67 L 127.55 153.93 L 124.56 152.23 z" style="fill:#6a8bef;fill-opacity:0.9"/>
<path d="M 147.21 164.59 L 150.22 166.51 L 151.85 165.42 L 148.84 163.64 z" style="fill:#4961d2;fill-opacity:0.9"/>
<path d="M 136.55 159.43 L 139.55 161.39 L 141.2 160.85 L 138.2 159.05 z" style="fill:#5572df;fill-opacity:0.9"/>
<path d="M 98.55 138.59 L 101.53 139.8 L 103.27 141.57 L 100.31 140.4 z" style="fill:#90b2fe;fill-opacity:0.9"/>
<path d="M 34.08 129.79 L 36.79 124.96 L 38.83 128.44 L 36.1 132.45 z" style="fill:#b1cbfc;fill-opacity:0.9"/>
<path d="M 77.19 129.44 L 80.13 129.57 L 81.97 132.47 L 79.03 132.23 z" style="fill:#abc8fd;fill-opacity:0.9"/>
<path d="M 87.86 133.46 L 90.83 134.21 L 92.62 136.61 L 89.66 135.84 z" style="fill:#9fbfff;fill-opacity:0.9"/>
<path d="M 112.22 145.82 L 115.21 147.48 L 116.91 148.45 L 113.92 146.9 z" style="fill:#7b9ff9;fill-opacity:0.9"/>
<path d="M 29.38 132.39 L 32.03 126.43 L 34.08 129.79 L 31.4 134.77 z" style="fill:#abc8fd;fill-opacity:0.9"/>
<path d="M 150.22 166.51 L 153.24 168.46 L 154.86 167.23 L 151.85 165.42 z" style="fill:#455cce;fill-opacity:0.9"/>
<path d="M 125.88 153.67 L 128.88 155.58 L 130.55 155.7 L 127.55 153.93 z" style="fill:#6687ed;fill-opacity:0.9"/>
<path d="M 139.55 161.39 L 142.56 163.39 L 144.2 162.7 L 141.2 160.85 z" style="fill:#536edd;fill-opacity:0.9"/>
<path d="M 101.53 139.8 L 104.51 141.16 L 106.25 142.87 L 103.27 141.57 z" style="fill:#8fb1fe;fill-opacity:0.9"/>
<path d="M 46.38 125 L 49.2 122.18 L 51.19 126 L 48.37 128.29 z" style="fill:#bcd2f7;fill-opacity:0.9"/>
<path d="M 69.46 126.55 L 72.38 126.13 L 74.26 129.49 L 71.34 129.72 z" style="fill:#b6cefa;fill-opacity:0.9"/>
<path d="M 115.21 147.48 L 118.2 149.25 L 119.9 150.1 L 116.91 148.45 z" style="fill:#799cf8;fill-opacity:0.9"/>
<path d="M 153.24 168.46 L 156.26 170.42 L 157.88 169.05 L 154.86 167.23 z" style="fill:#4257c9;fill-opacity:0.9"/>
<path d="M 128.88 155.58 L 131.89 157.57 L 133.55 157.54 L 130.55 155.7 z" style="fill:#6282ea;fill-opacity:0.9"/>
<path d="M 142.56 163.39 L 145.57 165.43 L 147.21 164.59 L 144.2 162.7 z" style="fill:#4f69d9;fill-opacity:0.9"/>
<path d="M 90.83 134.21 L 93.8 135.13 L 95.58 137.52 L 92.62 136.61 z" style="fill:#9fbfff;fill-opacity:0.9"/>
<path d="M 80.13 129.57 L 83.08 129.9 L 84.91 132.88 L 81.97 132.47 z" style="fill:#aec9fc;fill-opacity:0.9"/>
<path d="M 61.73 124.57 L 64.63 123.47 L 66.55 127.17 L 63.65 127.99 z" style="fill:#bcd2f7;fill-opacity:0.9"/>
<path d="M 54.03 123.89 L 56.89 121.99 L 58.85 125.87 L 55.99 127.37 z" style="fill:#c0d4f5;fill-opacity:0.9"/>
<path d="M 131.89 157.57 L 134.89 159.63 L 136.55 159.43 L 133.55 157.54 z" style="fill:#5e7de7;fill-opacity:0.9"/>
<path d="M 118.2 149.25 L 121.2 151.13 L 122.89 151.84 L 119.9 150.1 z" style="fill:#7699f6;fill-opacity:0.9"/>
<path d="M 104.51 141.16 L 107.5 142.67 L 109.23 144.29 L 106.25 142.87 z" style="fill:#8caffe;fill-opacity:0.9"/>
<path d="M 145.57 165.43 L 148.59 167.52 L 150.22 166.51 L 147.21 164.59 z" style="fill:#4b64d5;fill-opacity:0.9"/>
<path d="M 41.58 124.58 L 44.36 120.91 L 46.38 125 L 43.59 128.02 z" style="fill:#c1d4f4;fill-opacity:0.9"/>
<path d="M 134.89 159.63 L 137.9 161.75 L 139.55 161.39 L 136.55 159.43 z" style="fill:#5a78e4;fill-opacity:0.9"/>
<path d="M 93.8 135.13 L 96.78 136.22 L 98.55 138.59 L 95.58 137.52 z" style="fill:#9fbfff;fill-opacity:0.9"/>
<path d="M 121.2 151.13 L 124.21 153.11 L 125.88 153.67 L 122.89 151.84 z" style="fill:#7295f4;fill-opacity:0.9"/>
<path d="M 148.59 167.52 L 151.61 169.63 L 153.24 168.46 L 150.22 166.51 z" style="fill:#465ecf;fill-opacity:0.9"/>
<path d="M 72.38 126.13 L 75.32 125.92 L 77.19 129.44 L 74.26 129.49 z" style="fill:#bad0f8;fill-opacity:0.9"/>
<path d="M 107.5 142.67 L 110.5 144.31 L 112.22 145.82 L 109.23 144.29 z" style="fill:#8badfd;fill-opacity:0.9"/>
<path d="M 83.08 129.9 L 86.04 130.42 L 87.86 133.46 L 84.91 132.88 z" style="fill:#afcafc;fill-opacity:0.9"/>
<path d="M 137.9 161.75 L 140.92 163.93 L 142.56 163.39 L 139.55 161.39 z" style="fill:#5673e0;fill-opacity:0.9"/>
<path d="M 151.61 169.63 L 154.63 171.76 L 156.26 170.42 L 153.24 168.46 z" style="fill:#4358cb;fill-opacity:0.9"/>
<path d="M 124.21 153.11 L 127.21 155.18 L 128.88 155.58 L 125.88 153.67 z" style="fill:#6e90f2;fill-opacity:0.9"/>
<path d="M 110.5 144.31 L 113.5 146.09 L 115.21 147.48 L 112.22 145.82 z" style="fill:#86a9fc;fill-opacity:0.9"/>
<path d="M 64.63 123.47 L 67.54 122.6 L 69.46 126.55 L 66.55 127.17 z" style="fill:#c3d5f4;fill-opacity:0.9"/>
<path d="M 96.78 136.22 L 99.77 137.48 L 101.53 139.8 L 98.55 138.59 z" style="fill:#9ebeff;fill-opacity:0.9"/>
<path d="M 36.79 124.96 L 39.53 120.3 L 41.58 124.58 L 38.83 128.44 z" style="fill:#c4d5f3;fill-opacity:0.9"/>
<path d="M 49.2 122.18 L 52.04 119.57 L 54.03 123.89 L 51.19 126 z" style="fill:#c9d7f0;fill-opacity:0.9"/>
<path d="M 140.92 163.93 L 143.93 166.16 L 145.57 165.43 L 142.56 163.39 z" style="fill:#516ddb;fill-opacity:0.9"/>
<path d="M 127.21 155.18 L 130.22 157.34 L 131.89 157.57 L 128.88 155.58 z" style="fill:#6a8bef;fill-opacity:0.9"/>
<path d="M 56.89 121.99 L 59.77 120.32 L 61.73 124.57 L 58.85 125.87 z" style="fill:#c9d7f0;fill-opacity:0.9"/>
<path d="M 86.04 130.42 L 89.02 131.15 L 90.83 134.21 L 87.86 133.46 z" style="fill:#b1cbfc;fill-opacity:0.9"/>
<path d="M 75.32 125.92 L 78.27 125.93 L 80.13 129.57 L 77.19 129.44 z" style="fill:#bed2f6;fill-opacity:0.9"/>
<path d="M 143.93 166.16 L 146.95 168.43 L 148.59 167.52 L 145.57 165.43 z" style="fill:#4e68d8;fill-opacity:0.9"/>
<path d="M 113.5 146.09 L 116.5 148 L 118.2 149.25 L 115.21 147.48 z" style="fill:#84a7fc;fill-opacity:0.9"/>
<path d="M 32.03 126.43 L 34.71 120.63 L 36.79 124.96 L 34.08 129.79 z" style="fill:#c4d5f3;fill-opacity:0.9"/>
<path d="M 130.22 157.34 L 133.23 159.59 L 134.89 159.63 L 131.89 157.57 z" style="fill:#6485ec;fill-opacity:0.9"/>
<path d="M 99.77 137.48 L 102.76 138.92 L 104.51 141.16 L 101.53 139.8 z" style="fill:#9dbdff;fill-opacity:0.9"/>
<path d="M 146.95 168.43 L 149.97 170.73 L 151.61 169.63 L 148.59 167.52 z" style="fill:#4961d2;fill-opacity:0.9"/>
<path d="M 116.5 148 L 119.51 150.04 L 121.2 151.13 L 118.2 149.25 z" style="fill:#80a3fa;fill-opacity:0.9"/>
<path d="M 133.23 159.59 L 136.25 161.91 L 137.9 161.75 L 134.89 159.63 z" style="fill:#5f7fe8;fill-opacity:0.9"/>
<path d="M 89.02 131.15 L 92 132.07 L 93.8 135.13 L 90.83 134.21 z" style="fill:#b1cbfc;fill-opacity:0.9"/>
<path d="M 67.54 122.6 L 70.47 121.95 L 72.38 126.13 L 69.46 126.55 z" style="fill:#c9d7f0;fill-opacity:0.9"/>
<path d="M 149.97 170.73 L 153 173.06 L 154.63 171.76 L 151.61 169.63 z" style="fill:#445acc;fill-opacity:0.9"/>
<path d="M 102.76 138.92 L 105.76 140.52 L 107.5 142.67 L 104.51 141.16 z" style="fill:#9bbcff;fill-opacity:0.9"/>
<path d="M 44.36 120.91 L 47.17 117.46 L 49.2 122.18 L 46.38 125 z" style="fill:#cfdaea;fill-opacity:0.9"/>
<path d="M 136.25 161.91 L 139.27 164.29 L 140.92 163.93 L 137.9 161.75 z" style="fill:#5b7ae5;fill-opacity:0.9"/>
<path d="M 119.51 150.04 L 122.52 152.19 L 124.21 153.11 L 121.2 151.13 z" style="fill:#7b9ff9;fill-opacity:0.9"/>
<path d="M 78.27 125.93 L 81.23 126.16 L 83.08 129.9 L 80.13 129.57 z" style="fill:#c0d4f5;fill-opacity:0.9"/>
<path d="M 59.77 120.32 L 62.67 118.89 L 64.63 123.47 L 61.73 124.57 z" style="fill:#cfdaea;fill-opacity:0.9"/>
<path d="M 139.27 164.29 L 142.29 166.73 L 143.93 166.16 L 140.92 163.93 z" style="fill:#5673e0;fill-opacity:0.9"/>
<path d="M 52.04 119.57 L 54.89 117.2 L 56.89 121.99 L 54.03 123.89 z" style="fill:#d3dbe7;fill-opacity:0.9"/>
<path d="M 105.76 140.52 L 108.76 142.29 L 110.5 144.31 L 107.5 142.67 z" style="fill:#98b9ff;fill-opacity:0.9"/>
<path d="M 122.52 152.19 L 125.53 154.45 L 127.21 155.18 L 124.21 153.11 z" style="fill:#7699f6;fill-opacity:0.9"/>
<path d="M 92 132.07 L 94.99 133.19 L 96.78 136.22 L 93.8 135.13 z" style="fill:#b1cbfc;fill-opacity:0.9"/>
<path d="M 142.29 166.73 L 145.31 169.22 L 146.95 168.43 L 143.93 166.16 z" style="fill:#506bda;fill-opacity:0.9"/>
<path d="M 125.53 154.45 L 128.55 156.82 L 130.22 157.34 L 127.21 155.18 z" style="fill:#7295f4;fill-opacity:0.9"/>
<path d="M 39.53 120.3 L 42.29 115.86 L 44.36 120.91 L 41.58 124.58 z" style="fill:#d5dbe5;fill-opacity:0.9"/>
<path d="M 108.76 142.29 L 111.77 144.21 L 113.5 146.09 L 110.5 144.31 z" style="fill:#94b6ff;fill-opacity:0.9"/>
<path d="M 70.47 121.95 L 73.41 121.56 L 75.32 125.92 L 72.38 126.13 z" style="fill:#cdd9ec;fill-opacity:0.9"/>
<path d="M 81.23 126.16 L 84.2 126.62 L 86.04 130.42 L 83.08 129.9 z" style="fill:#c1d4f4;fill-opacity:0.9"/>
<path d="M 145.31 169.22 L 148.33 171.75 L 149.97 170.73 L 146.95 168.43 z" style="fill:#4b64d5;fill-opacity:0.9"/>
<path d="M 128.55 156.82 L 131.57 159.28 L 133.23 159.59 L 130.22 157.34 z" style="fill:#6c8ff1;fill-opacity:0.9"/>
<path d="M 94.99 133.19 L 97.99 134.52 L 99.77 137.48 L 96.78 136.22 z" style="fill:#afcafc;fill-opacity:0.9"/>
<path d="M 148.33 171.75 L 151.36 174.31 L 153 173.06 L 149.97 170.73 z" style="fill:#465ecf;fill-opacity:0.9"/>
<path d="M 111.77 144.21 L 114.79 146.28 L 116.5 148 L 113.5 146.09 z" style="fill:#90b2fe;fill-opacity:0.9"/>
<path d="M 131.57 159.28 L 134.59 161.83 L 136.25 161.91 L 133.23 159.59 z" style="fill:#6687ed;fill-opacity:0.9"/>
<path d="M 62.67 118.89 L 65.59 117.71 L 67.54 122.6 L 64.63 123.47 z" style="fill:#d6dce4;fill-opacity:0.9"/>
<path d="M 34.71 120.63 L 37.42 115.03 L 39.53 120.3 L 36.79 124.96 z" style="fill:#d7dce3;fill-opacity:0.9"/>
<path d="M 134.59 161.83 L 137.61 164.45 L 139.27 164.29 L 136.25 161.91 z" style="fill:#6180e9;fill-opacity:0.9"/>
<path d="M 47.17 117.46 L 50 114.25 L 52.04 119.57 L 49.2 122.18 z" style="fill:#dbdcde;fill-opacity:0.9"/>
<path d="M 114.79 146.28 L 117.8 148.5 L 119.51 150.04 L 116.5 148 z" style="fill:#8caffe;fill-opacity:0.9"/>
<path d="M 84.2 126.62 L 87.18 127.31 L 89.02 131.15 L 86.04 130.42 z" style="fill:#c3d5f4;fill-opacity:0.9"/>
<path d="M 97.99 134.52 L 100.99 136.04 L 102.76 138.92 L 99.77 137.48 z" style="fill:#adc9fd;fill-opacity:0.9"/>
<path d="M 54.89 117.2 L 57.78 115.09 L 59.77 120.32 L 56.89 121.99 z" style="fill:#dbdcde;fill-opacity:0.9"/>
<path d="M 137.61 164.45 L 140.63 167.14 L 142.29 166.73 L 139.27 164.29 z" style="fill:#5a78e4;fill-opacity:0.9"/>
<path d="M 73.41 121.56 L 76.37 121.41 L 78.27 125.93 L 75.32 125.92 z" style="fill:#d1dae9;fill-opacity:0.9"/>
<path d="M 117.8 148.5 L 120.82 150.86 L 122.52 152.19 L 119.51 150.04 z" style="fill:#86a9fc;fill-opacity:0.9"/>
<path d="M 140.63 167.14 L 143.66 169.88 L 145.31 169.22 L 142.29 166.73 z" style="fill:#5470de;fill-opacity:0.9"/>
<path d="M 100.99 136.04 L 104 137.75 L 105.76 140.52 L 102.76 138.92 z" style="fill:#aac7fd;fill-opacity:0.9"/>
<path d="M 120.82 150.86 L 123.85 153.35 L 125.53 154.45 L 122.52 152.19 z" style="fill:#81a4fb;fill-opacity:0.9"/>
<path d="M 143.66 169.88 L 146.68 172.67 L 148.33 171.75 L 145.31 169.22 z" style="fill:#4f69d9;fill-opacity:0.9"/>
<path d="M 87.18 127.31 L 90.18 128.24 L 92 132.07 L 89.02 131.15 z" style="fill:#c3d5f4;fill-opacity:0.9"/>
<path d="M 146.68 172.67 L 149.71 175.49 L 151.36 174.31 L 148.33 171.75 z" style="fill:#485fd1;fill-opacity:0.9"/>
<path d="M 123.85 153.35 L 126.87 155.95 L 128.55 156.82 L 125.53 154.45 z" style="fill:#7b9ff9;fill-opacity:0.9"/>
<path d="M 104 137.75 L 107.02 139.66 L 108.76 142.29 L 105.76 140.52 z" style="fill:#a7c5fe;fill-opacity:0.9"/>
<path d="M 65.59 117.71 L 68.53 116.81 L 70.47 121.95 L 67.54 122.6 z" style="fill:#dbdcde;fill-opacity:0.9"/>
<path d="M 76.37 121.41 L 79.35 121.53 L 81.23 126.16 L 78.27 125.93 z" style="fill:#d3dbe7;fill-opacity:0.9"/>
<path d="M 42.29 115.86 L 45.08 111.67 L 47.17 117.46 L 44.36 120.91 z" style="fill:#e3d9d3;fill-opacity:0.9"/>
<path d="M 126.87 155.95 L 129.89 158.67 L 131.57 159.28 L 128.55 156.82 z" style="fill:#7597f6;fill-opacity:0.9"/>
<path d="M 90.18 128.24 L 93.18 129.4 L 94.99 133.19 L 92 132.07 z" style="fill:#c3d5f4;fill-opacity:0.9"/>
<path d="M 129.89 158.67 L 132.92 161.48 L 134.59 161.83 L 131.57 159.28 z" style="fill:#6e90f2;fill-opacity:0.9"/>
<path d="M 107.02 139.66 L 110.04 141.75 L 111.77 144.21 L 108.76 142.29 z" style="fill:#a3c2fe;fill-opacity:0.9"/>
<path d="M 57.78 115.09 L 60.68 113.26 L 62.67 118.89 L 59.77 120.32 z" style="fill:#e3d9d3;fill-opacity:0.9"/>
<path d="M 132.92 161.48 L 135.95 164.38 L 137.61 164.45 L 134.59 161.83 z" style="fill:#6788ee;fill-opacity:0.9"/>
<path d="M 50 114.25 L 52.85 111.33 L 54.89 117.2 L 52.04 119.57 z" style="fill:#e6d7cf;fill-opacity:0.9"/>
<path d="M 110.04 141.75 L 113.06 144.02 L 114.79 146.28 L 111.77 144.21 z" style="fill:#9fbfff;fill-opacity:0.9"/>
<path d="M 135.95 164.38 L 138.97 167.35 L 140.63 167.14 L 137.61 164.45 z" style="fill:#6180e9;fill-opacity:0.9"/>
<path d="M 138.97 167.35 L 142 170.39 L 143.66 169.88 L 140.63 167.14 z" style="fill:#5977e3;fill-opacity:0.9"/>
<path d="M 93.18 129.4 L 96.19 130.79 L 97.99 134.52 L 94.99 133.19 z" style="fill:#c1d4f4;fill-opacity:0.9"/>
<path d="M 79.35 121.53 L 82.33 121.91 L 84.2 126.62 L 81.23 126.16 z" style="fill:#d5dbe5;fill-opacity:0.9"/>
<path d="M 68.53 116.81 L 71.48 116.19 L 73.41 121.56 L 70.47 121.95 z" style="fill:#e0dbd8;fill-opacity:0.9"/>
<path d="M 113.06 144.02 L 116.09 146.45 L 117.8 148.5 L 114.79 146.28 z" style="fill:#9abbff;fill-opacity:0.9"/>
<path d="M 142 170.39 L 145.03 173.48 L 146.68 172.67 L 143.66 169.88 z" style="fill:#516ddb;fill-opacity:0.9"/>
<path d="M 37.42 115.03 L 40.17 109.69 L 42.29 115.86 L 39.53 120.3 z" style="fill:#e8d6cc;fill-opacity:0.9"/>
<path d="M 145.03 173.48 L 148.06 176.6 L 149.71 175.49 L 146.68 172.67 z" style="fill:#4a63d3;fill-opacity:0.9"/>
<path d="M 116.09 146.45 L 119.12 149.05 L 120.82 150.86 L 117.8 148.5 z" style="fill:#94b6ff;fill-opacity:0.9"/>
<path d="M 96.19 130.79 L 99.21 132.41 L 100.99 136.04 L 97.99 134.52 z" style="fill:#bfd3f6;fill-opacity:0.9"/>
<path d="M 119.12 149.05 L 122.15 151.79 L 123.85 153.35 L 120.82 150.86 z" style="fill:#8db0fe;fill-opacity:0.9"/>
<path d="M 82.33 121.91 L 85.33 122.57 L 87.18 127.31 L 84.2 126.62 z" style="fill:#d6dce4;fill-opacity:0.9"/>
<path d="M 60.68 113.26 L 63.6 111.73 L 65.59 117.71 L 62.67 118.89 z" style="fill:#ead5c9;fill-opacity:0.9"/>
<path d="M 122.15 151.79 L 125.18 154.67 L 126.87 155.95 L 123.85 153.35 z" style="fill:#86a9fc;fill-opacity:0.9"/>
<path d="M 99.21 132.41 L 102.23 134.26 L 104 137.75 L 100.99 136.04 z" style="fill:#bcd2f7;fill-opacity:0.9"/>
<path d="M 45.08 111.67 L 47.9 107.77 L 50 114.25 L 47.17 117.46 z" style="fill:#eed0c0;fill-opacity:0.9"/>
<path d="M 125.18 154.67 L 128.21 157.68 L 129.89 158.67 L 126.87 155.95 z" style="fill:#80a3fa;fill-opacity:0.9"/>
<path d="M 71.48 116.19 L 74.45 115.87 L 76.37 121.41 L 73.41 121.56 z" style="fill:#e3d9d3;fill-opacity:0.9"/>
<path d="M 128.21 157.68 L 131.25 160.8 L 132.92 161.48 L 129.89 158.67 z" style="fill:#779af7;fill-opacity:0.9"/>
<path d="M 52.85 111.33 L 55.73 108.7 L 57.78 115.09 L 54.89 117.2 z" style="fill:#eed0c0;fill-opacity:0.9"/>
<path d="M 131.25 160.8 L 134.28 164.02 L 135.95 164.38 L 132.92 161.48 z" style="fill:#6f92f3;fill-opacity:0.9"/>
<path d="M 102.23 134.26 L 105.26 136.33 L 107.02 139.66 L 104 137.75 z" style="fill:#b9d0f9;fill-opacity:0.9"/>
<path d="M 134.28 164.02 L 137.31 167.33 L 138.97 167.35 L 135.95 164.38 z" style="fill:#6788ee;fill-opacity:0.9"/>
<path d="M 85.33 122.57 L 88.33 123.49 L 90.18 128.24 L 87.18 127.31 z" style="fill:#d6dce4;fill-opacity:0.9"/>
<path d="M 137.31 167.33 L 140.34 170.71 L 142 170.39 L 138.97 167.35 z" style="fill:#5e7de7;fill-opacity:0.9"/>
<path d="M 140.34 170.71 L 143.37 174.15 L 145.03 173.48 L 142 170.39 z" style="fill:#5572df;fill-opacity:0.9"/>
<path d="M 143.37 174.15 L 146.4 177.63 L 148.06 176.6 L 145.03 173.48 z" style="fill:#4e68d8;fill-opacity:0.9"/>
<path d="M 105.26 136.33 L 108.29 138.62 L 110.04 141.75 L 107.02 139.66 z" style="fill:#b5cdfa;fill-opacity:0.9"/>
<path d="M 74.45 115.87 L 77.43 115.85 L 79.35 121.53 L 76.37 121.41 z" style="fill:#e6d7cf;fill-opacity:0.9"/>
<path d="M 63.6 111.73 L 66.54 110.52 L 68.53 116.81 L 65.59 117.71 z" style="fill:#eed0c0;fill-opacity:0.9"/>
<path d="M 88.33 123.49 L 91.35 124.69 L 93.18 129.4 L 90.18 128.24 z" style="fill:#d6dce4;fill-opacity:0.9"/>
<path d="M 108.29 138.62 L 111.33 141.11 L 113.06 144.02 L 110.04 141.75 z" style="fill:#afcafc;fill-opacity:0.9"/>
<path d="M 40.17 109.69 L 42.94 104.63 L 45.08 111.67 L 42.29 115.86 z" style="fill:#f2c9b4;fill-opacity:0.9"/>
<path d="M 111.33 141.11 L 114.36 143.8 L 116.09 146.45 L 113.06 144.02 z" style="fill:#aac7fd;fill-opacity:0.9"/>
<path d="M 114.36 143.8 L 117.4 146.67 L 119.12 149.05 L 116.09 146.45 z" style="fill:#a3c2fe;fill-opacity:0.9"/>
<path d="M 91.35 124.69 L 94.37 126.17 L 96.19 130.79 L 93.18 129.4 z" style="fill:#d5dbe5;fill-opacity:0.9"/>
<path d="M 55.73 108.7 L 58.63 106.41 L 60.68 113.26 L 57.78 115.09 z" style="fill:#f2c9b4;fill-opacity:0.9"/>
<path d="M 117.4 146.67 L 120.44 149.71 L 122.15 151.79 L 119.12 149.05 z" style="fill:#9bbcff;fill-opacity:0.9"/>
<path d="M 47.9 107.77 L 50.75 104.19 L 52.85 111.33 L 50 114.25 z" style="fill:#f4c5ad;fill-opacity:0.9"/>
<path d="M 120.44 149.71 L 123.48 152.92 L 125.18 154.67 L 122.15 151.79 z" style="fill:#94b6ff;fill-opacity:0.9"/>
<path d="M 77.43 115.85 L 80.43 116.14 L 82.33 121.91 L 79.35 121.53 z" style="fill:#e8d6cc;fill-opacity:0.9"/>
<path d="M 123.48 152.92 L 126.52 156.27 L 128.21 157.68 L 125.18 154.67 z" style="fill:#8badfd;fill-opacity:0.9"/>
<path d="M 141.71 174.67 L 144.74 178.56 L 146.4 177.63 L 143.37 174.15 z" style="fill:#506bda;fill-opacity:0.9"/>
<path d="M 126.52 156.27 L 129.56 159.75 L 131.25 160.8 L 128.21 157.68 z" style="fill:#82a6fb;fill-opacity:0.9"/>
<path d="M 138.67 170.82 L 141.71 174.67 L 143.37 174.15 L 140.34 170.71 z" style="fill:#5a78e4;fill-opacity:0.9"/>
<path d="M 129.56 159.75 L 132.6 163.35 L 134.28 164.02 L 131.25 160.8 z" style="fill:#799cf8;fill-opacity:0.9"/>
<path d="M 135.64 167.04 L 138.67 170.82 L 140.34 170.71 L 137.31 167.33 z" style="fill:#6485ec;fill-opacity:0.9"/>
<path d="M 132.6 163.35 L 135.64 167.04 L 137.31 167.33 L 134.28 164.02 z" style="fill:#6e90f2;fill-opacity:0.9"/>
<path d="M 94.37 126.17 L 97.4 127.91 L 99.21 132.41 L 96.19 130.79 z" style="fill:#d3dbe7;fill-opacity:0.9"/>
<path d="M 66.54 110.52 L 69.5 109.64 L 71.48 116.19 L 68.53 116.81 z" style="fill:#f1ccb8;fill-opacity:0.9"/>
<path d="M 97.4 127.91 L 100.44 129.92 L 102.23 134.26 L 99.21 132.41 z" style="fill:#cfdaea;fill-opacity:0.9"/>
<path d="M 80.43 116.14 L 83.44 116.75 L 85.33 122.57 L 82.33 121.91 z" style="fill:#e9d5cb;fill-opacity:0.9"/>
<path d="M 100.44 129.92 L 103.48 132.18 L 105.26 136.33 L 102.23 134.26 z" style="fill:#ccd9ed;fill-opacity:0.9"/>
<path d="M 58.63 106.41 L 61.56 104.46 L 63.6 111.73 L 60.68 113.26 z" style="fill:#f5c0a7;fill-opacity:0.9"/>
<path d="M 69.5 109.64 L 72.48 109.11 L 74.45 115.87 L 71.48 116.19 z" style="fill:#f3c8b2;fill-opacity:0.9"/>
<path d="M 103.48 132.18 L 106.53 134.69 L 108.29 138.62 L 105.26 136.33 z" style="fill:#c7d7f0;fill-opacity:0.9"/>
<path d="M 42.94 104.63 L 45.75 99.9 L 47.9 107.77 L 45.08 111.67 z" style="fill:#f7b89c;fill-opacity:0.9"/>
<path d="M 83.44 116.75 L 86.46 117.68 L 88.33 123.49 L 85.33 122.57 z" style="fill:#ead5c9;fill-opacity:0.9"/>
<path d="M 140.04 175 L 143.07 179.38 L 144.74 178.56 L 141.71 174.67 z" style="fill:#5470de;fill-opacity:0.9"/>
<path d="M 50.75 104.19 L 53.63 100.96 L 55.73 108.7 L 52.85 111.33 z" style="fill:#f7b89c;fill-opacity:0.9"/>
<path d="M 106.53 134.69 L 109.58 137.45 L 111.33 141.11 L 108.29 138.62 z" style="fill:#c3d5f4;fill-opacity:0.9"/>
<path d="M 137 170.68 L 140.04 175 L 141.71 174.67 L 138.67 170.82 z" style="fill:#5f7fe8;fill-opacity:0.9"/>
<path d="M 109.58 137.45 L 112.63 140.43 L 114.36 143.8 L 111.33 141.11 z" style="fill:#bbd1f8;fill-opacity:0.9"/>
<path d="M 133.96 166.44 L 137 170.68 L 138.67 170.82 L 135.64 167.04 z" style="fill:#6b8df0;fill-opacity:0.9"/>
<path d="M 130.92 162.29 L 133.96 166.44 L 135.64 167.04 L 132.6 163.35 z" style="fill:#779af7;fill-opacity:0.9"/>
<path d="M 112.63 140.43 L 115.68 143.62 L 117.4 146.67 L 114.36 143.8 z" style="fill:#b5cdfa;fill-opacity:0.9"/>
<path d="M 127.88 158.25 L 130.92 162.29 L 132.6 163.35 L 129.56 159.75 z" style="fill:#84a7fc;fill-opacity:0.9"/>
<path d="M 115.68 143.62 L 118.73 147.02 L 120.44 149.71 L 117.4 146.67 z" style="fill:#abc8fd;fill-opacity:0.9"/>
<path d="M 86.46 117.68 L 89.49 118.93 L 91.35 124.69 L 88.33 123.49 z" style="fill:#e9d5cb;fill-opacity:0.9"/>
<path d="M 124.83 154.35 L 127.88 158.25 L 129.56 159.75 L 126.52 156.27 z" style="fill:#8fb1fe;fill-opacity:0.9"/>
<path d="M 118.73 147.02 L 121.78 150.6 L 123.48 152.92 L 120.44 149.71 z" style="fill:#a3c2fe;fill-opacity:0.9"/>
<path d="M 121.78 150.6 L 124.83 154.35 L 126.52 156.27 L 123.48 152.92 z" style="fill:#98b9ff;fill-opacity:0.9"/>
<path d="M 72.48 109.11 L 75.48 108.93 L 77.43 115.85 L 74.45 115.87 z" style="fill:#f4c5ad;fill-opacity:0.9"/>
<path d="M 61.56 104.46 L 64.51 102.89 L 66.54 110.52 L 63.6 111.73 z" style="fill:#f7b89c;fill-opacity:0.9"/>
<path d="M 89.49 118.93 L 92.53 120.49 L 94.37 126.17 L 91.35 124.69 z" style="fill:#e8d6cc;fill-opacity:0.9"/>
<path d="M 138.36 175.12 L 141.39 180.05 L 143.07 179.38 L 140.04 175 z" style="fill:#5977e3;fill-opacity:0.9"/>
<path d="M 92.53 120.49 L 95.57 122.38 L 97.4 127.91 L 94.37 126.17 z" style="fill:#e6d7cf;fill-opacity:0.9"/>
<path d="M 75.48 108.93 L 78.49 109.12 L 80.43 116.14 L 77.43 115.85 z" style="fill:#f5c1a9;fill-opacity:0.9"/>
<path d="M 53.63 100.96 L 56.53 98.11 L 58.63 106.41 L 55.73 108.7 z" style="fill:#f7aa8c;fill-opacity:0.9"/>
<path d="M 135.32 170.25 L 138.36 175.12 L 140.04 175 L 137 170.68 z" style="fill:#6687ed;fill-opacity:0.9"/>
<path d="M 45.75 99.9 L 48.59 95.55 L 50.75 104.19 L 47.9 107.77 z" style="fill:#f6a385;fill-opacity:0.9"/>
<path d="M 95.57 122.38 L 98.63 124.56 L 100.44 129.92 L 97.4 127.91 z" style="fill:#e3d9d3;fill-opacity:0.9"/>
<path d="M 132.28 165.47 L 135.32 170.25 L 137 170.68 L 133.96 166.44 z" style="fill:#7597f6;fill-opacity:0.9"/>
<path d="M 64.51 102.89 L 67.48 101.7 L 69.5 109.64 L 66.54 110.52 z" style="fill:#f7b093;fill-opacity:0.9"/>
<path d="M 129.23 160.79 L 132.28 165.47 L 133.96 166.44 L 130.92 162.29 z" style="fill:#82a6fb;fill-opacity:0.9"/>
<path d="M 98.63 124.56 L 101.68 127.05 L 103.48 132.18 L 100.44 129.92 z" style="fill:#dfdbd9;fill-opacity:0.9"/>
<path d="M 78.49 109.12 L 81.51 109.67 L 83.44 116.75 L 80.43 116.14 z" style="fill:#f5c0a7;fill-opacity:0.9"/>
<path d="M 126.18 156.24 L 129.23 160.79 L 130.92 162.29 L 127.88 158.25 z" style="fill:#90b2fe;fill-opacity:0.9"/>
<path d="M 101.68 127.05 L 104.75 129.84 L 106.53 134.69 L 103.48 132.18 z" style="fill:#dbdcde;fill-opacity:0.9"/>
<path d="M 123.12 151.85 L 126.18 156.24 L 127.88 158.25 L 124.83 154.35 z" style="fill:#9dbdff;fill-opacity:0.9"/>
<path d="M 104.75 129.84 L 107.81 132.89 L 109.58 137.45 L 106.53 134.69 z" style="fill:#d5dbe5;fill-opacity:0.9"/>
<path d="M 120.06 147.63 L 123.12 151.85 L 124.83 154.35 L 121.78 150.6 z" style="fill:#a9c6fd;fill-opacity:0.9"/>
<path d="M 107.81 132.89 L 110.87 136.22 L 112.63 140.43 L 109.58 137.45 z" style="fill:#cedaeb;fill-opacity:0.9"/>
<path d="M 117 143.6 L 120.06 147.63 L 121.78 150.6 L 118.73 147.02 z" style="fill:#b3cdfb;fill-opacity:0.9"/>
<path d="M 110.87 136.22 L 113.94 139.8 L 115.68 143.62 L 112.63 140.43 z" style="fill:#c7d7f0;fill-opacity:0.9"/>
<path d="M 113.94 139.8 L 117 143.6 L 118.73 147.02 L 115.68 143.62 z" style="fill:#bed2f6;fill-opacity:0.9"/>
<path d="M 136.68 174.99 L 139.71 180.57 L 141.39 180.05 L 138.36 175.12 z" style="fill:#5e7de7;fill-opacity:0.9"/>
<path d="M 81.51 109.67 L 84.55 110.6 L 86.46 117.68 L 83.44 116.75 z" style="fill:#f5c0a7;fill-opacity:0.9"/>
<path d="M 56.53 98.11 L 59.46 95.67 L 61.56 104.46 L 58.63 106.41 z" style="fill:#f59c7d;fill-opacity:0.9"/>
<path d="M 67.48 101.7 L 70.47 100.92 L 72.48 109.11 L 69.5 109.64 z" style="fill:#f7a98b;fill-opacity:0.9"/>
<path d="M 133.64 169.48 L 136.68 174.99 L 138.36 175.12 L 135.32 170.25 z" style="fill:#6e90f2;fill-opacity:0.9"/>
<path d="M 48.59 95.55 L 51.46 91.6 L 53.63 100.96 L 50.75 104.19 z" style="fill:#f18f71;fill-opacity:0.9"/>
<path d="M 84.55 110.6 L 87.6 111.91 L 89.49 118.93 L 86.46 117.68 z" style="fill:#f5c0a7;fill-opacity:0.9"/>
<path d="M 130.59 164.06 L 133.64 169.48 L 135.32 170.25 L 132.28 165.47 z" style="fill:#7ea1fa;fill-opacity:0.9"/>
<path d="M 70.47 100.92 L 73.48 100.55 L 75.48 108.93 L 72.48 109.11 z" style="fill:#f6a385;fill-opacity:0.9"/>
<path d="M 127.53 158.76 L 130.59 164.06 L 132.28 165.47 L 129.23 160.79 z" style="fill:#8fb1fe;fill-opacity:0.9"/>
<path d="M 87.6 111.91 L 90.65 113.58 L 92.53 120.49 L 89.49 118.93 z" style="fill:#f5c2aa;fill-opacity:0.9"/>
<path d="M 59.46 95.67 L 62.42 93.66 L 64.51 102.89 L 61.56 104.46 z" style="fill:#f18f71;fill-opacity:0.9"/>
<path d="M 134.99 174.56 L 138.02 180.9 L 139.71 180.57 L 136.68 174.99 z" style="fill:#6485ec;fill-opacity:0.9"/>
<path d="M 124.47 153.62 L 127.53 158.76 L 129.23 160.79 L 126.18 156.24 z" style="fill:#9ebeff;fill-opacity:0.9"/>
<path d="M 90.65 113.58 L 93.72 115.63 L 95.57 122.38 L 92.53 120.49 z" style="fill:#f4c5ad;fill-opacity:0.9"/>
<path d="M 121.41 148.65 L 124.47 153.62 L 126.18 156.24 L 123.12 151.85 z" style="fill:#adc9fd;fill-opacity:0.9"/>
<path d="M 93.72 115.63 L 96.79 118.03 L 98.63 124.56 L 95.57 122.38 z" style="fill:#f2c9b4;fill-opacity:0.9"/>
<path d="M 73.48 100.55 L 76.5 100.61 L 78.49 109.12 L 75.48 108.93 z" style="fill:#f59f80;fill-opacity:0.9"/>
<path d="M 118.34 143.88 L 121.41 148.65 L 123.12 151.85 L 120.06 147.63 z" style="fill:#bbd1f8;fill-opacity:0.9"/>
<path d="M 131.94 168.3 L 134.99 174.56 L 136.68 174.99 L 133.64 169.48 z" style="fill:#779af7;fill-opacity:0.9"/>
<path d="M 96.79 118.03 L 99.86 120.79 L 101.68 127.05 L 98.63 124.56 z" style="fill:#f1cdba;fill-opacity:0.9"/>
<path d="M 51.46 91.6 L 54.37 88.1 L 56.53 98.11 L 53.63 100.96 z" style="fill:#ea7b60;fill-opacity:0.9"/>
<path d="M 115.26 139.34 L 118.34 143.88 L 120.06 147.63 L 117 143.6 z" style="fill:#c6d6f1;fill-opacity:0.9"/>
<path d="M 99.86 120.79 L 102.94 123.88 L 104.75 129.84 L 101.68 127.05 z" style="fill:#edd1c2;fill-opacity:0.9"/>
<path d="M 112.18 135.05 L 115.26 139.34 L 117 143.6 L 113.94 139.8 z" style="fill:#d2dbe8;fill-opacity:0.9"/>
<path d="M 102.94 123.88 L 106.02 127.3 L 107.81 132.89 L 104.75 129.84 z" style="fill:#e9d5cb;fill-opacity:0.9"/>
<path d="M 109.1 131.03 L 112.18 135.05 L 113.94 139.8 L 110.87 136.22 z" style="fill:#dadce0;fill-opacity:0.9"/>
<path d="M 106.02 127.3 L 109.1 131.03 L 110.87 136.22 L 107.81 132.89 z" style="fill:#e2dad5;fill-opacity:0.9"/>
<path d="M 128.89 162.15 L 131.94 168.3 L 133.64 169.48 L 130.59 164.06 z" style="fill:#8badfd;fill-opacity:0.9"/>
<path d="M 62.42 93.66 L 65.4 92.11 L 67.48 101.7 L 64.51 102.89 z" style="fill:#ed8366;fill-opacity:0.9"/>
<path d="M 76.5 100.61 L 79.54 101.1 L 81.51 109.67 L 78.49 109.12 z" style="fill:#f59d7e;fill-opacity:0.9"/>
<path d="M 133.29 173.79 L 136.33 181.01 L 138.02 180.9 L 134.99 174.56 z" style="fill:#6b8df0;fill-opacity:0.9"/>
<path d="M 125.83 156.13 L 128.89 162.15 L 130.59 164.06 L 127.53 158.76 z" style="fill:#9dbdff;fill-opacity:0.9"/>
<path d="M 79.54 101.1 L 82.6 102.03 L 84.55 110.6 L 81.51 109.67 z" style="fill:#f59c7d;fill-opacity:0.9"/>
<path d="M 122.76 150.29 L 125.83 156.13 L 127.53 158.76 L 124.47 153.62 z" style="fill:#afcafc;fill-opacity:0.9"/>
<path d="M 65.4 92.11 L 68.4 91.03 L 70.47 100.92 L 67.48 101.7 z" style="fill:#e97a5f;fill-opacity:0.9"/>
<path d="M 54.37 88.1 L 57.3 85.08 L 59.46 95.67 L 56.53 98.11 z" style="fill:#e16751;fill-opacity:0.9"/>
<path d="M 130.24 166.66 L 133.29 173.79 L 134.99 174.56 L 131.94 168.3 z" style="fill:#82a6fb;fill-opacity:0.9"/>
<path d="M 82.6 102.03 L 85.67 103.4 L 87.6 111.91 L 84.55 110.6 z" style="fill:#f59d7e;fill-opacity:0.9"/>
<path d="M 119.68 144.64 L 122.76 150.29 L 124.47 153.62 L 121.41 148.65 z" style="fill:#bfd3f6;fill-opacity:0.9"/>
<path d="M 85.67 103.4 L 88.74 105.21 L 90.65 113.58 L 87.6 111.91 z" style="fill:#f5a081;fill-opacity:0.9"/>
<path d="M 116.6 139.24 L 119.68 144.64 L 121.41 148.65 L 118.34 143.88 z" style="fill:#cdd9ec;fill-opacity:0.9"/>
<path d="M 127.18 159.64 L 130.24 166.66 L 131.94 168.3 L 128.89 162.15 z" style="fill:#98b9ff;fill-opacity:0.9"/>
<path d="M 131.59 172.62 L 134.63 180.86 L 136.33 181.01 L 133.29 173.79 z" style="fill:#7396f5;fill-opacity:0.9"/>
<path d="M 68.4 91.03 L 71.42 90.44 L 73.48 100.55 L 70.47 100.92 z" style="fill:#e57058;fill-opacity:0.9"/>
<path d="M 113.51 134.09 L 116.6 139.24 L 118.34 143.88 L 115.26 139.34 z" style="fill:#dadce0;fill-opacity:0.9"/>
<path d="M 88.74 105.21 L 91.83 107.44 L 93.72 115.63 L 90.65 113.58 z" style="fill:#f6a586;fill-opacity:0.9"/>
<path d="M 110.41 129.23 L 113.51 134.09 L 115.26 139.34 L 112.18 135.05 z" style="fill:#e4d9d2;fill-opacity:0.9"/>
<path d="M 91.83 107.44 L 94.92 110.1 L 96.79 118.03 L 93.72 115.63 z" style="fill:#f7aa8c;fill-opacity:0.9"/>
<path d="M 57.3 85.08 L 60.26 82.56 L 62.42 93.66 L 59.46 95.67 z" style="fill:#d75445;fill-opacity:0.9"/>
<path d="M 124.11 152.78 L 127.18 159.64 L 128.89 162.15 L 125.83 156.13 z" style="fill:#aec9fc;fill-opacity:0.9"/>
<path d="M 107.31 124.68 L 110.41 129.23 L 112.18 135.05 L 109.1 131.03 z" style="fill:#edd2c3;fill-opacity:0.9"/>
<path d="M 94.92 110.1 L 98.01 113.17 L 99.86 120.79 L 96.79 118.03 z" style="fill:#f7b194;fill-opacity:0.9"/>
<path d="M 104.21 120.48 L 107.31 124.68 L 109.1 131.03 L 106.02 127.3 z" style="fill:#f2cab5;fill-opacity:0.9"/>
<path d="M 98.01 113.17 L 101.11 116.63 L 102.94 123.88 L 99.86 120.79 z" style="fill:#f7b99e;fill-opacity:0.9"/>
<path d="M 101.11 116.63 L 104.21 120.48 L 106.02 127.3 L 102.94 123.88 z" style="fill:#f5c1a9;fill-opacity:0.9"/>
<path d="M 71.42 90.44 L 74.47 90.35 L 76.5 100.61 L 73.48 100.55 z" style="fill:#e36b54;fill-opacity:0.9"/>
<path d="M 128.54 164.46 L 131.59 172.62 L 133.29 173.79 L 130.24 166.66 z" style="fill:#8fb1fe;fill-opacity:0.9"/>
<path d="M 121.03 146.12 L 124.11 152.78 L 125.83 156.13 L 122.76 150.29 z" style="fill:#c1d4f4;fill-opacity:0.9"/>
<path d="M 74.47 90.35 L 77.53 90.77 L 79.54 101.1 L 76.5 100.61 z" style="fill:#e16751;fill-opacity:0.9"/>
<path d="M 60.26 82.56 L 63.25 80.57 L 65.4 92.11 L 62.42 93.66 z" style="fill:#cd423b;fill-opacity:0.9"/>
<path d="M 117.94 139.68 L 121.03 146.12 L 122.76 150.29 L 119.68 144.64 z" style="fill:#d3dbe7;fill-opacity:0.9"/>
<path d="M 125.47 156.44 L 128.54 164.46 L 130.24 166.66 L 127.18 159.64 z" style="fill:#a7c5fe;fill-opacity:0.9"/>
<path d="M 77.53 90.77 L 80.6 91.7 L 82.6 102.03 L 79.54 101.1 z" style="fill:#e16751;fill-opacity:0.9"/>
<path d="M 114.84 133.52 L 117.94 139.68 L 119.68 144.64 L 116.6 139.24 z" style="fill:#e1dad6;fill-opacity:0.9"/>
<path d="M 122.39 148.59 L 125.47 156.44 L 127.18 159.64 L 124.11 152.78 z" style="fill:#c0d4f5;fill-opacity:0.9"/>
<path d="M 111.73 127.66 L 114.84 133.52 L 116.6 139.24 L 113.51 134.09 z" style="fill:#edd2c3;fill-opacity:0.9"/>
<path d="M 80.6 91.7 L 83.69 93.14 L 85.67 103.4 L 82.6 102.03 z" style="fill:#e26952;fill-opacity:0.9"/>
<path d="M 63.25 80.57 L 66.27 79.14 L 68.4 91.03 L 65.4 92.11 z" style="fill:#c43032;fill-opacity:0.9"/>
<path d="M 108.62 122.13 L 111.73 127.66 L 113.51 134.09 L 110.41 129.23 z" style="fill:#f3c7b1;fill-opacity:0.9"/>
<path d="M 83.69 93.14 L 86.79 95.1 L 88.74 105.21 L 85.67 103.4 z" style="fill:#e36c55;fill-opacity:0.9"/>
<path d="M 105.5 116.97 L 108.62 122.13 L 110.41 129.23 L 107.31 124.68 z" style="fill:#f7ba9f;fill-opacity:0.9"/>
<path d="M 119.29 140.96 L 122.39 148.59 L 124.11 152.78 L 121.03 146.12 z" style="fill:#d4dbe6;fill-opacity:0.9"/>
<path d="M 86.79 95.1 L 89.9 97.56 L 91.83 107.44 L 88.74 105.21 z" style="fill:#e67259;fill-opacity:0.9"/>
<path d="M 102.38 112.21 L 105.5 116.97 L 107.31 124.68 L 104.21 120.48 z" style="fill:#f7ac8e;fill-opacity:0.9"/>
<path d="M 89.9 97.56 L 93.01 100.52 L 94.92 110.1 L 91.83 107.44 z" style="fill:#ea7b60;fill-opacity:0.9"/>
<path d="M 66.27 79.14 L 69.31 78.28 L 71.42 90.44 L 68.4 91.03 z" style="fill:#bd1f2d;fill-opacity:0.9"/>
<path d="M 99.26 107.86 L 102.38 112.21 L 104.21 120.48 L 101.11 116.63 z" style="fill:#f59f80;fill-opacity:0.9"/>
<path d="M 93.01 100.52 L 96.13 103.96 L 98.01 113.17 L 94.92 110.1 z" style="fill:#ee8669;fill-opacity:0.9"/>
<path d="M 96.13 103.96 L 99.26 107.86 L 101.11 116.63 L 98.01 113.17 z" style="fill:#f29274;fill-opacity:0.9"/>
<path d="M 116.19 133.6 L 119.29 140.96 L 121.03 146.12 L 117.94 139.68 z" style="fill:#e5d8d1;fill-opacity:0.9"/>
<path d="M 69.31 78.28 L 72.37 78.01 L 74.47 90.35 L 71.42 90.44 z" style="fill:#b70d28;fill-opacity:0.9"/>
<path d="M 113.07 126.55 L 116.19 133.6 L 117.94 139.68 L 114.84 133.52 z" style="fill:#f2cbb7;fill-opacity:0.9"/>
<path d="M 72.37 78.01 L 75.45 78.34 L 77.53 90.77 L 74.47 90.35 z" style="fill:#b40426;fill-opacity:0.9"/>
<path d="M 109.94 119.85 L 113.07 126.55 L 114.84 133.52 L 111.73 127.66 z" style="fill:#f7ba9f;fill-opacity:0.9"/>
<path d="M 75.45 78.34 L 78.55 79.27 L 80.6 91.7 L 77.53 90.77 z" style="fill:#b40426;fill-opacity:0.9"/>
<path d="M 106.81 113.53 L 109.94 119.85 L 111.73 127.66 L 108.62 122.13 z" style="fill:#f7a889;fill-opacity:0.9"/>
<path d="M 78.55 79.27 L 81.66 80.8 L 83.69 93.14 L 80.6 91.7 z" style="fill:#b40426;fill-opacity:0.9"/>
<path d="M 103.66 107.64 L 106.81 113.53 L 108.62 122.13 L 105.5 116.97 z" style="fill:#f29274;fill-opacity:0.9"/>
<path d="M 100.51 102.21 L 103.66 107.64 L 105.5 116.97 L 102.38 112.21 z" style="fill:#eb7d62;fill-opacity:0.9"/>
<path d="M 81.66 80.8 L 84.79 82.94 L 86.79 95.1 L 83.69 93.14 z" style="fill:#b8122a;fill-opacity:0.9"/>
<path d="M 97.36 97.27 L 100.51 102.21 L 102.38 112.21 L 99.26 107.86 z" style="fill:#e36b54;fill-opacity:0.9"/>
<path d="M 84.79 82.94 L 87.92 85.67 L 89.9 97.56 L 86.79 95.1 z" style="fill:#be242e;fill-opacity:0.9"/>
<path d="M 94.21 92.85 L 97.36 97.27 L 99.26 107.86 L 96.13 103.96 z" style="fill:#d85646;fill-opacity:0.9"/>
<path d="M 87.92 85.67 L 91.07 88.98 L 93.01 100.52 L 89.9 97.56 z" style="fill:#c53334;fill-opacity:0.9"/>
<path d="M 91.07 88.98 L 94.21 92.85 L 96.13 103.96 L 93.01 100.52 z" style="fill:#cf453c;fill-opacity:0.9"/>
</g>
</g>
<g>
<g>
<path d="M 239.12 184.67 L 255.52 184.67 L 255.52 18.04 L 239.12 18.04 z" style="fill:#ffffff"/>
</g>
<rect x="239.116719" y="-17.981073" width="16.403785" height="166.561514" fill="url(#cbg)" opacity="0.902" transform="scale(1 -1) translate(0 -166.561514)"/>
<g/>
<g>
<g>
<g>

<g>
<path d="M 255.521 155.516 L 252.021 155.516" style="stroke: #000000; stroke-width: 0.8"/>
</g>
</g>
<g>
<text x="258.93" y="160.14" font-size="12" text-anchor="start" textLength="22.90" lengthAdjust="spacingAndGlyphs">102</text>
</g>
</g>
<g>
<g>
<g>
<path d="M 255.521 126.340 L 252.021 126.340" style="stroke: #000000; stroke-width: 0.8"/>
</g>
</g>
<g>
<text x="258.93" y="130.96" font-size="12" text-anchor="start" textLength="22.90" lengthAdjust="spacingAndGlyphs">104</text>
</g>
</g>
<g>
<g>
<g>
<path d="M 255.521 97.165 L 252.021 97.165" style="stroke: #000000; stroke-width: 0.8"/>
</g>
</g>
<g>
<text x="258.93" y="101.79" font-size="12" text-anchor="start" textLength="22.90" lengthAdjust="spacingAndGlyphs">106</text>
</g>
</g>
<g>
<g>
<g>
<path d="M 255.521 67.989 L 252.021 67.989" style="stroke: #000000; stroke-width: 0.8"/>
</g>
</g>
<g>
<text x="258.93" y="72.61" font-size="12" text-anchor="start" textLength="22.90" lengthAdjust="spacingAndGlyphs">108</text>
</g>
</g>
<g>
<g>
<g>
<path d="M 255.521 38.814 L 252.021 38.814" style="stroke: #000000; stroke-width: 0.8"/>
</g>
</g>
<g>
<text x="258.93" y="43.44" font-size="12" text-anchor="start" textLength="22.90" lengthAdjust="spacingAndGlyphs">110</text>
</g>
</g>
<g>
<text x="294.63" y="101.45" font-size="12" text-anchor="middle" textLength="128.20" lengthAdjust="spacingAndGlyphs" transform="rotate(-90.000 294.63 101.45)">Power Dispatch (MW)</text>
</g>
</g>
<g/>
<g>
<path d="M 239.12 184.67 L 247.32 184.67 L 255.52 184.67 L 255.52 18.04 L 247.32 18.04 L 239.12 18.04 L 239.12 184.67 z" style="fill:none; stroke: #000000; stroke-width: 0.8; stroke-linejoin: miter; stroke-linecap: square"/>
</g>
</g>
</g>
<defs>
<clipPath id="p07717260ff">
<rect x="-12.066246" y="-17.113565" width="236.119874" height="236.119874"/>
</clipPath>
</defs>
</svg>

</body></html>
